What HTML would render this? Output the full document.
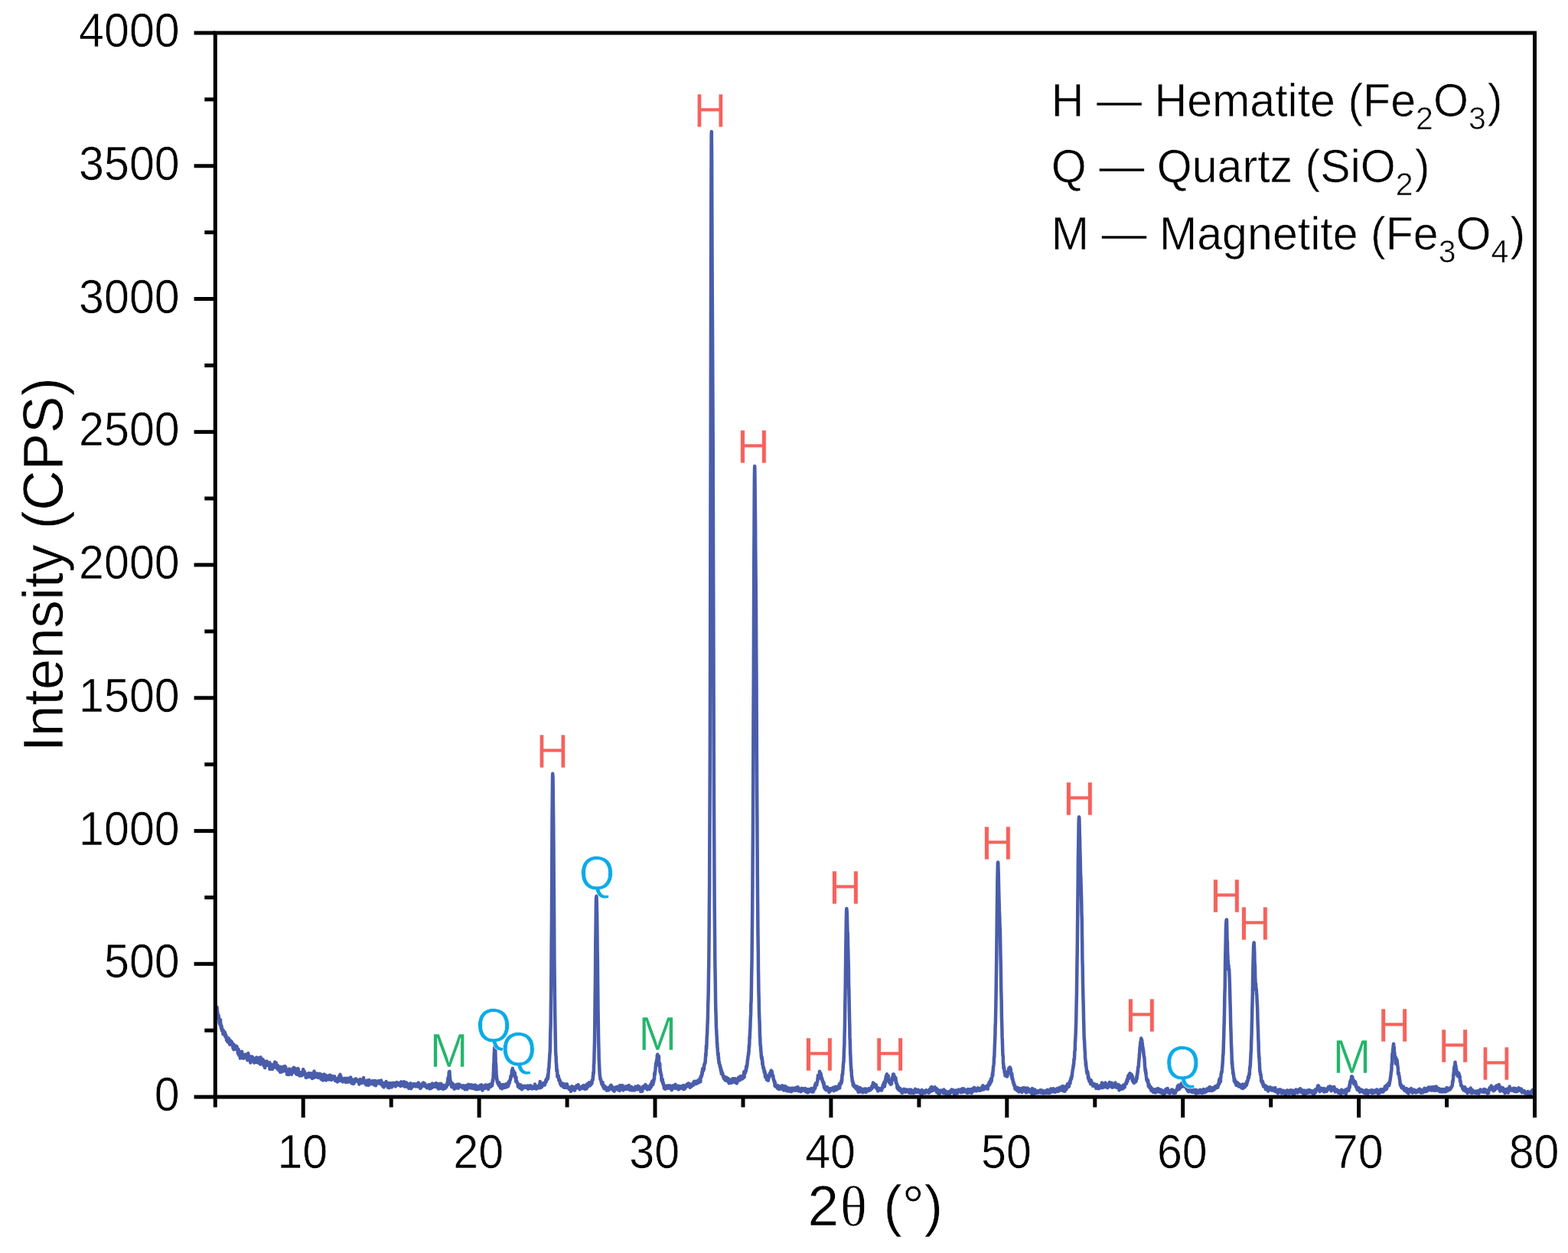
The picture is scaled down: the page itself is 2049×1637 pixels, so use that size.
<!DOCTYPE html>
<html lang="en"><head><meta charset="utf-8"><title>XRD pattern</title>
<style>html,body{margin:0;padding:0;background:#fff}body{width:2049px;height:1637px;overflow:hidden}svg{display:block}text{font-family:"Liberation Sans",sans-serif}</style>
</head><body>
<svg width="2049" height="1637" viewBox="0 0 2049 1637">
<rect x="0" y="0" width="2049" height="1637" fill="#fff"/>
<defs><clipPath id="cp"><rect x="281.3" y="43.0" width="1724.2" height="1390.1"/></clipPath></defs>
<path clip-path="url(#cp)" d="M281.3,1313.5 L281.5,1309.1 L281.8,1314.6 L282.0,1314.3 L282.2,1314.9 L282.4,1317.3 L282.7,1319.5 L282.9,1316.4 L283.1,1318.0 L283.4,1323.8 L283.6,1315.9 L283.8,1319.8 L284.1,1324.5 L284.3,1322.1 L284.5,1325.9 L284.7,1326.1 L285.0,1325.3 L285.2,1330.5 L285.4,1327.6 L285.7,1326.8 L285.9,1327.9 L286.1,1332.1 L286.4,1330.6 L286.6,1336.7 L286.8,1334.5 L287.0,1334.1 L287.3,1338.5 L287.5,1336.5 L287.7,1333.4 L288.0,1332.1 L288.2,1336.5 L288.4,1336.9 L288.7,1341.3 L288.9,1342.5 L289.1,1343.6 L289.3,1340.4 L289.6,1340.7 L289.8,1344.5 L290.0,1346.6 L290.3,1344.4 L290.5,1345.2 L290.7,1347.0 L291.0,1344.9 L291.2,1348.4 L291.4,1348.8 L291.6,1351.3 L291.9,1348.9 L292.1,1346.4 L292.3,1349.1 L292.6,1349.1 L292.8,1348.3 L293.0,1348.7 L293.3,1348.3 L293.5,1348.5 L293.7,1348.5 L293.9,1351.8 L294.2,1349.9 L294.4,1354.3 L294.6,1350.9 L294.9,1354.7 L295.1,1352.9 L295.3,1352.5 L295.6,1355.0 L295.8,1354.7 L296.0,1358.9 L296.2,1357.9 L296.5,1355.2 L296.7,1359.5 L296.9,1356.3 L297.2,1360.9 L297.4,1360.2 L297.6,1360.9 L297.9,1358.9 L298.1,1358.1 L298.3,1361.7 L298.5,1360.1 L298.8,1356.6 L299.0,1360.8 L299.2,1362.1 L299.5,1359.7 L299.7,1361.2 L299.9,1362.3 L300.2,1364.7 L300.4,1359.5 L300.6,1362.5 L300.8,1361.6 L301.1,1364.0 L301.3,1359.4 L301.5,1360.8 L301.8,1360.5 L302.0,1362.9 L302.2,1361.9 L302.5,1361.2 L302.7,1361.1 L302.9,1362.7 L303.1,1363.7 L303.4,1364.6 L303.6,1365.7 L303.8,1366.5 L304.1,1364.0 L304.3,1365.6 L304.5,1369.5 L304.7,1366.1 L305.0,1364.1 L305.2,1367.4 L305.4,1371.2 L305.7,1368.1 L305.9,1366.7 L306.1,1368.4 L306.4,1370.1 L306.6,1365.7 L306.8,1365.8 L307.0,1370.0 L307.3,1368.2 L307.5,1369.1 L307.7,1368.3 L308.0,1366.8 L308.2,1368.0 L308.4,1369.4 L308.7,1370.8 L308.9,1371.0 L309.1,1369.3 L309.3,1366.9 L309.6,1368.9 L309.8,1369.7 L310.0,1369.6 L310.3,1370.5 L310.5,1370.0 L310.7,1374.1 L311.0,1376.4 L311.2,1373.9 L311.4,1376.0 L311.6,1370.8 L311.9,1375.0 L312.1,1375.7 L312.3,1378.8 L312.6,1375.4 L312.8,1377.6 L313.0,1374.3 L313.3,1375.0 L313.5,1378.5 L313.7,1376.1 L313.9,1382.6 L314.2,1378.4 L314.4,1374.4 L314.6,1375.3 L314.9,1376.5 L315.1,1376.9 L315.3,1379.8 L315.6,1379.8 L315.8,1376.7 L316.0,1373.7 L316.2,1382.1 L316.5,1376.6 L316.7,1377.0 L316.9,1376.6 L317.2,1380.7 L317.4,1380.4 L317.6,1379.5 L317.9,1382.0 L318.1,1382.7 L318.3,1382.2 L318.5,1380.7 L318.8,1380.0 L319.0,1380.9 L319.2,1380.7 L319.5,1382.3 L319.7,1382.3 L319.9,1378.4 L320.2,1380.7 L320.4,1380.6 L320.6,1378.4 L320.8,1377.7 L321.1,1377.6 L321.3,1379.5 L321.5,1380.5 L321.8,1379.9 L322.0,1380.3 L322.2,1377.9 L322.5,1380.3 L322.7,1379.7 L322.9,1381.1 L323.1,1378.2 L323.4,1385.2 L323.6,1380.1 L323.8,1379.2 L324.1,1383.0 L324.3,1376.1 L324.5,1380.7 L324.7,1380.7 L325.0,1382.7 L325.2,1378.9 L325.4,1380.6 L325.7,1382.6 L325.9,1381.4 L326.1,1380.9 L326.4,1380.3 L326.6,1382.7 L326.8,1385.3 L327.0,1384.7 L327.3,1388.4 L327.5,1385.3 L327.7,1382.4 L328.0,1382.9 L328.2,1384.0 L328.4,1384.4 L328.7,1380.6 L328.9,1383.2 L329.1,1381.9 L329.3,1383.0 L329.6,1385.1 L329.8,1380.7 L330.0,1386.4 L330.3,1386.4 L330.5,1385.0 L330.7,1385.7 L331.0,1385.6 L331.2,1385.8 L331.4,1382.8 L331.6,1384.9 L331.9,1384.5 L332.1,1388.5 L332.3,1387.2 L332.6,1383.6 L332.8,1388.3 L333.0,1383.6 L333.3,1388.1 L333.5,1385.5 L333.7,1387.7 L333.9,1385.5 L334.2,1387.5 L334.4,1386.1 L334.6,1382.2 L334.9,1386.2 L335.1,1381.4 L335.3,1386.3 L335.6,1387.9 L335.8,1385.5 L336.0,1386.7 L336.2,1382.6 L336.5,1384.6 L336.7,1384.1 L336.9,1385.4 L337.2,1382.0 L337.4,1385.4 L337.6,1386.0 L337.9,1388.7 L338.1,1388.8 L338.3,1386.6 L338.5,1384.9 L338.8,1384.5 L339.0,1388.4 L339.2,1385.5 L339.5,1386.1 L339.7,1388.5 L339.9,1385.3 L340.2,1390.6 L340.4,1385.6 L340.6,1381.3 L340.8,1388.0 L341.1,1385.9 L341.3,1389.5 L341.5,1387.2 L341.8,1384.2 L342.0,1387.6 L342.2,1385.6 L342.5,1386.3 L342.7,1386.4 L342.9,1385.4 L343.1,1385.1 L343.4,1384.0 L343.6,1385.2 L343.8,1388.4 L344.1,1385.1 L344.3,1386.0 L344.5,1392.0 L344.8,1388.2 L345.0,1388.4 L345.2,1388.5 L345.4,1389.7 L345.7,1393.4 L345.9,1391.6 L346.1,1395.0 L346.4,1391.2 L346.6,1386.9 L346.8,1389.2 L347.0,1388.7 L347.3,1391.0 L347.5,1391.6 L347.7,1391.4 L348.0,1388.9 L348.2,1390.5 L348.4,1390.0 L348.7,1386.5 L348.9,1391.8 L349.1,1391.1 L349.3,1389.7 L349.6,1389.0 L349.8,1389.1 L350.0,1391.6 L350.3,1388.7 L350.5,1389.4 L350.7,1388.6 L351.0,1391.5 L351.2,1389.2 L351.4,1389.5 L351.6,1391.3 L351.9,1390.7 L352.1,1391.6 L352.3,1388.2 L352.6,1396.8 L352.8,1393.9 L353.0,1394.5 L353.3,1392.1 L353.5,1392.8 L353.7,1392.4 L353.9,1390.4 L354.2,1394.9 L354.4,1393.6 L354.6,1392.6 L354.9,1394.7 L355.1,1392.0 L355.3,1392.3 L355.6,1394.6 L355.8,1396.9 L356.0,1390.9 L356.2,1393.2 L356.5,1393.5 L356.7,1394.2 L356.9,1394.4 L357.2,1392.7 L357.4,1394.1 L357.6,1394.9 L357.9,1391.9 L358.1,1392.7 L358.3,1393.8 L358.5,1393.6 L358.8,1389.5 L359.0,1390.2 L359.2,1387.5 L359.5,1392.0 L359.7,1392.4 L359.9,1390.4 L360.2,1388.7 L360.4,1390.3 L360.6,1390.9 L360.8,1388.6 L361.1,1393.8 L361.3,1395.2 L361.5,1394.7 L361.8,1394.3 L362.0,1393.4 L362.2,1392.5 L362.5,1394.0 L362.7,1392.2 L362.9,1396.8 L363.1,1392.1 L363.4,1397.2 L363.6,1393.8 L363.8,1397.8 L364.1,1395.6 L364.3,1396.3 L364.5,1395.7 L364.8,1395.4 L365.0,1397.4 L365.2,1397.3 L365.4,1396.9 L365.7,1399.9 L365.9,1399.0 L366.1,1400.8 L366.4,1397.9 L366.6,1393.8 L366.8,1396.5 L367.1,1399.4 L367.3,1399.0 L367.5,1395.9 L367.7,1398.5 L368.0,1400.4 L368.2,1399.2 L368.4,1399.1 L368.7,1399.0 L368.9,1395.8 L369.1,1396.8 L369.3,1399.6 L369.6,1397.8 L369.8,1398.9 L370.0,1399.0 L370.3,1399.5 L370.5,1393.6 L370.7,1397.3 L371.0,1395.7 L371.2,1395.1 L371.4,1397.4 L371.6,1395.8 L371.9,1395.9 L372.1,1396.5 L372.3,1393.1 L372.6,1396.6 L372.8,1397.6 L373.0,1396.1 L373.3,1394.2 L373.5,1395.8 L373.7,1398.6 L373.9,1399.5 L374.2,1400.0 L374.4,1399.8 L374.6,1398.3 L374.9,1397.8 L375.1,1403.7 L375.3,1400.0 L375.6,1402.3 L375.8,1399.4 L376.0,1399.2 L376.2,1402.3 L376.5,1401.9 L376.7,1402.8 L376.9,1400.5 L377.2,1404.0 L377.4,1403.1 L377.6,1402.2 L377.9,1398.7 L378.1,1396.4 L378.3,1400.5 L378.5,1402.6 L378.8,1400.2 L379.0,1401.7 L379.2,1399.4 L379.5,1402.1 L379.7,1400.8 L379.9,1400.3 L380.2,1399.5 L380.4,1400.6 L380.6,1398.3 L380.8,1400.3 L381.1,1403.7 L381.3,1398.8 L381.5,1400.7 L381.8,1401.1 L382.0,1397.0 L382.2,1401.0 L382.5,1398.8 L382.7,1399.7 L382.9,1395.7 L383.1,1398.4 L383.4,1397.1 L383.6,1399.8 L383.8,1394.8 L384.1,1399.2 L384.3,1395.9 L384.5,1395.8 L384.8,1395.9 L385.0,1395.3 L385.2,1400.9 L385.4,1398.7 L385.7,1399.6 L385.9,1399.6 L386.1,1398.8 L386.4,1400.8 L386.6,1402.6 L386.8,1401.5 L387.1,1398.8 L387.3,1403.5 L387.5,1401.3 L387.7,1403.0 L388.0,1399.2 L388.2,1403.7 L388.4,1401.2 L388.7,1400.6 L388.9,1400.0 L389.1,1396.0 L389.3,1397.3 L389.6,1401.8 L389.8,1396.4 L390.0,1402.4 L390.3,1403.8 L390.5,1403.4 L390.7,1400.8 L391.0,1400.5 L391.2,1405.5 L391.4,1401.3 L391.6,1402.8 L391.9,1401.4 L392.1,1403.5 L392.3,1401.5 L392.6,1402.2 L392.8,1405.3 L393.0,1400.9 L393.3,1403.0 L393.5,1402.2 L393.7,1401.4 L393.9,1405.2 L394.2,1403.7 L394.4,1405.0 L394.6,1405.1 L394.9,1403.0 L395.1,1402.7 L395.3,1400.9 L395.6,1400.6 L395.8,1402.8 L396.0,1404.0 L396.2,1396.9 L396.5,1398.5 L396.7,1402.2 L396.9,1403.4 L397.2,1402.4 L397.4,1401.2 L397.6,1399.7 L397.9,1400.0 L398.1,1401.1 L398.3,1402.4 L398.5,1402.0 L398.8,1403.2 L399.0,1403.0 L399.2,1403.8 L399.5,1403.2 L399.7,1407.8 L399.9,1405.6 L400.2,1405.9 L400.4,1407.6 L400.6,1406.2 L400.8,1407.7 L401.1,1407.0 L401.3,1406.2 L401.5,1405.9 L401.8,1406.1 L402.0,1402.9 L402.2,1404.1 L402.5,1403.5 L402.7,1403.4 L402.9,1404.7 L403.1,1404.9 L403.4,1401.9 L403.6,1403.8 L403.8,1406.1 L404.1,1406.8 L404.3,1402.8 L404.5,1404.4 L404.8,1403.3 L405.0,1404.1 L405.2,1403.9 L405.4,1403.6 L405.7,1405.5 L405.9,1403.7 L406.1,1402.2 L406.4,1403.0 L406.6,1407.3 L406.8,1407.0 L407.1,1407.3 L407.3,1405.8 L407.5,1404.3 L407.7,1405.4 L408.0,1409.1 L408.2,1406.2 L408.4,1405.1 L408.7,1407.1 L408.9,1403.1 L409.1,1407.1 L409.4,1403.9 L409.6,1401.7 L409.8,1407.4 L410.0,1405.7 L410.3,1404.0 L410.5,1399.6 L410.7,1407.8 L411.0,1403.9 L411.2,1404.4 L411.4,1405.6 L411.6,1406.3 L411.9,1405.8 L412.1,1405.5 L412.3,1407.1 L412.6,1402.5 L412.8,1407.0 L413.0,1405.8 L413.3,1406.2 L413.5,1405.8 L413.7,1405.0 L413.9,1406.4 L414.2,1405.6 L414.4,1402.5 L414.6,1403.8 L414.9,1406.1 L415.1,1404.2 L415.3,1407.0 L415.6,1405.4 L415.8,1408.1 L416.0,1407.5 L416.2,1406.9 L416.5,1403.2 L416.7,1404.6 L416.9,1403.8 L417.2,1404.2 L417.4,1403.7 L417.6,1403.5 L417.9,1402.9 L418.1,1403.9 L418.3,1405.9 L418.5,1406.1 L418.8,1403.3 L419.0,1403.6 L419.2,1405.6 L419.5,1409.9 L419.7,1405.3 L419.9,1407.9 L420.2,1409.0 L420.4,1409.1 L420.6,1409.9 L420.8,1406.5 L421.1,1406.6 L421.3,1410.9 L421.5,1409.2 L421.8,1408.0 L422.0,1406.0 L422.2,1411.4 L422.5,1405.5 L422.7,1403.9 L422.9,1406.6 L423.1,1405.8 L423.4,1403.5 L423.6,1404.8 L423.8,1407.5 L424.1,1407.3 L424.3,1407.1 L424.5,1408.0 L424.8,1405.9 L425.0,1407.1 L425.2,1406.5 L425.4,1405.9 L425.7,1404.6 L425.9,1407.6 L426.1,1411.4 L426.4,1406.5 L426.6,1409.2 L426.8,1407.2 L427.1,1409.8 L427.3,1408.5 L427.5,1409.0 L427.7,1408.5 L428.0,1406.1 L428.2,1408.8 L428.4,1407.2 L428.7,1406.7 L428.9,1407.3 L429.1,1410.0 L429.4,1405.7 L429.6,1410.6 L429.8,1408.4 L430.0,1406.7 L430.3,1405.3 L430.5,1404.7 L430.7,1404.9 L431.0,1405.4 L431.2,1407.0 L431.4,1404.7 L431.7,1407.1 L431.9,1405.0 L432.1,1410.4 L432.3,1408.4 L432.6,1407.9 L432.8,1407.2 L433.0,1411.1 L433.3,1406.2 L433.5,1406.2 L433.7,1406.7 L433.9,1409.0 L434.2,1406.0 L434.4,1409.4 L434.6,1407.3 L434.9,1409.0 L435.1,1409.1 L435.3,1409.4 L435.6,1409.3 L435.8,1407.5 L436.0,1407.0 L436.2,1406.9 L436.5,1407.7 L436.7,1408.0 L436.9,1408.3 L437.2,1406.3 L437.4,1409.8 L437.6,1410.2 L437.9,1409.3 L438.1,1412.1 L438.3,1410.0 L438.5,1409.9 L438.8,1411.6 L439.0,1411.1 L439.2,1409.4 L439.5,1411.1 L439.7,1410.8 L439.9,1409.4 L440.2,1412.1 L440.4,1412.9 L440.6,1411.0 L440.8,1410.2 L441.1,1413.5 L441.3,1409.4 L441.5,1410.7 L441.8,1410.5 L442.0,1411.0 L442.2,1409.6 L442.5,1407.5 L442.7,1408.0 L442.9,1407.3 L443.1,1409.0 L443.4,1405.8 L443.6,1406.2 L443.8,1408.1 L444.1,1412.1 L444.3,1407.9 L444.5,1403.8 L444.8,1408.2 L445.0,1409.8 L445.2,1405.7 L445.4,1409.5 L445.7,1408.0 L445.9,1407.9 L446.1,1411.7 L446.4,1409.7 L446.6,1408.4 L446.8,1411.2 L447.1,1410.1 L447.3,1411.4 L447.5,1410.0 L447.7,1408.9 L448.0,1413.5 L448.2,1412.2 L448.4,1411.1 L448.7,1412.5 L448.9,1412.6 L449.1,1411.6 L449.4,1411.3 L449.6,1411.8 L449.8,1410.2 L450.0,1409.3 L450.3,1409.4 L450.5,1409.5 L450.7,1408.8 L451.0,1412.8 L451.2,1411.1 L451.4,1410.8 L451.7,1410.5 L451.9,1413.9 L452.1,1408.7 L452.3,1413.0 L452.6,1411.3 L452.8,1410.6 L453.0,1410.2 L453.3,1412.9 L453.5,1412.6 L453.7,1411.2 L453.9,1410.8 L454.2,1410.2 L454.4,1411.7 L454.6,1412.6 L454.9,1413.6 L455.1,1408.8 L455.3,1413.5 L455.6,1410.3 L455.8,1410.8 L456.0,1410.0 L456.2,1409.6 L456.5,1408.8 L456.7,1410.7 L456.9,1409.7 L457.2,1413.0 L457.4,1409.7 L457.6,1411.0 L457.9,1409.7 L458.1,1407.6 L458.3,1409.4 L458.5,1408.1 L458.8,1410.4 L459.0,1409.9 L459.2,1411.6 L459.5,1415.3 L459.7,1413.0 L459.9,1412.8 L460.2,1412.5 L460.4,1413.0 L460.6,1413.3 L460.8,1411.8 L461.1,1412.4 L461.3,1413.9 L461.5,1411.9 L461.8,1416.0 L462.0,1413.3 L462.2,1413.0 L462.5,1410.7 L462.7,1413.4 L462.9,1414.8 L463.1,1412.3 L463.4,1410.1 L463.6,1413.0 L463.8,1412.8 L464.1,1413.0 L464.3,1412.6 L464.5,1410.6 L464.8,1409.5 L465.0,1411.7 L465.2,1412.5 L465.4,1409.4 L465.7,1412.0 L465.9,1411.9 L466.1,1412.5 L466.4,1412.4 L466.6,1411.5 L466.8,1412.2 L467.1,1411.2 L467.3,1411.7 L467.5,1411.2 L467.7,1412.8 L468.0,1412.8 L468.2,1412.4 L468.4,1412.9 L468.7,1413.1 L468.9,1411.8 L469.1,1415.3 L469.4,1416.6 L469.6,1412.7 L469.8,1414.1 L470.0,1411.6 L470.3,1413.6 L470.5,1415.1 L470.7,1409.9 L471.0,1412.5 L471.2,1413.6 L471.4,1414.0 L471.7,1412.1 L471.9,1413.9 L472.1,1412.4 L472.3,1411.3 L472.6,1415.1 L472.8,1413.7 L473.0,1412.5 L473.3,1410.7 L473.5,1411.8 L473.7,1413.8 L474.0,1410.8 L474.2,1413.4 L474.4,1413.0 L474.6,1412.1 L474.9,1414.3 L475.1,1408.1 L475.3,1410.8 L475.6,1412.3 L475.8,1413.5 L476.0,1414.5 L476.2,1412.4 L476.5,1412.0 L476.7,1413.8 L476.9,1413.6 L477.2,1412.7 L477.4,1413.7 L477.6,1416.5 L477.9,1412.9 L478.1,1413.6 L478.3,1413.0 L478.5,1415.3 L478.8,1417.5 L479.0,1416.4 L479.2,1414.3 L479.5,1411.8 L479.7,1411.6 L479.9,1414.7 L480.2,1417.4 L480.4,1415.8 L480.6,1414.6 L480.8,1414.5 L481.1,1414.9 L481.3,1412.9 L481.5,1416.0 L481.8,1417.8 L482.0,1415.8 L482.2,1416.1 L482.5,1411.1 L482.7,1414.7 L482.9,1416.6 L483.1,1413.7 L483.4,1413.3 L483.6,1414.9 L483.8,1414.8 L484.1,1413.6 L484.3,1414.4 L484.5,1416.1 L484.8,1414.1 L485.0,1413.4 L485.2,1414.0 L485.4,1413.0 L485.7,1413.2 L485.9,1414.3 L486.1,1414.1 L486.4,1412.9 L486.6,1414.6 L486.8,1412.1 L487.1,1412.0 L487.3,1416.6 L487.5,1413.7 L487.7,1414.7 L488.0,1414.4 L488.2,1413.3 L488.4,1413.7 L488.7,1412.6 L488.9,1413.0 L489.1,1413.1 L489.4,1414.9 L489.6,1414.4 L489.8,1412.0 L490.0,1417.9 L490.3,1411.9 L490.5,1415.3 L490.7,1412.9 L491.0,1418.3 L491.2,1415.1 L491.4,1413.1 L491.7,1413.9 L491.9,1412.5 L492.1,1415.1 L492.3,1414.5 L492.6,1414.5 L492.8,1412.8 L493.0,1412.9 L493.3,1413.8 L493.5,1414.1 L493.7,1414.2 L494.0,1413.8 L494.2,1415.3 L494.4,1414.1 L494.6,1414.3 L494.9,1414.9 L495.1,1415.0 L495.3,1412.1 L495.6,1415.1 L495.8,1413.6 L496.0,1412.2 L496.3,1413.1 L496.5,1414.2 L496.7,1412.7 L496.9,1416.2 L497.2,1415.9 L497.4,1414.7 L497.6,1414.5 L497.9,1414.3 L498.1,1411.6 L498.3,1412.0 L498.5,1414.7 L498.8,1414.5 L499.0,1416.5 L499.2,1415.2 L499.5,1418.0 L499.7,1414.4 L499.9,1417.6 L500.2,1416.4 L500.4,1419.4 L500.6,1415.8 L500.8,1417.1 L501.1,1415.3 L501.3,1418.0 L501.5,1420.4 L501.8,1419.1 L502.0,1419.6 L502.2,1415.3 L502.5,1418.1 L502.7,1417.9 L502.9,1415.5 L503.1,1415.6 L503.4,1415.0 L503.6,1416.1 L503.8,1418.0 L504.1,1416.9 L504.3,1418.0 L504.5,1413.0 L504.8,1413.5 L505.0,1415.4 L505.2,1414.2 L505.4,1414.3 L505.7,1414.6 L505.9,1415.0 L506.1,1414.7 L506.4,1416.1 L506.6,1419.5 L506.8,1420.5 L507.1,1414.9 L507.3,1416.0 L507.5,1420.5 L507.7,1416.9 L508.0,1418.5 L508.2,1418.2 L508.4,1421.3 L508.7,1416.6 L508.9,1417.8 L509.1,1416.5 L509.4,1416.1 L509.6,1415.7 L509.8,1415.1 L510.0,1417.0 L510.3,1417.0 L510.5,1418.1 L510.7,1416.3 L511.0,1417.3 L511.2,1418.6 L511.4,1415.2 L511.7,1415.8 L511.9,1420.6 L512.1,1419.4 L512.3,1417.1 L512.6,1418.7 L512.8,1415.0 L513.0,1416.5 L513.3,1415.9 L513.5,1415.4 L513.7,1414.8 L514.0,1417.1 L514.2,1415.9 L514.4,1416.5 L514.6,1415.8 L514.9,1416.2 L515.1,1415.0 L515.3,1416.3 L515.6,1417.8 L515.8,1416.9 L516.0,1418.7 L516.3,1416.7 L516.5,1415.0 L516.7,1418.0 L516.9,1419.4 L517.2,1417.2 L517.4,1417.7 L517.6,1416.8 L517.9,1417.5 L518.1,1416.4 L518.3,1417.8 L518.5,1414.1 L518.8,1416.5 L519.0,1415.3 L519.2,1414.8 L519.5,1416.0 L519.7,1415.1 L519.9,1416.0 L520.2,1416.3 L520.4,1416.0 L520.6,1415.1 L520.8,1417.7 L521.1,1417.4 L521.3,1417.4 L521.5,1417.2 L521.8,1414.9 L522.0,1416.6 L522.2,1417.0 L522.5,1416.3 L522.7,1414.9 L522.9,1417.3 L523.1,1414.6 L523.4,1419.1 L523.6,1417.0 L523.8,1413.5 L524.1,1413.3 L524.3,1415.2 L524.5,1416.1 L524.8,1414.4 L525.0,1416.3 L525.2,1413.7 L525.4,1414.5 L525.7,1415.3 L525.9,1417.9 L526.1,1415.6 L526.4,1417.6 L526.6,1417.8 L526.8,1418.3 L527.1,1418.0 L527.3,1417.2 L527.5,1416.8 L527.7,1416.9 L528.0,1413.3 L528.2,1418.6 L528.4,1416.4 L528.7,1419.0 L528.9,1418.3 L529.1,1419.7 L529.4,1416.3 L529.6,1417.6 L529.8,1417.7 L530.0,1418.0 L530.3,1416.5 L530.5,1418.4 L530.7,1417.2 L531.0,1414.2 L531.2,1418.0 L531.4,1418.7 L531.7,1419.4 L531.9,1417.0 L532.1,1418.2 L532.3,1419.5 L532.6,1419.8 L532.8,1418.8 L533.0,1420.4 L533.3,1416.2 L533.5,1419.5 L533.7,1419.6 L534.0,1419.5 L534.2,1421.9 L534.4,1421.4 L534.6,1419.8 L534.9,1419.2 L535.1,1420.8 L535.3,1416.6 L535.6,1418.2 L535.8,1416.9 L536.0,1417.1 L536.3,1419.0 L536.5,1415.3 L536.7,1418.6 L536.9,1421.4 L537.2,1422.1 L537.4,1418.9 L537.6,1417.7 L537.9,1418.8 L538.1,1416.5 L538.3,1419.3 L538.6,1418.1 L538.8,1417.8 L539.0,1420.1 L539.2,1418.1 L539.5,1417.8 L539.7,1416.6 L539.9,1416.3 L540.2,1416.5 L540.4,1418.9 L540.6,1416.8 L540.8,1416.3 L541.1,1417.8 L541.3,1416.8 L541.5,1416.9 L541.8,1416.3 L542.0,1417.9 L542.2,1417.3 L542.5,1417.7 L542.7,1417.9 L542.9,1418.8 L543.1,1418.3 L543.4,1419.4 L543.6,1418.1 L543.8,1416.8 L544.1,1416.9 L544.3,1416.8 L544.5,1418.0 L544.8,1416.0 L545.0,1418.7 L545.2,1417.1 L545.4,1417.7 L545.7,1419.4 L545.9,1419.5 L546.1,1417.6 L546.4,1418.6 L546.6,1418.4 L546.8,1414.6 L547.1,1418.1 L547.3,1418.8 L547.5,1418.0 L547.7,1419.9 L548.0,1419.4 L548.2,1418.7 L548.4,1420.6 L548.7,1419.6 L548.9,1419.9 L549.1,1419.5 L549.4,1422.0 L549.6,1417.1 L549.8,1419.5 L550.0,1418.5 L550.3,1420.4 L550.5,1420.6 L550.7,1418.5 L551.0,1418.8 L551.2,1417.2 L551.4,1419.0 L551.7,1418.8 L551.9,1416.7 L552.1,1415.9 L552.3,1415.4 L552.6,1416.6 L552.8,1416.1 L553.0,1417.5 L553.3,1414.6 L553.5,1414.9 L553.7,1415.0 L554.0,1418.7 L554.2,1415.4 L554.4,1417.7 L554.6,1416.2 L554.9,1416.4 L555.1,1415.6 L555.3,1417.7 L555.6,1418.1 L555.8,1419.2 L556.0,1419.7 L556.3,1417.6 L556.5,1419.8 L556.7,1417.9 L556.9,1419.6 L557.2,1420.1 L557.4,1418.3 L557.6,1418.6 L557.9,1421.3 L558.1,1420.3 L558.3,1420.1 L558.6,1419.2 L558.8,1421.1 L559.0,1420.6 L559.2,1420.1 L559.5,1418.9 L559.7,1418.6 L559.9,1420.4 L560.2,1417.2 L560.4,1418.9 L560.6,1420.4 L560.9,1421.4 L561.1,1419.9 L561.3,1422.4 L561.5,1418.9 L561.8,1418.3 L562.0,1417.4 L562.2,1418.4 L562.5,1421.4 L562.7,1419.5 L562.9,1418.2 L563.1,1422.0 L563.4,1420.0 L563.6,1418.0 L563.8,1418.7 L564.1,1421.3 L564.3,1419.2 L564.5,1418.3 L564.8,1415.4 L565.0,1418.7 L565.2,1419.3 L565.4,1417.7 L565.7,1417.5 L565.9,1417.2 L566.1,1416.0 L566.4,1418.1 L566.6,1419.9 L566.8,1418.1 L567.1,1418.3 L567.3,1417.2 L567.5,1417.5 L567.7,1419.8 L568.0,1417.9 L568.2,1417.6 L568.4,1419.3 L568.7,1417.8 L568.9,1418.8 L569.1,1418.8 L569.4,1419.1 L569.6,1417.8 L569.8,1414.9 L570.0,1418.4 L570.3,1420.2 L570.5,1419.0 L570.7,1419.6 L571.0,1418.5 L571.2,1419.3 L571.4,1415.9 L571.7,1418.5 L571.9,1417.3 L572.1,1421.0 L572.3,1420.5 L572.6,1417.6 L572.8,1422.6 L573.0,1420.2 L573.3,1422.4 L573.5,1418.1 L573.7,1421.9 L574.0,1420.3 L574.2,1419.9 L574.4,1421.8 L574.6,1416.1 L574.9,1419.6 L575.1,1417.1 L575.3,1420.2 L575.6,1421.3 L575.8,1419.1 L576.0,1419.3 L576.3,1415.7 L576.5,1421.2 L576.7,1421.9 L576.9,1420.7 L577.2,1419.3 L577.4,1418.9 L577.6,1420.5 L577.9,1419.9 L578.1,1418.6 L578.3,1417.8 L578.6,1420.0 L578.8,1419.0 L579.0,1423.0 L579.2,1420.7 L579.5,1418.9 L579.7,1419.7 L579.9,1420.1 L580.2,1417.9 L580.4,1420.6 L580.6,1421.9 L580.9,1420.2 L581.1,1420.3 L581.3,1422.1 L581.5,1419.1 L581.8,1418.1 L582.0,1421.0 L582.2,1421.3 L582.5,1420.1 L582.7,1418.2 L582.9,1420.4 L583.1,1420.4 L583.4,1420.0 L583.6,1418.6 L583.8,1418.3 L584.1,1418.5 L584.3,1416.2 L584.5,1414.2 L584.8,1417.5 L585.0,1414.3 L585.2,1414.2 L585.4,1408.7 L585.7,1412.8 L585.9,1410.0 L586.1,1407.0 L586.4,1407.3 L586.6,1403.4 L586.8,1400.5 L587.1,1404.0 L587.3,1401.7 L587.5,1399.8 L587.7,1405.3 L588.0,1407.6 L588.2,1412.3 L588.4,1410.4 L588.7,1414.8 L588.9,1413.2 L589.1,1413.0 L589.4,1415.8 L589.6,1418.5 L589.8,1417.0 L590.0,1419.0 L590.3,1420.1 L590.5,1419.3 L590.7,1418.3 L591.0,1419.0 L591.2,1417.7 L591.4,1415.5 L591.7,1417.6 L591.9,1417.4 L592.1,1419.3 L592.3,1416.7 L592.6,1418.2 L592.8,1417.5 L593.0,1420.1 L593.3,1419.0 L593.5,1422.7 L593.7,1420.2 L594.0,1421.0 L594.2,1421.2 L594.4,1417.6 L594.6,1421.9 L594.9,1420.0 L595.1,1419.9 L595.3,1418.8 L595.6,1418.1 L595.8,1421.4 L596.0,1419.8 L596.3,1419.9 L596.5,1417.9 L596.7,1417.5 L596.9,1419.2 L597.2,1419.4 L597.4,1420.0 L597.6,1418.2 L597.9,1416.6 L598.1,1418.5 L598.3,1420.1 L598.6,1420.4 L598.8,1420.3 L599.0,1421.7 L599.2,1417.2 L599.5,1419.4 L599.7,1420.0 L599.9,1416.5 L600.2,1419.2 L600.4,1417.4 L600.6,1419.0 L600.9,1417.8 L601.1,1419.1 L601.3,1419.7 L601.5,1418.7 L601.8,1418.3 L602.0,1417.8 L602.2,1419.1 L602.5,1419.7 L602.7,1420.0 L602.9,1419.1 L603.2,1420.2 L603.4,1420.0 L603.6,1418.9 L603.8,1418.8 L604.1,1418.9 L604.3,1420.5 L604.5,1421.4 L604.8,1419.1 L605.0,1419.3 L605.2,1419.9 L605.4,1419.1 L605.7,1418.2 L605.9,1419.6 L606.1,1418.8 L606.4,1420.6 L606.6,1419.6 L606.8,1420.4 L607.1,1421.3 L607.3,1418.9 L607.5,1423.3 L607.7,1419.8 L608.0,1418.8 L608.2,1419.4 L608.4,1422.1 L608.7,1419.8 L608.9,1422.5 L609.1,1421.3 L609.4,1418.3 L609.6,1420.1 L609.8,1418.8 L610.0,1421.9 L610.3,1423.3 L610.5,1421.6 L610.7,1419.0 L611.0,1419.5 L611.2,1419.4 L611.4,1420.9 L611.7,1420.8 L611.9,1420.9 L612.1,1416.7 L612.3,1420.3 L612.6,1417.9 L612.8,1420.3 L613.0,1418.0 L613.3,1421.1 L613.5,1420.2 L613.7,1419.0 L614.0,1420.2 L614.2,1420.0 L614.4,1419.7 L614.6,1420.3 L614.9,1417.6 L615.1,1418.2 L615.3,1421.5 L615.6,1417.3 L615.8,1419.6 L616.0,1419.6 L616.3,1419.8 L616.5,1418.5 L616.7,1418.8 L616.9,1420.5 L617.2,1419.8 L617.4,1421.8 L617.6,1417.8 L617.9,1421.5 L618.1,1421.7 L618.3,1421.6 L618.6,1420.6 L618.8,1419.9 L619.0,1421.3 L619.2,1420.8 L619.5,1421.2 L619.7,1418.9 L619.9,1420.2 L620.2,1422.6 L620.4,1418.3 L620.6,1419.6 L620.9,1417.5 L621.1,1420.8 L621.3,1420.6 L621.5,1420.1 L621.8,1421.8 L622.0,1420.5 L622.2,1418.4 L622.5,1419.2 L622.7,1423.4 L622.9,1418.7 L623.2,1420.0 L623.4,1419.5 L623.6,1420.7 L623.8,1420.6 L624.1,1420.9 L624.3,1421.1 L624.5,1422.7 L624.8,1420.1 L625.0,1421.2 L625.2,1421.0 L625.5,1421.1 L625.7,1421.8 L625.9,1421.3 L626.1,1422.8 L626.4,1420.5 L626.6,1420.2 L626.8,1420.6 L627.1,1422.3 L627.3,1418.1 L627.5,1419.9 L627.7,1419.6 L628.0,1419.9 L628.2,1420.3 L628.4,1420.1 L628.7,1421.1 L628.9,1420.5 L629.1,1417.3 L629.4,1418.7 L629.6,1417.8 L629.8,1421.5 L630.0,1423.3 L630.3,1422.8 L630.5,1424.6 L630.7,1419.8 L631.0,1419.6 L631.2,1421.1 L631.4,1420.7 L631.7,1420.6 L631.9,1421.0 L632.1,1419.7 L632.3,1421.7 L632.6,1420.7 L632.8,1420.0 L633.0,1421.7 L633.3,1420.5 L633.5,1418.4 L633.7,1418.4 L634.0,1422.0 L634.2,1417.5 L634.4,1418.2 L634.6,1417.7 L634.9,1418.9 L635.1,1418.1 L635.3,1420.8 L635.6,1419.6 L635.8,1420.9 L636.0,1420.4 L636.3,1418.3 L636.5,1417.9 L636.7,1420.1 L636.9,1420.7 L637.2,1419.2 L637.4,1419.6 L637.6,1417.7 L637.9,1419.3 L638.1,1423.1 L638.3,1419.8 L638.6,1420.2 L638.8,1420.7 L639.0,1419.3 L639.2,1419.3 L639.5,1419.7 L639.7,1417.1 L639.9,1418.6 L640.2,1418.4 L640.4,1418.7 L640.6,1417.1 L640.9,1420.1 L641.1,1416.8 L641.3,1418.6 L641.5,1416.1 L641.8,1416.0 L642.0,1417.0 L642.2,1418.1 L642.5,1416.9 L642.7,1416.5 L642.9,1418.6 L643.2,1416.5 L643.4,1416.4 L643.6,1412.5 L643.8,1410.7 L644.1,1412.6 L644.3,1410.1 L644.5,1408.5 L644.8,1402.3 L645.0,1396.9 L645.2,1389.8 L645.5,1389.7 L645.7,1379.2 L645.9,1375.5 L646.1,1371.8 L646.4,1368.0 L646.6,1368.0 L646.8,1366.6 L647.1,1370.1 L647.3,1371.2 L647.5,1379.2 L647.7,1386.9 L648.0,1390.3 L648.2,1392.9 L648.4,1400.8 L648.7,1403.6 L648.9,1404.8 L649.1,1410.5 L649.4,1409.1 L649.6,1411.4 L649.8,1413.8 L650.0,1413.8 L650.3,1414.9 L650.5,1415.2 L650.7,1415.5 L651.0,1415.3 L651.2,1415.8 L651.4,1417.0 L651.7,1417.7 L651.9,1413.9 L652.1,1418.5 L652.3,1417.5 L652.6,1416.0 L652.8,1416.6 L653.0,1419.3 L653.3,1416.0 L653.5,1416.6 L653.7,1419.7 L654.0,1421.2 L654.2,1418.9 L654.4,1420.1 L654.6,1420.4 L654.9,1421.1 L655.1,1420.7 L655.3,1419.6 L655.6,1418.5 L655.8,1422.2 L656.0,1422.4 L656.3,1417.7 L656.5,1419.9 L656.7,1417.8 L656.9,1418.5 L657.2,1417.0 L657.4,1417.5 L657.6,1419.2 L657.9,1419.1 L658.1,1418.6 L658.3,1418.1 L658.6,1419.9 L658.8,1421.1 L659.0,1418.9 L659.2,1419.0 L659.5,1419.0 L659.7,1420.0 L659.9,1417.8 L660.2,1420.8 L660.4,1419.0 L660.6,1416.5 L660.9,1419.6 L661.1,1417.5 L661.3,1417.5 L661.5,1417.5 L661.8,1420.3 L662.0,1416.7 L662.2,1417.8 L662.5,1417.3 L662.7,1417.4 L662.9,1417.6 L663.2,1415.8 L663.4,1415.2 L663.6,1419.4 L663.8,1417.6 L664.1,1416.4 L664.3,1418.8 L664.5,1413.4 L664.8,1416.2 L665.0,1414.0 L665.2,1414.1 L665.5,1414.3 L665.7,1415.0 L665.9,1413.6 L666.1,1412.4 L666.4,1410.7 L666.6,1411.4 L666.8,1410.9 L667.1,1409.7 L667.3,1406.3 L667.5,1406.8 L667.8,1407.3 L668.0,1407.2 L668.2,1404.7 L668.4,1404.5 L668.7,1402.7 L668.9,1398.7 L669.1,1399.1 L669.4,1399.3 L669.6,1398.5 L669.8,1395.8 L670.0,1400.7 L670.3,1397.8 L670.5,1399.1 L670.7,1398.7 L671.0,1399.2 L671.2,1400.3 L671.4,1399.4 L671.7,1404.8 L671.9,1401.3 L672.1,1401.4 L672.3,1404.9 L672.6,1405.7 L672.8,1401.8 L673.0,1407.1 L673.3,1407.0 L673.5,1408.4 L673.7,1409.0 L674.0,1409.9 L674.2,1413.0 L674.4,1407.2 L674.6,1412.7 L674.9,1412.0 L675.1,1413.6 L675.3,1412.4 L675.6,1414.0 L675.8,1414.1 L676.0,1414.6 L676.3,1415.5 L676.5,1416.9 L676.7,1416.0 L676.9,1419.6 L677.2,1416.4 L677.4,1416.8 L677.6,1417.5 L677.9,1419.8 L678.1,1416.4 L678.3,1419.3 L678.6,1417.8 L678.8,1421.3 L679.0,1419.4 L679.2,1420.2 L679.5,1420.6 L679.7,1420.7 L679.9,1417.6 L680.2,1420.1 L680.4,1419.7 L680.6,1417.4 L680.9,1422.1 L681.1,1418.3 L681.3,1420.9 L681.5,1421.4 L681.8,1421.3 L682.0,1423.2 L682.2,1423.0 L682.5,1422.6 L682.7,1421.9 L682.9,1420.2 L683.2,1419.6 L683.4,1421.4 L683.6,1420.2 L683.8,1419.9 L684.1,1420.5 L684.3,1419.7 L684.5,1420.5 L684.8,1418.8 L685.0,1419.6 L685.2,1419.1 L685.5,1418.8 L685.7,1418.9 L685.9,1420.0 L686.1,1420.9 L686.4,1419.3 L686.6,1420.1 L686.8,1420.1 L687.1,1419.6 L687.3,1420.4 L687.5,1418.9 L687.8,1419.0 L688.0,1420.7 L688.2,1419.1 L688.4,1420.9 L688.7,1418.7 L688.9,1418.9 L689.1,1419.9 L689.4,1418.8 L689.6,1418.7 L689.8,1419.6 L690.1,1422.7 L690.3,1420.2 L690.5,1420.2 L690.7,1419.4 L691.0,1421.7 L691.2,1419.5 L691.4,1419.8 L691.7,1419.6 L691.9,1421.7 L692.1,1421.1 L692.3,1418.4 L692.6,1418.8 L692.8,1419.9 L693.0,1418.4 L693.3,1419.4 L693.5,1420.3 L693.7,1421.8 L694.0,1418.4 L694.2,1420.0 L694.4,1419.6 L694.6,1422.4 L694.9,1420.9 L695.1,1420.0 L695.3,1420.9 L695.6,1421.7 L695.8,1422.3 L696.0,1420.7 L696.3,1421.5 L696.5,1421.5 L696.7,1421.4 L696.9,1421.7 L697.2,1421.2 L697.4,1421.5 L697.6,1420.4 L697.9,1422.1 L698.1,1421.5 L698.3,1419.8 L698.6,1419.8 L698.8,1419.2 L699.0,1416.6 L699.2,1418.1 L699.5,1417.5 L699.7,1418.4 L699.9,1419.2 L700.2,1420.1 L700.4,1421.6 L700.6,1421.2 L700.9,1422.6 L701.1,1421.2 L701.3,1421.9 L701.5,1421.3 L701.8,1420.2 L702.0,1420.9 L702.2,1419.4 L702.5,1419.4 L702.7,1419.3 L702.9,1419.5 L703.2,1420.2 L703.4,1421.2 L703.6,1419.7 L703.8,1420.4 L704.1,1420.2 L704.3,1419.1 L704.5,1420.8 L704.8,1421.3 L705.0,1418.4 L705.2,1416.2 L705.5,1416.8 L705.7,1413.1 L705.9,1419.8 L706.1,1418.7 L706.4,1420.9 L706.6,1419.0 L706.8,1415.4 L707.1,1415.9 L707.3,1419.6 L707.5,1418.7 L707.8,1419.4 L708.0,1420.1 L708.2,1418.6 L708.4,1418.5 L708.7,1417.8 L708.9,1417.3 L709.1,1416.4 L709.4,1415.2 L709.6,1416.9 L709.8,1416.9 L710.1,1416.4 L710.3,1415.7 L710.5,1416.4 L710.7,1417.6 L711.0,1416.8 L711.2,1415.0 L711.4,1417.4 L711.7,1414.6 L711.9,1417.6 L712.1,1414.4 L712.3,1414.1 L712.6,1414.9 L712.8,1414.2 L713.0,1414.1 L713.3,1410.9 L713.5,1413.6 L713.7,1413.5 L714.0,1411.4 L714.2,1409.8 L714.4,1410.4 L714.6,1410.6 L714.9,1408.2 L715.1,1410.3 L715.3,1409.6 L715.6,1409.4 L715.8,1404.5 L716.0,1408.9 L716.3,1406.1 L716.5,1402.1 L716.7,1400.2 L716.9,1396.0 L717.2,1396.1 L717.4,1395.3 L717.6,1389.1 L717.9,1386.5 L718.1,1382.7 L718.3,1378.7 L718.6,1374.9 L718.8,1373.2 L719.0,1365.4 L719.2,1350.6 L719.5,1343.7 L719.7,1333.8 L719.9,1312.9 L720.2,1289.7 L720.4,1264.9 L720.6,1234.5 L720.9,1203.0 L721.1,1157.7 L721.3,1115.5 L721.5,1070.8 L721.8,1040.1 L722.0,1018.0 L722.2,1010.8 L722.5,1014.7 L722.7,1027.2 L722.9,1047.4 L723.2,1070.8 L723.4,1098.3 L723.6,1126.6 L723.8,1161.8 L724.1,1196.6 L724.3,1232.4 L724.5,1261.0 L724.8,1289.4 L725.0,1305.7 L725.2,1323.6 L725.5,1340.1 L725.7,1353.3 L725.9,1361.8 L726.1,1373.6 L726.4,1379.6 L726.6,1379.6 L726.8,1388.1 L727.1,1389.6 L727.3,1393.6 L727.5,1399.3 L727.8,1398.3 L728.0,1397.7 L728.2,1398.7 L728.4,1406.7 L728.7,1406.5 L728.9,1406.1 L729.1,1404.6 L729.4,1405.2 L729.6,1405.5 L729.8,1406.1 L730.1,1410.0 L730.3,1411.4 L730.5,1409.0 L730.7,1411.3 L731.0,1411.3 L731.2,1412.4 L731.4,1412.8 L731.7,1411.3 L731.9,1414.5 L732.1,1416.0 L732.4,1414.9 L732.6,1414.2 L732.8,1415.2 L733.0,1415.4 L733.3,1418.4 L733.5,1417.2 L733.7,1414.8 L734.0,1416.9 L734.2,1418.0 L734.4,1415.8 L734.6,1418.4 L734.9,1416.9 L735.1,1417.9 L735.3,1417.8 L735.6,1417.2 L735.8,1415.7 L736.0,1417.1 L736.3,1420.1 L736.5,1420.4 L736.7,1419.2 L736.9,1418.9 L737.2,1417.7 L737.4,1418.5 L737.6,1418.3 L737.9,1420.9 L738.1,1418.7 L738.3,1418.1 L738.6,1416.6 L738.8,1418.0 L739.0,1419.0 L739.2,1420.7 L739.5,1419.2 L739.7,1419.2 L739.9,1419.4 L740.2,1419.0 L740.4,1418.5 L740.6,1418.6 L740.9,1416.2 L741.1,1420.5 L741.3,1421.3 L741.5,1418.8 L741.8,1421.1 L742.0,1420.0 L742.2,1420.2 L742.5,1421.5 L742.7,1419.9 L742.9,1420.5 L743.2,1421.5 L743.4,1421.3 L743.6,1421.2 L743.8,1423.0 L744.1,1422.0 L744.3,1422.7 L744.5,1423.0 L744.8,1423.7 L745.0,1420.8 L745.2,1422.6 L745.5,1424.8 L745.7,1422.2 L745.9,1426.0 L746.1,1422.2 L746.4,1421.4 L746.6,1420.4 L746.8,1421.8 L747.1,1422.8 L747.3,1419.2 L747.5,1420.2 L747.8,1419.7 L748.0,1421.5 L748.2,1420.2 L748.4,1423.3 L748.7,1420.4 L748.9,1423.9 L749.1,1422.6 L749.4,1423.3 L749.6,1420.1 L749.8,1420.6 L750.1,1422.7 L750.3,1420.5 L750.5,1422.0 L750.7,1424.7 L751.0,1422.7 L751.2,1424.3 L751.4,1421.8 L751.7,1421.3 L751.9,1422.5 L752.1,1420.3 L752.4,1419.8 L752.6,1422.1 L752.8,1420.0 L753.0,1420.8 L753.3,1420.9 L753.5,1418.2 L753.7,1421.2 L754.0,1420.7 L754.2,1420.2 L754.4,1419.3 L754.7,1419.0 L754.9,1421.1 L755.1,1418.1 L755.3,1417.5 L755.6,1417.2 L755.8,1419.6 L756.0,1420.6 L756.3,1421.3 L756.5,1419.6 L756.7,1420.2 L756.9,1420.3 L757.2,1421.1 L757.4,1423.3 L757.6,1420.9 L757.9,1420.8 L758.1,1421.1 L758.3,1422.6 L758.6,1421.1 L758.8,1421.0 L759.0,1422.3 L759.2,1420.0 L759.5,1420.8 L759.7,1420.6 L759.9,1420.2 L760.2,1420.9 L760.4,1420.6 L760.6,1419.7 L760.9,1419.3 L761.1,1419.0 L761.3,1420.4 L761.5,1419.1 L761.8,1418.6 L762.0,1422.0 L762.2,1420.7 L762.5,1420.3 L762.7,1420.4 L762.9,1418.1 L763.2,1419.0 L763.4,1420.8 L763.6,1420.9 L763.8,1422.6 L764.1,1422.1 L764.3,1419.0 L764.5,1423.0 L764.8,1419.9 L765.0,1421.6 L765.2,1421.1 L765.5,1420.8 L765.7,1418.1 L765.9,1419.9 L766.1,1419.4 L766.4,1418.4 L766.6,1422.3 L766.8,1416.6 L767.1,1420.9 L767.3,1419.3 L767.5,1417.2 L767.8,1419.5 L768.0,1419.9 L768.2,1415.9 L768.4,1417.7 L768.7,1415.9 L768.9,1416.4 L769.1,1417.3 L769.4,1414.7 L769.6,1417.4 L769.8,1414.3 L770.1,1418.3 L770.3,1418.4 L770.5,1417.9 L770.7,1416.6 L771.0,1418.3 L771.2,1417.6 L771.4,1414.5 L771.7,1416.1 L771.9,1414.6 L772.1,1415.5 L772.4,1416.7 L772.6,1416.7 L772.8,1415.1 L773.0,1414.8 L773.3,1415.3 L773.5,1414.8 L773.7,1411.2 L774.0,1411.1 L774.2,1411.3 L774.4,1411.3 L774.7,1410.3 L774.9,1405.1 L775.1,1407.6 L775.3,1400.8 L775.6,1403.1 L775.8,1401.3 L776.0,1390.8 L776.3,1389.2 L776.5,1378.6 L776.7,1371.4 L777.0,1361.0 L777.2,1343.9 L777.4,1328.6 L777.6,1306.2 L777.9,1283.8 L778.1,1261.6 L778.3,1231.1 L778.6,1208.7 L778.8,1188.0 L779.0,1173.8 L779.2,1172.6 L779.5,1170.8 L779.7,1178.4 L779.9,1186.6 L780.2,1202.3 L780.4,1218.8 L780.6,1238.6 L780.9,1257.0 L781.1,1280.7 L781.3,1297.5 L781.5,1318.1 L781.8,1335.8 L782.0,1350.1 L782.2,1361.9 L782.5,1372.8 L782.7,1384.3 L782.9,1386.3 L783.2,1394.2 L783.4,1397.9 L783.6,1401.7 L783.8,1405.7 L784.1,1405.8 L784.3,1408.4 L784.5,1410.3 L784.8,1409.9 L785.0,1409.8 L785.2,1410.8 L785.5,1412.1 L785.7,1413.9 L785.9,1413.9 L786.1,1414.1 L786.4,1416.4 L786.6,1413.7 L786.8,1415.1 L787.1,1417.5 L787.3,1414.2 L787.5,1414.1 L787.8,1419.0 L788.0,1417.9 L788.2,1419.3 L788.4,1417.5 L788.7,1420.8 L788.9,1418.6 L789.1,1419.0 L789.4,1418.3 L789.6,1422.5 L789.8,1421.1 L790.1,1420.5 L790.3,1419.1 L790.5,1420.4 L790.7,1419.7 L791.0,1420.2 L791.2,1422.2 L791.4,1421.4 L791.7,1422.0 L791.9,1422.1 L792.1,1423.0 L792.4,1421.0 L792.6,1421.8 L792.8,1424.7 L793.0,1421.4 L793.3,1423.1 L793.5,1424.4 L793.7,1420.9 L794.0,1422.5 L794.2,1422.0 L794.4,1422.6 L794.7,1422.4 L794.9,1424.6 L795.1,1421.3 L795.3,1423.1 L795.6,1422.1 L795.8,1422.1 L796.0,1423.1 L796.3,1423.4 L796.5,1421.8 L796.7,1419.9 L797.0,1422.2 L797.2,1422.0 L797.4,1421.0 L797.6,1421.7 L797.9,1419.3 L798.1,1420.3 L798.3,1417.7 L798.6,1420.6 L798.8,1418.1 L799.0,1421.7 L799.2,1420.8 L799.5,1422.5 L799.7,1421.8 L799.9,1421.9 L800.2,1420.9 L800.4,1420.2 L800.6,1422.4 L800.9,1424.1 L801.1,1422.4 L801.3,1422.7 L801.5,1423.2 L801.8,1421.6 L802.0,1421.2 L802.2,1423.5 L802.5,1423.4 L802.7,1425.7 L802.9,1423.1 L803.2,1421.1 L803.4,1423.2 L803.6,1420.7 L803.8,1420.9 L804.1,1420.9 L804.3,1420.8 L804.5,1421.7 L804.8,1420.4 L805.0,1420.4 L805.2,1421.4 L805.5,1422.1 L805.7,1420.5 L805.9,1420.4 L806.1,1423.2 L806.4,1421.4 L806.6,1422.5 L806.8,1419.7 L807.1,1423.1 L807.3,1423.4 L807.5,1423.8 L807.8,1421.5 L808.0,1423.9 L808.2,1421.7 L808.4,1423.1 L808.7,1420.6 L808.9,1420.2 L809.1,1420.6 L809.4,1424.4 L809.6,1423.6 L809.8,1425.0 L810.1,1418.1 L810.3,1421.9 L810.5,1421.6 L810.7,1420.8 L811.0,1420.0 L811.2,1421.2 L811.4,1420.6 L811.7,1420.7 L811.9,1422.4 L812.1,1418.5 L812.4,1418.6 L812.6,1420.9 L812.8,1421.2 L813.0,1418.8 L813.3,1418.1 L813.5,1421.2 L813.7,1420.5 L814.0,1421.8 L814.2,1420.9 L814.4,1424.5 L814.7,1424.0 L814.9,1420.6 L815.1,1421.3 L815.3,1420.5 L815.6,1420.9 L815.8,1420.3 L816.0,1420.7 L816.3,1421.3 L816.5,1420.6 L816.7,1422.1 L817.0,1419.6 L817.2,1422.8 L817.4,1422.3 L817.6,1420.8 L817.9,1422.5 L818.1,1421.0 L818.3,1420.4 L818.6,1421.2 L818.8,1422.7 L819.0,1419.6 L819.3,1421.3 L819.5,1423.0 L819.7,1419.0 L819.9,1421.1 L820.2,1420.4 L820.4,1419.9 L820.6,1421.5 L820.9,1419.6 L821.1,1422.3 L821.3,1422.0 L821.5,1421.3 L821.8,1418.1 L822.0,1420.2 L822.2,1419.6 L822.5,1421.7 L822.7,1420.6 L822.9,1424.0 L823.2,1421.8 L823.4,1421.0 L823.6,1422.3 L823.8,1424.1 L824.1,1423.7 L824.3,1420.9 L824.5,1420.0 L824.8,1422.2 L825.0,1419.8 L825.2,1423.5 L825.5,1421.2 L825.7,1421.8 L825.9,1421.0 L826.1,1424.5 L826.4,1421.5 L826.6,1422.7 L826.8,1424.1 L827.1,1423.6 L827.3,1423.3 L827.5,1422.7 L827.8,1424.0 L828.0,1423.9 L828.2,1422.6 L828.4,1422.6 L828.7,1421.8 L828.9,1421.1 L829.1,1424.5 L829.4,1422.1 L829.6,1421.5 L829.8,1421.6 L830.1,1423.0 L830.3,1420.7 L830.5,1419.4 L830.7,1421.8 L831.0,1422.5 L831.2,1420.5 L831.4,1421.4 L831.7,1421.3 L831.9,1421.1 L832.1,1421.8 L832.4,1421.2 L832.6,1422.0 L832.8,1423.4 L833.0,1419.5 L833.3,1420.4 L833.5,1420.7 L833.7,1418.8 L834.0,1420.6 L834.2,1418.9 L834.4,1419.3 L834.7,1420.8 L834.9,1422.1 L835.1,1420.1 L835.3,1420.7 L835.6,1419.9 L835.8,1423.5 L836.0,1422.0 L836.3,1421.8 L836.5,1422.0 L836.7,1422.5 L837.0,1422.5 L837.2,1426.0 L837.4,1423.5 L837.6,1424.0 L837.9,1425.1 L838.1,1422.9 L838.3,1423.5 L838.6,1424.3 L838.8,1424.5 L839.0,1422.2 L839.3,1425.7 L839.5,1422.5 L839.7,1423.7 L839.9,1421.9 L840.2,1419.5 L840.4,1420.5 L840.6,1421.8 L840.9,1419.6 L841.1,1419.0 L841.3,1420.0 L841.6,1418.8 L841.8,1420.8 L842.0,1420.0 L842.2,1420.7 L842.5,1420.9 L842.7,1420.2 L842.9,1421.1 L843.2,1420.1 L843.4,1417.1 L843.6,1419.0 L843.8,1420.3 L844.1,1418.0 L844.3,1418.6 L844.5,1422.2 L844.8,1422.0 L845.0,1419.1 L845.2,1421.5 L845.5,1421.6 L845.7,1422.6 L845.9,1423.5 L846.1,1420.5 L846.4,1423.1 L846.6,1421.2 L846.8,1419.4 L847.1,1421.0 L847.3,1421.8 L847.5,1420.4 L847.8,1420.3 L848.0,1421.5 L848.2,1420.4 L848.4,1422.2 L848.7,1422.9 L848.9,1421.2 L849.1,1422.7 L849.4,1421.1 L849.6,1420.3 L849.8,1419.7 L850.1,1417.1 L850.3,1420.7 L850.5,1419.7 L850.7,1419.4 L851.0,1419.9 L851.2,1415.3 L851.4,1418.8 L851.7,1417.7 L851.9,1417.1 L852.1,1412.9 L852.4,1416.3 L852.6,1416.5 L852.8,1413.0 L853.0,1415.3 L853.3,1416.9 L853.5,1411.5 L853.7,1411.1 L854.0,1414.0 L854.2,1412.9 L854.4,1410.0 L854.7,1410.5 L854.9,1410.3 L855.1,1408.5 L855.3,1402.2 L855.6,1401.8 L855.8,1403.9 L856.0,1400.6 L856.3,1398.4 L856.5,1397.3 L856.7,1394.8 L857.0,1389.5 L857.2,1392.1 L857.4,1390.6 L857.6,1387.5 L857.9,1387.1 L858.1,1385.3 L858.3,1384.0 L858.6,1384.1 L858.8,1378.7 L859.0,1382.1 L859.3,1377.6 L859.5,1382.0 L859.7,1382.3 L859.9,1380.3 L860.2,1382.0 L860.4,1380.5 L860.6,1381.9 L860.9,1379.8 L861.1,1392.0 L861.3,1389.6 L861.6,1389.3 L861.8,1391.4 L862.0,1392.9 L862.2,1389.6 L862.5,1400.5 L862.7,1396.7 L862.9,1400.0 L863.2,1401.0 L863.4,1400.5 L863.6,1403.8 L863.8,1403.6 L864.1,1404.0 L864.3,1405.3 L864.5,1411.4 L864.8,1410.5 L865.0,1412.5 L865.2,1412.6 L865.5,1412.5 L865.7,1409.9 L865.9,1414.9 L866.1,1415.1 L866.4,1415.6 L866.6,1413.8 L866.8,1417.5 L867.1,1416.6 L867.3,1416.7 L867.5,1417.5 L867.8,1421.7 L868.0,1421.1 L868.2,1418.7 L868.4,1422.4 L868.7,1420.5 L868.9,1422.4 L869.1,1419.9 L869.4,1420.6 L869.6,1422.7 L869.8,1420.9 L870.1,1422.0 L870.3,1421.3 L870.5,1418.9 L870.7,1420.2 L871.0,1420.2 L871.2,1418.5 L871.4,1420.5 L871.7,1418.8 L871.9,1420.0 L872.1,1420.1 L872.4,1420.9 L872.6,1421.4 L872.8,1421.6 L873.0,1421.3 L873.3,1419.3 L873.5,1419.3 L873.7,1421.0 L874.0,1418.2 L874.2,1420.6 L874.4,1420.3 L874.7,1421.6 L874.9,1420.9 L875.1,1418.7 L875.3,1419.3 L875.6,1420.8 L875.8,1418.4 L876.0,1420.3 L876.3,1420.2 L876.5,1419.0 L876.7,1419.9 L877.0,1421.1 L877.2,1422.2 L877.4,1419.3 L877.6,1424.2 L877.9,1422.0 L878.1,1423.6 L878.3,1422.1 L878.6,1420.2 L878.8,1421.7 L879.0,1421.7 L879.3,1421.1 L879.5,1418.2 L879.7,1418.8 L879.9,1420.1 L880.2,1421.1 L880.4,1420.6 L880.6,1419.5 L880.9,1420.2 L881.1,1419.9 L881.3,1421.1 L881.6,1421.5 L881.8,1421.2 L882.0,1419.6 L882.2,1421.2 L882.5,1416.8 L882.7,1419.5 L882.9,1419.4 L883.2,1419.0 L883.4,1421.8 L883.6,1422.0 L883.9,1420.8 L884.1,1419.8 L884.3,1419.8 L884.5,1418.4 L884.8,1418.8 L885.0,1419.4 L885.2,1419.3 L885.5,1420.6 L885.7,1419.9 L885.9,1421.4 L886.1,1421.7 L886.4,1419.9 L886.6,1423.4 L886.8,1419.4 L887.1,1418.9 L887.3,1422.0 L887.5,1420.3 L887.8,1421.1 L888.0,1422.5 L888.2,1420.7 L888.4,1420.4 L888.7,1419.6 L888.9,1421.3 L889.1,1420.6 L889.4,1421.5 L889.6,1419.3 L889.8,1420.7 L890.1,1419.4 L890.3,1421.4 L890.5,1420.4 L890.7,1421.7 L891.0,1421.6 L891.2,1419.2 L891.4,1421.0 L891.7,1420.9 L891.9,1419.9 L892.1,1422.0 L892.4,1418.4 L892.6,1422.0 L892.8,1421.5 L893.0,1418.1 L893.3,1423.2 L893.5,1418.6 L893.7,1420.4 L894.0,1420.3 L894.2,1422.4 L894.4,1420.7 L894.7,1422.6 L894.9,1419.5 L895.1,1421.0 L895.3,1421.4 L895.6,1421.0 L895.8,1420.3 L896.0,1418.5 L896.3,1418.9 L896.5,1420.1 L896.7,1419.9 L897.0,1419.7 L897.2,1416.9 L897.4,1417.1 L897.6,1418.9 L897.9,1419.4 L898.1,1417.1 L898.3,1417.6 L898.6,1416.1 L898.8,1416.9 L899.0,1416.2 L899.3,1415.7 L899.5,1415.5 L899.7,1417.3 L899.9,1416.2 L900.2,1418.1 L900.4,1419.2 L900.6,1417.5 L900.9,1416.3 L901.1,1416.2 L901.3,1418.4 L901.6,1420.8 L901.8,1418.1 L902.0,1418.8 L902.2,1417.7 L902.5,1417.1 L902.7,1419.1 L902.9,1419.4 L903.2,1418.9 L903.4,1419.1 L903.6,1419.4 L903.9,1417.5 L904.1,1418.7 L904.3,1417.8 L904.5,1417.7 L904.8,1417.9 L905.0,1416.0 L905.2,1417.3 L905.5,1416.6 L905.7,1415.1 L905.9,1416.2 L906.2,1417.8 L906.4,1416.2 L906.6,1416.1 L906.8,1414.4 L907.1,1412.8 L907.3,1414.8 L907.5,1415.2 L907.8,1412.9 L908.0,1415.9 L908.2,1414.5 L908.4,1414.2 L908.7,1414.9 L908.9,1415.1 L909.1,1414.7 L909.4,1412.8 L909.6,1414.2 L909.8,1415.9 L910.1,1414.7 L910.3,1413.7 L910.5,1412.4 L910.7,1413.7 L911.0,1414.5 L911.2,1412.6 L911.4,1413.1 L911.7,1413.9 L911.9,1414.8 L912.1,1413.3 L912.4,1411.7 L912.6,1414.2 L912.8,1414.6 L913.0,1410.9 L913.3,1413.6 L913.5,1412.8 L913.7,1410.9 L914.0,1410.7 L914.2,1410.1 L914.4,1409.7 L914.7,1409.0 L914.9,1409.7 L915.1,1410.5 L915.3,1413.3 L915.6,1406.5 L915.8,1406.7 L916.0,1406.3 L916.3,1406.6 L916.5,1407.1 L916.7,1404.1 L917.0,1404.0 L917.2,1405.2 L917.4,1400.3 L917.6,1403.4 L917.9,1400.9 L918.1,1396.3 L918.3,1399.9 L918.6,1397.6 L918.8,1395.5 L919.0,1396.7 L919.3,1398.6 L919.5,1396.4 L919.7,1395.0 L919.9,1396.9 L920.2,1390.8 L920.4,1391.9 L920.6,1390.2 L920.9,1389.9 L921.1,1388.4 L921.3,1388.3 L921.6,1388.8 L921.8,1382.7 L922.0,1381.9 L922.2,1376.3 L922.5,1379.3 L922.7,1373.6 L922.9,1366.3 L923.2,1370.2 L923.4,1366.1 L923.6,1359.1 L923.9,1351.6 L924.1,1352.5 L924.3,1344.4 L924.5,1338.8 L924.8,1332.7 L925.0,1324.3 L925.2,1312.4 L925.5,1304.5 L925.7,1295.6 L925.9,1280.3 L926.2,1262.4 L926.4,1245.8 L926.6,1220.4 L926.8,1190.7 L927.1,1158.3 L927.3,1106.0 L927.5,1058.9 L927.8,989.1 L928.0,909.4 L928.2,814.9 L928.4,700.5 L928.7,579.2 L928.9,451.4 L929.1,324.7 L929.4,228.4 L929.6,176.7 L929.8,171.9 L930.1,202.1 L930.3,261.8 L930.5,326.3 L930.7,376.9 L931.0,426.6 L931.2,467.0 L931.4,515.1 L931.7,579.1 L931.9,650.5 L932.1,731.3 L932.4,825.5 L932.6,909.3 L932.8,985.0 L933.0,1048.8 L933.3,1102.3 L933.5,1146.8 L933.7,1186.6 L934.0,1216.4 L934.2,1242.5 L934.4,1261.9 L934.7,1278.6 L934.9,1293.0 L935.1,1308.5 L935.3,1319.2 L935.6,1325.9 L935.8,1335.7 L936.0,1342.4 L936.3,1346.9 L936.5,1352.1 L936.7,1354.5 L937.0,1363.5 L937.2,1362.1 L937.4,1368.4 L937.6,1368.8 L937.9,1375.4 L938.1,1375.4 L938.3,1378.7 L938.6,1375.9 L938.8,1383.4 L939.0,1381.1 L939.3,1386.6 L939.5,1388.8 L939.7,1387.5 L939.9,1387.5 L940.2,1390.9 L940.4,1390.8 L940.6,1392.6 L940.9,1394.0 L941.1,1392.1 L941.3,1395.3 L941.6,1394.4 L941.8,1398.6 L942.0,1397.5 L942.2,1396.2 L942.5,1399.4 L942.7,1403.0 L942.9,1398.8 L943.2,1399.8 L943.4,1401.9 L943.6,1401.9 L943.9,1403.3 L944.1,1402.8 L944.3,1402.2 L944.5,1404.2 L944.8,1405.5 L945.0,1406.8 L945.2,1406.8 L945.5,1407.8 L945.7,1405.7 L945.9,1409.2 L946.2,1408.7 L946.4,1407.3 L946.6,1407.5 L946.8,1407.8 L947.1,1409.1 L947.3,1408.3 L947.5,1411.1 L947.8,1411.4 L948.0,1411.3 L948.2,1408.9 L948.5,1407.6 L948.7,1410.6 L948.9,1411.0 L949.1,1410.8 L949.4,1407.8 L949.6,1410.4 L949.8,1410.8 L950.1,1411.9 L950.3,1410.3 L950.5,1409.0 L950.7,1410.8 L951.0,1412.4 L951.2,1409.3 L951.4,1411.5 L951.7,1409.0 L951.9,1413.6 L952.1,1412.5 L952.4,1412.1 L952.6,1415.3 L952.8,1412.6 L953.0,1412.0 L953.3,1413.1 L953.5,1412.3 L953.7,1412.7 L954.0,1414.2 L954.2,1411.8 L954.4,1413.9 L954.7,1413.2 L954.9,1413.7 L955.1,1411.4 L955.3,1412.8 L955.6,1412.6 L955.8,1414.8 L956.0,1411.8 L956.3,1409.7 L956.5,1414.2 L956.7,1410.4 L957.0,1410.8 L957.2,1413.3 L957.4,1411.2 L957.6,1409.2 L957.9,1410.7 L958.1,1410.3 L958.3,1409.3 L958.6,1411.7 L958.8,1410.1 L959.0,1413.4 L959.3,1413.0 L959.5,1409.6 L959.7,1409.8 L959.9,1410.5 L960.2,1414.2 L960.4,1412.3 L960.6,1413.4 L960.9,1409.2 L961.1,1414.2 L961.3,1414.2 L961.6,1413.3 L961.8,1411.9 L962.0,1413.4 L962.2,1413.0 L962.5,1412.1 L962.7,1412.6 L962.9,1415.4 L963.2,1414.5 L963.4,1410.0 L963.6,1412.3 L963.9,1409.5 L964.1,1409.8 L964.3,1410.2 L964.5,1411.5 L964.8,1409.1 L965.0,1411.9 L965.2,1407.6 L965.5,1409.9 L965.7,1409.6 L965.9,1410.9 L966.2,1410.9 L966.4,1410.3 L966.6,1410.5 L966.8,1410.9 L967.1,1411.1 L967.3,1409.0 L967.5,1407.4 L967.8,1406.1 L968.0,1407.9 L968.2,1409.2 L968.5,1408.1 L968.7,1406.4 L968.9,1408.9 L969.1,1407.4 L969.4,1408.4 L969.6,1408.6 L969.8,1409.5 L970.1,1407.2 L970.3,1409.3 L970.5,1409.2 L970.8,1406.6 L971.0,1405.2 L971.2,1404.8 L971.4,1404.4 L971.7,1405.7 L971.9,1404.8 L972.1,1402.1 L972.4,1400.0 L972.6,1407.4 L972.8,1400.3 L973.0,1401.4 L973.3,1401.3 L973.5,1402.0 L973.7,1401.2 L974.0,1401.6 L974.2,1398.3 L974.4,1399.7 L974.7,1397.6 L974.9,1399.1 L975.1,1393.4 L975.3,1393.5 L975.6,1395.9 L975.8,1392.0 L976.0,1392.6 L976.3,1392.4 L976.5,1389.4 L976.7,1386.6 L977.0,1383.9 L977.2,1384.7 L977.4,1381.2 L977.6,1380.2 L977.9,1378.1 L978.1,1375.1 L978.3,1377.4 L978.6,1372.7 L978.8,1365.8 L979.0,1368.5 L979.3,1364.1 L979.5,1354.8 L979.7,1356.9 L979.9,1350.4 L980.2,1345.6 L980.4,1341.8 L980.6,1333.9 L980.9,1328.0 L981.1,1324.4 L981.3,1311.6 L981.6,1308.1 L981.8,1297.1 L982.0,1284.8 L982.2,1270.4 L982.5,1257.1 L982.7,1235.6 L982.9,1218.8 L983.2,1189.7 L983.4,1160.8 L983.6,1125.8 L983.9,1084.7 L984.1,1038.5 L984.3,989.2 L984.5,930.9 L984.8,873.0 L985.0,807.7 L985.2,743.8 L985.5,692.4 L985.7,648.6 L985.9,620.7 L986.2,609.0 L986.4,615.6 L986.6,634.0 L986.8,659.8 L987.1,684.1 L987.3,718.2 L987.5,739.9 L987.8,772.8 L988.0,804.3 L988.2,844.9 L988.5,885.7 L988.7,936.2 L988.9,986.0 L989.1,1027.5 L989.4,1071.3 L989.6,1109.3 L989.8,1141.5 L990.1,1176.4 L990.3,1200.1 L990.5,1223.2 L990.8,1243.4 L991.0,1267.6 L991.2,1278.9 L991.4,1294.3 L991.7,1305.5 L991.9,1317.4 L992.1,1325.7 L992.4,1331.4 L992.6,1337.2 L992.8,1345.6 L993.0,1355.2 L993.3,1355.1 L993.5,1364.5 L993.7,1366.5 L994.0,1366.7 L994.2,1373.1 L994.4,1373.0 L994.7,1377.3 L994.9,1381.2 L995.1,1380.4 L995.3,1383.6 L995.6,1380.8 L995.8,1382.2 L996.0,1384.3 L996.3,1390.6 L996.5,1386.5 L996.7,1390.7 L997.0,1391.5 L997.2,1393.3 L997.4,1395.7 L997.6,1395.6 L997.9,1395.3 L998.1,1395.1 L998.3,1397.7 L998.6,1399.6 L998.8,1401.2 L999.0,1401.7 L999.3,1399.2 L999.5,1401.4 L999.7,1402.8 L999.9,1406.5 L1000.2,1407.3 L1000.4,1403.8 L1000.6,1404.4 L1000.9,1404.0 L1001.1,1405.9 L1001.3,1407.5 L1001.6,1409.4 L1001.8,1408.3 L1002.0,1410.7 L1002.2,1406.8 L1002.5,1406.8 L1002.7,1405.7 L1002.9,1410.9 L1003.2,1410.5 L1003.4,1407.5 L1003.6,1408.1 L1003.9,1411.7 L1004.1,1409.6 L1004.3,1408.2 L1004.5,1408.6 L1004.8,1407.0 L1005.0,1407.0 L1005.2,1407.3 L1005.5,1405.1 L1005.7,1405.1 L1005.9,1402.2 L1006.2,1405.7 L1006.4,1403.0 L1006.6,1403.1 L1006.8,1401.8 L1007.1,1400.3 L1007.3,1399.6 L1007.5,1404.3 L1007.8,1398.6 L1008.0,1399.8 L1008.2,1400.0 L1008.5,1401.0 L1008.7,1399.8 L1008.9,1401.1 L1009.1,1405.2 L1009.4,1404.0 L1009.6,1404.0 L1009.8,1405.1 L1010.1,1406.1 L1010.3,1405.5 L1010.5,1409.2 L1010.8,1409.7 L1011.0,1411.1 L1011.2,1410.6 L1011.4,1410.9 L1011.7,1413.7 L1011.9,1412.7 L1012.1,1414.9 L1012.4,1412.8 L1012.6,1418.7 L1012.8,1416.2 L1013.1,1415.2 L1013.3,1417.9 L1013.5,1419.4 L1013.7,1419.5 L1014.0,1417.9 L1014.2,1419.7 L1014.4,1417.9 L1014.7,1419.5 L1014.9,1420.5 L1015.1,1420.5 L1015.3,1419.4 L1015.6,1418.7 L1015.8,1421.2 L1016.0,1421.8 L1016.3,1421.9 L1016.5,1419.9 L1016.7,1418.2 L1017.0,1421.4 L1017.2,1420.0 L1017.4,1421.5 L1017.6,1419.9 L1017.9,1423.0 L1018.1,1420.4 L1018.3,1422.9 L1018.6,1422.3 L1018.8,1420.8 L1019.0,1421.6 L1019.3,1421.4 L1019.5,1420.7 L1019.7,1421.1 L1019.9,1419.4 L1020.2,1420.4 L1020.4,1422.4 L1020.6,1421.5 L1020.9,1422.1 L1021.1,1422.0 L1021.3,1419.3 L1021.6,1422.6 L1021.8,1420.1 L1022.0,1419.9 L1022.2,1418.3 L1022.5,1421.8 L1022.7,1421.4 L1022.9,1421.4 L1023.2,1422.2 L1023.4,1419.5 L1023.6,1419.2 L1023.9,1424.4 L1024.1,1421.8 L1024.3,1419.8 L1024.5,1422.5 L1024.8,1422.0 L1025.0,1421.0 L1025.2,1421.0 L1025.5,1421.3 L1025.7,1421.4 L1025.9,1419.1 L1026.2,1424.4 L1026.4,1422.4 L1026.6,1423.4 L1026.8,1422.0 L1027.1,1423.1 L1027.3,1422.2 L1027.5,1423.0 L1027.8,1420.3 L1028.0,1424.9 L1028.2,1424.0 L1028.5,1422.4 L1028.7,1424.0 L1028.9,1423.3 L1029.1,1425.4 L1029.4,1422.7 L1029.6,1423.7 L1029.8,1422.8 L1030.1,1424.6 L1030.3,1424.2 L1030.5,1424.5 L1030.8,1421.4 L1031.0,1425.6 L1031.2,1422.9 L1031.4,1423.0 L1031.7,1421.8 L1031.9,1423.0 L1032.1,1424.6 L1032.4,1422.7 L1032.6,1425.5 L1032.8,1422.3 L1033.1,1423.8 L1033.3,1424.8 L1033.5,1424.6 L1033.7,1423.4 L1034.0,1426.3 L1034.2,1422.2 L1034.4,1425.1 L1034.7,1422.3 L1034.9,1423.9 L1035.1,1421.6 L1035.4,1425.3 L1035.6,1422.6 L1035.8,1423.6 L1036.0,1424.1 L1036.3,1422.1 L1036.5,1423.3 L1036.7,1423.8 L1037.0,1423.1 L1037.2,1423.8 L1037.4,1423.2 L1037.6,1423.0 L1037.9,1421.8 L1038.1,1423.3 L1038.3,1424.3 L1038.6,1422.5 L1038.8,1423.9 L1039.0,1424.6 L1039.3,1424.8 L1039.5,1421.2 L1039.7,1423.4 L1039.9,1421.2 L1040.2,1424.2 L1040.4,1424.2 L1040.6,1420.7 L1040.9,1423.0 L1041.1,1422.9 L1041.3,1422.9 L1041.6,1423.9 L1041.8,1421.5 L1042.0,1424.3 L1042.2,1422.1 L1042.5,1424.5 L1042.7,1420.2 L1042.9,1422.6 L1043.2,1422.2 L1043.4,1425.6 L1043.6,1423.2 L1043.9,1424.3 L1044.1,1424.6 L1044.3,1424.5 L1044.5,1422.5 L1044.8,1423.5 L1045.0,1424.2 L1045.2,1424.3 L1045.5,1424.4 L1045.7,1424.2 L1045.9,1423.9 L1046.2,1424.9 L1046.4,1424.6 L1046.6,1426.2 L1046.8,1423.6 L1047.1,1422.8 L1047.3,1424.1 L1047.5,1421.8 L1047.8,1424.4 L1048.0,1423.5 L1048.2,1422.2 L1048.5,1423.3 L1048.7,1424.7 L1048.9,1423.5 L1049.1,1424.5 L1049.4,1422.9 L1049.6,1423.4 L1049.8,1424.6 L1050.1,1423.8 L1050.3,1422.3 L1050.5,1422.9 L1050.8,1423.2 L1051.0,1424.3 L1051.2,1424.7 L1051.4,1424.8 L1051.7,1422.6 L1051.9,1425.1 L1052.1,1423.4 L1052.4,1422.0 L1052.6,1425.9 L1052.8,1423.7 L1053.1,1425.5 L1053.3,1424.7 L1053.5,1424.1 L1053.7,1426.1 L1054.0,1426.7 L1054.2,1425.7 L1054.4,1425.2 L1054.7,1426.0 L1054.9,1426.7 L1055.1,1424.8 L1055.4,1426.9 L1055.6,1427.3 L1055.8,1425.5 L1056.0,1423.0 L1056.3,1426.1 L1056.5,1425.6 L1056.7,1426.6 L1057.0,1426.0 L1057.2,1426.5 L1057.4,1424.7 L1057.6,1425.7 L1057.9,1425.7 L1058.1,1423.4 L1058.3,1426.1 L1058.6,1423.1 L1058.8,1424.3 L1059.0,1425.1 L1059.3,1424.0 L1059.5,1424.3 L1059.7,1423.7 L1059.9,1424.5 L1060.2,1422.1 L1060.4,1423.3 L1060.6,1423.4 L1060.9,1426.4 L1061.1,1425.4 L1061.3,1423.6 L1061.6,1424.2 L1061.8,1424.8 L1062.0,1424.8 L1062.2,1423.2 L1062.5,1426.6 L1062.7,1425.1 L1062.9,1425.5 L1063.2,1422.0 L1063.4,1424.9 L1063.6,1423.2 L1063.9,1420.8 L1064.1,1422.5 L1064.3,1421.4 L1064.5,1421.4 L1064.8,1420.2 L1065.0,1417.7 L1065.2,1421.8 L1065.5,1419.8 L1065.7,1417.0 L1065.9,1415.4 L1066.2,1418.4 L1066.4,1415.6 L1066.6,1416.0 L1066.8,1415.4 L1067.1,1417.8 L1067.3,1417.4 L1067.5,1414.1 L1067.8,1413.7 L1068.0,1412.8 L1068.2,1413.6 L1068.5,1408.7 L1068.7,1410.3 L1068.9,1404.9 L1069.1,1408.7 L1069.4,1406.9 L1069.6,1405.5 L1069.8,1406.6 L1070.1,1407.0 L1070.3,1405.6 L1070.5,1404.0 L1070.8,1404.4 L1071.0,1399.7 L1071.2,1403.8 L1071.4,1401.4 L1071.7,1401.3 L1071.9,1402.5 L1072.1,1405.0 L1072.4,1402.7 L1072.6,1402.5 L1072.8,1404.5 L1073.1,1405.5 L1073.3,1410.0 L1073.5,1409.0 L1073.7,1408.3 L1074.0,1408.5 L1074.2,1408.5 L1074.4,1411.0 L1074.7,1411.0 L1074.9,1413.7 L1075.1,1411.8 L1075.4,1412.5 L1075.6,1414.5 L1075.8,1413.7 L1076.0,1416.3 L1076.3,1417.3 L1076.5,1417.7 L1076.7,1415.0 L1077.0,1420.8 L1077.2,1418.8 L1077.4,1420.1 L1077.7,1419.9 L1077.9,1422.5 L1078.1,1419.8 L1078.3,1420.3 L1078.6,1421.9 L1078.8,1422.3 L1079.0,1421.9 L1079.3,1420.9 L1079.5,1424.3 L1079.7,1420.5 L1079.9,1422.8 L1080.2,1421.4 L1080.4,1423.6 L1080.6,1420.1 L1080.9,1422.3 L1081.1,1420.5 L1081.3,1423.6 L1081.6,1423.7 L1081.8,1421.6 L1082.0,1422.3 L1082.2,1422.9 L1082.5,1422.0 L1082.7,1423.2 L1082.9,1424.3 L1083.2,1426.3 L1083.4,1426.8 L1083.6,1423.2 L1083.9,1423.3 L1084.1,1425.0 L1084.3,1423.1 L1084.5,1423.9 L1084.8,1423.5 L1085.0,1422.2 L1085.2,1425.2 L1085.5,1422.7 L1085.7,1422.3 L1085.9,1423.1 L1086.2,1422.6 L1086.4,1424.1 L1086.6,1422.5 L1086.8,1422.0 L1087.1,1421.9 L1087.3,1423.8 L1087.5,1422.1 L1087.8,1422.9 L1088.0,1422.5 L1088.2,1423.5 L1088.5,1422.8 L1088.7,1423.4 L1088.9,1420.8 L1089.1,1424.2 L1089.4,1422.4 L1089.6,1423.7 L1089.8,1425.3 L1090.1,1422.7 L1090.3,1421.5 L1090.5,1421.9 L1090.8,1421.6 L1091.0,1423.4 L1091.2,1421.8 L1091.4,1423.8 L1091.7,1419.8 L1091.9,1420.1 L1092.1,1423.3 L1092.4,1422.5 L1092.6,1423.7 L1092.8,1423.1 L1093.1,1422.7 L1093.3,1423.6 L1093.5,1422.6 L1093.7,1421.1 L1094.0,1422.2 L1094.2,1420.7 L1094.4,1421.6 L1094.7,1421.0 L1094.9,1422.6 L1095.1,1419.4 L1095.4,1421.9 L1095.6,1420.6 L1095.8,1421.6 L1096.0,1419.0 L1096.3,1420.9 L1096.5,1418.5 L1096.7,1416.4 L1097.0,1418.3 L1097.2,1421.6 L1097.4,1416.8 L1097.7,1417.5 L1097.9,1416.5 L1098.1,1416.3 L1098.3,1414.7 L1098.6,1414.3 L1098.8,1415.1 L1099.0,1416.1 L1099.3,1413.6 L1099.5,1411.4 L1099.7,1414.4 L1100.0,1410.2 L1100.2,1412.2 L1100.4,1406.2 L1100.6,1403.6 L1100.9,1403.6 L1101.1,1404.0 L1101.3,1400.0 L1101.6,1396.7 L1101.8,1393.5 L1102.0,1390.9 L1102.2,1387.9 L1102.5,1387.8 L1102.7,1381.2 L1102.9,1374.2 L1103.2,1368.3 L1103.4,1364.5 L1103.6,1351.4 L1103.9,1341.6 L1104.1,1327.2 L1104.3,1312.7 L1104.5,1300.7 L1104.8,1282.0 L1105.0,1261.8 L1105.2,1245.6 L1105.5,1225.5 L1105.7,1211.3 L1105.9,1198.7 L1106.2,1187.6 L1106.4,1187.1 L1106.6,1189.9 L1106.8,1190.9 L1107.1,1202.2 L1107.3,1209.7 L1107.5,1217.8 L1107.8,1219.2 L1108.0,1231.7 L1108.2,1239.0 L1108.5,1250.3 L1108.7,1257.8 L1108.9,1268.6 L1109.1,1286.0 L1109.4,1295.8 L1109.6,1306.3 L1109.8,1318.4 L1110.1,1333.2 L1110.3,1339.4 L1110.5,1354.9 L1110.8,1359.6 L1111.0,1367.9 L1111.2,1377.6 L1111.4,1378.8 L1111.7,1388.2 L1111.9,1391.2 L1112.1,1393.9 L1112.4,1399.2 L1112.6,1397.9 L1112.8,1403.4 L1113.1,1407.1 L1113.3,1406.8 L1113.5,1409.2 L1113.7,1412.6 L1114.0,1413.2 L1114.2,1412.2 L1114.4,1413.4 L1114.7,1417.9 L1114.9,1414.8 L1115.1,1415.4 L1115.4,1415.6 L1115.6,1418.4 L1115.8,1419.2 L1116.0,1418.5 L1116.3,1419.5 L1116.5,1419.2 L1116.7,1419.9 L1117.0,1419.8 L1117.2,1420.3 L1117.4,1419.9 L1117.7,1420.0 L1117.9,1420.9 L1118.1,1421.5 L1118.3,1418.9 L1118.6,1420.0 L1118.8,1420.8 L1119.0,1422.8 L1119.3,1421.0 L1119.5,1422.2 L1119.7,1421.4 L1120.0,1422.1 L1120.2,1419.4 L1120.4,1422.8 L1120.6,1424.3 L1120.9,1421.9 L1121.1,1421.9 L1121.3,1421.8 L1121.6,1426.8 L1121.8,1424.8 L1122.0,1424.6 L1122.2,1425.5 L1122.5,1423.2 L1122.7,1422.4 L1122.9,1421.8 L1123.2,1421.9 L1123.4,1422.9 L1123.6,1421.0 L1123.9,1422.6 L1124.1,1426.4 L1124.3,1423.4 L1124.5,1424.0 L1124.8,1422.8 L1125.0,1423.9 L1125.2,1423.9 L1125.5,1422.1 L1125.7,1424.9 L1125.9,1425.8 L1126.2,1424.1 L1126.4,1423.9 L1126.6,1425.1 L1126.8,1425.1 L1127.1,1426.0 L1127.3,1427.1 L1127.5,1426.5 L1127.8,1426.9 L1128.0,1424.1 L1128.2,1425.7 L1128.5,1423.6 L1128.7,1425.2 L1128.9,1425.9 L1129.1,1424.3 L1129.4,1424.0 L1129.6,1422.4 L1129.8,1426.3 L1130.1,1424.2 L1130.3,1423.2 L1130.5,1424.6 L1130.8,1423.7 L1131.0,1424.4 L1131.2,1422.5 L1131.4,1422.9 L1131.7,1427.0 L1131.9,1426.5 L1132.1,1425.7 L1132.4,1424.9 L1132.6,1425.0 L1132.8,1425.3 L1133.1,1423.9 L1133.3,1423.5 L1133.5,1424.4 L1133.7,1424.8 L1134.0,1424.3 L1134.2,1425.3 L1134.4,1423.3 L1134.7,1423.1 L1134.9,1425.1 L1135.1,1422.2 L1135.4,1423.9 L1135.6,1422.7 L1135.8,1423.6 L1136.0,1423.7 L1136.3,1422.5 L1136.5,1424.4 L1136.7,1423.4 L1137.0,1424.4 L1137.2,1422.3 L1137.4,1423.1 L1137.7,1423.1 L1137.9,1423.3 L1138.1,1421.7 L1138.3,1422.0 L1138.6,1422.4 L1138.8,1422.5 L1139.0,1419.3 L1139.3,1419.2 L1139.5,1422.2 L1139.7,1418.6 L1140.0,1419.0 L1140.2,1418.8 L1140.4,1418.2 L1140.6,1420.2 L1140.9,1414.5 L1141.1,1414.7 L1141.3,1417.1 L1141.6,1416.9 L1141.8,1416.6 L1142.0,1417.6 L1142.3,1415.9 L1142.5,1416.7 L1142.7,1418.2 L1142.9,1417.4 L1143.2,1417.8 L1143.4,1418.0 L1143.6,1417.9 L1143.9,1416.9 L1144.1,1418.7 L1144.3,1420.8 L1144.5,1417.0 L1144.8,1420.3 L1145.0,1418.0 L1145.2,1420.1 L1145.5,1420.2 L1145.7,1422.5 L1145.9,1421.7 L1146.2,1422.8 L1146.4,1422.8 L1146.6,1422.5 L1146.8,1423.9 L1147.1,1422.6 L1147.3,1425.5 L1147.5,1425.2 L1147.8,1423.3 L1148.0,1423.2 L1148.2,1422.4 L1148.5,1421.7 L1148.7,1423.0 L1148.9,1422.5 L1149.1,1423.0 L1149.4,1423.0 L1149.6,1423.2 L1149.8,1422.9 L1150.1,1423.7 L1150.3,1423.3 L1150.5,1422.3 L1150.8,1422.8 L1151.0,1422.2 L1151.2,1424.3 L1151.4,1424.2 L1151.7,1423.1 L1151.9,1424.6 L1152.1,1424.3 L1152.4,1422.1 L1152.6,1422.8 L1152.8,1420.8 L1153.1,1421.2 L1153.3,1421.2 L1153.5,1421.2 L1153.7,1417.6 L1154.0,1418.5 L1154.2,1419.0 L1154.4,1419.2 L1154.7,1418.4 L1154.9,1416.9 L1155.1,1414.2 L1155.4,1416.9 L1155.6,1414.9 L1155.8,1414.7 L1156.0,1419.4 L1156.3,1415.9 L1156.5,1412.2 L1156.7,1415.9 L1157.0,1410.3 L1157.2,1411.2 L1157.4,1413.0 L1157.7,1406.6 L1157.9,1408.8 L1158.1,1405.3 L1158.3,1406.8 L1158.6,1407.8 L1158.8,1404.4 L1159.0,1403.2 L1159.3,1404.0 L1159.5,1408.2 L1159.7,1405.6 L1160.0,1408.9 L1160.2,1408.5 L1160.4,1406.1 L1160.6,1411.2 L1160.9,1405.7 L1161.1,1412.8 L1161.3,1413.1 L1161.6,1410.5 L1161.8,1412.5 L1162.0,1412.9 L1162.3,1414.5 L1162.5,1412.2 L1162.7,1413.2 L1162.9,1413.8 L1163.2,1414.9 L1163.4,1415.9 L1163.6,1413.6 L1163.9,1416.7 L1164.1,1414.3 L1164.3,1412.2 L1164.6,1411.8 L1164.8,1413.2 L1165.0,1416.1 L1165.2,1411.0 L1165.5,1409.9 L1165.7,1410.6 L1165.9,1407.9 L1166.2,1407.5 L1166.4,1410.9 L1166.6,1407.8 L1166.8,1407.4 L1167.1,1403.4 L1167.3,1403.7 L1167.5,1404.9 L1167.8,1404.0 L1168.0,1403.5 L1168.2,1406.2 L1168.5,1405.7 L1168.7,1406.0 L1168.9,1407.1 L1169.1,1407.5 L1169.4,1407.3 L1169.6,1410.4 L1169.8,1410.8 L1170.1,1408.5 L1170.3,1408.1 L1170.5,1408.4 L1170.8,1414.7 L1171.0,1412.4 L1171.2,1415.0 L1171.4,1415.4 L1171.7,1415.8 L1171.9,1415.8 L1172.1,1416.4 L1172.4,1421.3 L1172.6,1419.6 L1172.8,1418.0 L1173.1,1420.0 L1173.3,1422.8 L1173.5,1422.5 L1173.7,1422.7 L1174.0,1420.8 L1174.2,1420.2 L1174.4,1424.0 L1174.7,1422.2 L1174.9,1423.4 L1175.1,1422.4 L1175.4,1423.5 L1175.6,1424.7 L1175.8,1424.2 L1176.0,1424.4 L1176.3,1422.0 L1176.5,1424.8 L1176.7,1423.5 L1177.0,1425.4 L1177.2,1425.5 L1177.4,1424.7 L1177.7,1426.0 L1177.9,1423.4 L1178.1,1424.4 L1178.3,1427.5 L1178.6,1425.7 L1178.8,1424.6 L1179.0,1427.8 L1179.3,1426.7 L1179.5,1424.4 L1179.7,1426.9 L1180.0,1425.0 L1180.2,1425.6 L1180.4,1425.1 L1180.6,1426.3 L1180.9,1425.0 L1181.1,1425.3 L1181.3,1422.7 L1181.6,1423.9 L1181.8,1424.4 L1182.0,1424.6 L1182.3,1423.8 L1182.5,1426.5 L1182.7,1425.8 L1182.9,1425.8 L1183.2,1425.7 L1183.4,1426.7 L1183.6,1424.3 L1183.9,1425.4 L1184.1,1423.5 L1184.3,1425.1 L1184.6,1425.4 L1184.8,1424.5 L1185.0,1424.5 L1185.2,1425.4 L1185.5,1424.5 L1185.7,1423.8 L1185.9,1425.8 L1186.2,1423.9 L1186.4,1425.6 L1186.6,1424.5 L1186.8,1425.5 L1187.1,1426.0 L1187.3,1425.2 L1187.5,1426.9 L1187.8,1427.5 L1188.0,1425.8 L1188.2,1426.1 L1188.5,1427.1 L1188.7,1423.5 L1188.9,1425.5 L1189.1,1426.8 L1189.4,1425.4 L1189.6,1425.4 L1189.8,1426.4 L1190.1,1426.1 L1190.3,1427.9 L1190.5,1425.6 L1190.8,1423.7 L1191.0,1424.6 L1191.2,1424.7 L1191.4,1426.5 L1191.7,1427.1 L1191.9,1424.9 L1192.1,1425.7 L1192.4,1426.3 L1192.6,1426.6 L1192.8,1425.3 L1193.1,1425.7 L1193.3,1427.0 L1193.5,1426.6 L1193.7,1428.3 L1194.0,1427.7 L1194.2,1425.6 L1194.4,1426.7 L1194.7,1427.0 L1194.9,1425.6 L1195.1,1424.4 L1195.4,1426.7 L1195.6,1426.0 L1195.8,1425.9 L1196.0,1422.8 L1196.3,1424.3 L1196.5,1425.1 L1196.7,1426.9 L1197.0,1424.3 L1197.2,1424.5 L1197.4,1425.3 L1197.7,1425.8 L1197.9,1425.4 L1198.1,1426.7 L1198.3,1425.3 L1198.6,1425.3 L1198.8,1425.9 L1199.0,1425.3 L1199.3,1426.7 L1199.5,1423.8 L1199.7,1425.3 L1200.0,1426.5 L1200.2,1424.4 L1200.4,1424.7 L1200.6,1425.9 L1200.9,1426.9 L1201.1,1425.6 L1201.3,1425.1 L1201.6,1425.0 L1201.8,1424.8 L1202.0,1425.1 L1202.3,1427.8 L1202.5,1426.1 L1202.7,1428.4 L1202.9,1425.3 L1203.2,1426.0 L1203.4,1425.5 L1203.6,1426.5 L1203.9,1426.7 L1204.1,1427.3 L1204.3,1429.9 L1204.6,1427.1 L1204.8,1424.0 L1205.0,1425.5 L1205.2,1427.3 L1205.5,1426.7 L1205.7,1426.7 L1205.9,1427.9 L1206.2,1427.3 L1206.4,1427.0 L1206.6,1427.9 L1206.9,1426.8 L1207.1,1425.8 L1207.3,1426.2 L1207.5,1426.6 L1207.8,1427.0 L1208.0,1425.9 L1208.2,1427.3 L1208.5,1427.3 L1208.7,1425.1 L1208.9,1426.8 L1209.1,1427.8 L1209.4,1425.2 L1209.6,1425.2 L1209.8,1424.5 L1210.1,1425.8 L1210.3,1424.3 L1210.5,1425.6 L1210.8,1426.6 L1211.0,1425.6 L1211.2,1425.1 L1211.4,1426.6 L1211.7,1425.6 L1211.9,1425.2 L1212.1,1426.0 L1212.4,1425.5 L1212.6,1425.6 L1212.8,1426.5 L1213.1,1425.3 L1213.3,1425.0 L1213.5,1427.8 L1213.7,1426.2 L1214.0,1424.4 L1214.2,1424.6 L1214.4,1427.2 L1214.7,1424.5 L1214.9,1423.0 L1215.1,1423.4 L1215.4,1423.3 L1215.6,1424.1 L1215.8,1423.7 L1216.0,1425.0 L1216.3,1423.5 L1216.5,1420.6 L1216.7,1423.3 L1217.0,1424.3 L1217.2,1422.4 L1217.4,1425.5 L1217.7,1420.1 L1217.9,1422.1 L1218.1,1423.2 L1218.3,1423.3 L1218.6,1423.9 L1218.8,1422.6 L1219.0,1422.7 L1219.3,1424.7 L1219.5,1421.4 L1219.7,1423.1 L1220.0,1424.0 L1220.2,1421.3 L1220.4,1421.5 L1220.6,1423.0 L1220.9,1423.0 L1221.1,1420.7 L1221.3,1422.5 L1221.6,1421.7 L1221.8,1420.3 L1222.0,1423.6 L1222.3,1424.1 L1222.5,1423.6 L1222.7,1423.5 L1222.9,1423.1 L1223.2,1422.2 L1223.4,1424.2 L1223.6,1422.0 L1223.9,1424.1 L1224.1,1427.0 L1224.3,1424.9 L1224.6,1424.3 L1224.8,1424.1 L1225.0,1426.5 L1225.2,1426.0 L1225.5,1423.5 L1225.7,1426.2 L1225.9,1427.6 L1226.2,1428.5 L1226.4,1427.4 L1226.6,1426.6 L1226.9,1428.4 L1227.1,1425.7 L1227.3,1428.0 L1227.5,1429.3 L1227.8,1426.3 L1228.0,1426.9 L1228.2,1427.1 L1228.5,1425.3 L1228.7,1427.3 L1228.9,1425.8 L1229.2,1427.1 L1229.4,1424.5 L1229.6,1426.3 L1229.8,1426.1 L1230.1,1425.4 L1230.3,1426.0 L1230.5,1425.3 L1230.8,1425.9 L1231.0,1424.9 L1231.2,1425.5 L1231.4,1426.1 L1231.7,1424.9 L1231.9,1425.0 L1232.1,1426.8 L1232.4,1426.1 L1232.6,1427.7 L1232.8,1425.8 L1233.1,1425.1 L1233.3,1423.4 L1233.5,1425.8 L1233.7,1425.0 L1234.0,1424.5 L1234.2,1425.4 L1234.4,1428.3 L1234.7,1426.7 L1234.9,1425.9 L1235.1,1426.0 L1235.4,1426.3 L1235.6,1427.5 L1235.8,1428.7 L1236.0,1426.4 L1236.3,1425.7 L1236.5,1427.6 L1236.7,1426.6 L1237.0,1428.0 L1237.2,1427.7 L1237.4,1428.3 L1237.7,1426.8 L1237.9,1428.8 L1238.1,1427.6 L1238.3,1426.8 L1238.6,1427.7 L1238.8,1428.9 L1239.0,1427.0 L1239.3,1427.5 L1239.5,1428.6 L1239.7,1427.2 L1240.0,1427.3 L1240.2,1426.2 L1240.4,1427.3 L1240.6,1426.7 L1240.9,1426.1 L1241.1,1428.8 L1241.3,1425.6 L1241.6,1426.7 L1241.8,1427.8 L1242.0,1426.5 L1242.3,1425.4 L1242.5,1427.2 L1242.7,1426.9 L1242.9,1424.6 L1243.2,1424.2 L1243.4,1423.5 L1243.6,1425.5 L1243.9,1426.5 L1244.1,1426.4 L1244.3,1425.7 L1244.6,1426.4 L1244.8,1424.9 L1245.0,1424.0 L1245.2,1426.7 L1245.5,1424.1 L1245.7,1426.8 L1245.9,1426.8 L1246.2,1427.6 L1246.4,1425.4 L1246.6,1426.4 L1246.9,1426.4 L1247.1,1429.8 L1247.3,1427.3 L1247.5,1426.4 L1247.8,1429.9 L1248.0,1424.8 L1248.2,1426.7 L1248.5,1426.0 L1248.7,1427.6 L1248.9,1426.3 L1249.2,1426.0 L1249.4,1424.6 L1249.6,1428.6 L1249.8,1425.1 L1250.1,1428.5 L1250.3,1426.9 L1250.5,1427.3 L1250.8,1426.8 L1251.0,1428.4 L1251.2,1426.2 L1251.4,1426.9 L1251.7,1425.5 L1251.9,1424.8 L1252.1,1425.0 L1252.4,1425.1 L1252.6,1423.5 L1252.8,1424.7 L1253.1,1424.5 L1253.3,1423.9 L1253.5,1425.6 L1253.7,1425.6 L1254.0,1425.0 L1254.2,1426.1 L1254.4,1424.4 L1254.7,1426.4 L1254.9,1425.9 L1255.1,1425.6 L1255.4,1425.6 L1255.6,1425.1 L1255.8,1425.4 L1256.0,1427.3 L1256.3,1423.1 L1256.5,1424.7 L1256.7,1423.3 L1257.0,1425.2 L1257.2,1423.3 L1257.4,1425.3 L1257.7,1422.2 L1257.9,1423.9 L1258.1,1424.2 L1258.3,1426.8 L1258.6,1426.1 L1258.8,1424.0 L1259.0,1424.2 L1259.3,1424.2 L1259.5,1424.1 L1259.7,1422.6 L1260.0,1424.4 L1260.2,1424.7 L1260.4,1425.3 L1260.6,1426.0 L1260.9,1424.7 L1261.1,1425.8 L1261.3,1426.0 L1261.6,1425.4 L1261.8,1425.7 L1262.0,1424.9 L1262.3,1424.9 L1262.5,1427.0 L1262.7,1426.3 L1262.9,1424.2 L1263.2,1425.6 L1263.4,1424.4 L1263.6,1426.1 L1263.9,1427.9 L1264.1,1427.8 L1264.3,1426.2 L1264.6,1426.1 L1264.8,1423.1 L1265.0,1425.0 L1265.2,1425.1 L1265.5,1424.8 L1265.7,1427.6 L1265.9,1425.7 L1266.2,1425.7 L1266.4,1423.2 L1266.6,1426.1 L1266.9,1426.8 L1267.1,1424.9 L1267.3,1425.2 L1267.5,1424.8 L1267.8,1424.7 L1268.0,1424.9 L1268.2,1426.0 L1268.5,1425.9 L1268.7,1423.0 L1268.9,1426.5 L1269.2,1425.4 L1269.4,1427.1 L1269.6,1428.0 L1269.8,1425.0 L1270.1,1425.7 L1270.3,1424.3 L1270.5,1424.4 L1270.8,1425.1 L1271.0,1426.0 L1271.2,1422.7 L1271.5,1424.6 L1271.7,1421.9 L1271.9,1423.3 L1272.1,1422.8 L1272.4,1423.0 L1272.6,1423.0 L1272.8,1423.7 L1273.1,1420.7 L1273.3,1424.4 L1273.5,1425.1 L1273.7,1423.0 L1274.0,1424.1 L1274.2,1422.3 L1274.4,1423.7 L1274.7,1422.2 L1274.9,1423.5 L1275.1,1424.7 L1275.4,1424.3 L1275.6,1423.3 L1275.8,1424.9 L1276.0,1425.3 L1276.3,1424.6 L1276.5,1424.0 L1276.7,1422.9 L1277.0,1423.8 L1277.2,1423.2 L1277.4,1424.3 L1277.7,1421.9 L1277.9,1421.3 L1278.1,1424.5 L1278.3,1423.3 L1278.6,1423.7 L1278.8,1423.1 L1279.0,1423.8 L1279.3,1424.2 L1279.5,1424.8 L1279.7,1423.9 L1280.0,1423.2 L1280.2,1422.0 L1280.4,1422.5 L1280.6,1423.6 L1280.9,1423.8 L1281.1,1424.7 L1281.3,1422.0 L1281.6,1422.6 L1281.8,1421.9 L1282.0,1421.7 L1282.3,1421.9 L1282.5,1422.7 L1282.7,1422.9 L1282.9,1423.8 L1283.2,1423.3 L1283.4,1422.0 L1283.6,1419.8 L1283.9,1422.9 L1284.1,1422.1 L1284.3,1418.3 L1284.6,1421.9 L1284.8,1422.2 L1285.0,1421.6 L1285.2,1421.7 L1285.5,1423.5 L1285.7,1419.9 L1285.9,1422.9 L1286.2,1421.3 L1286.4,1421.0 L1286.6,1419.8 L1286.9,1420.5 L1287.1,1420.7 L1287.3,1421.2 L1287.5,1419.7 L1287.8,1420.4 L1288.0,1420.9 L1288.2,1421.8 L1288.5,1421.2 L1288.7,1420.0 L1288.9,1422.3 L1289.2,1420.1 L1289.4,1420.1 L1289.6,1418.7 L1289.8,1421.0 L1290.1,1421.3 L1290.3,1419.9 L1290.5,1420.1 L1290.8,1422.8 L1291.0,1417.4 L1291.2,1418.3 L1291.5,1418.0 L1291.7,1418.9 L1291.9,1416.9 L1292.1,1417.4 L1292.4,1414.4 L1292.6,1415.3 L1292.8,1414.0 L1293.1,1417.4 L1293.3,1416.7 L1293.5,1415.7 L1293.8,1415.7 L1294.0,1412.1 L1294.2,1413.4 L1294.4,1415.0 L1294.7,1413.2 L1294.9,1409.4 L1295.1,1411.9 L1295.4,1409.7 L1295.6,1412.5 L1295.8,1409.9 L1296.0,1408.3 L1296.3,1407.6 L1296.5,1406.2 L1296.7,1404.5 L1297.0,1401.9 L1297.2,1405.5 L1297.4,1400.9 L1297.7,1398.0 L1297.9,1396.9 L1298.1,1393.0 L1298.3,1392.8 L1298.6,1390.5 L1298.8,1388.0 L1299.0,1380.9 L1299.3,1381.4 L1299.5,1375.2 L1299.7,1369.4 L1300.0,1362.5 L1300.2,1358.2 L1300.4,1352.5 L1300.6,1341.4 L1300.9,1335.8 L1301.1,1324.6 L1301.3,1315.4 L1301.6,1297.5 L1301.8,1282.4 L1302.0,1269.3 L1302.3,1247.6 L1302.5,1225.9 L1302.7,1207.5 L1302.9,1188.7 L1303.2,1165.9 L1303.4,1147.6 L1303.6,1139.9 L1303.9,1126.7 L1304.1,1126.6 L1304.3,1127.6 L1304.6,1138.6 L1304.8,1143.9 L1305.0,1155.5 L1305.2,1164.6 L1305.5,1175.1 L1305.7,1181.0 L1305.9,1189.9 L1306.2,1196.2 L1306.4,1203.1 L1306.6,1210.6 L1306.9,1215.1 L1307.1,1225.5 L1307.3,1236.4 L1307.5,1249.6 L1307.8,1262.0 L1308.0,1276.6 L1308.2,1291.5 L1308.5,1301.7 L1308.7,1311.0 L1308.9,1328.2 L1309.2,1337.2 L1309.4,1344.2 L1309.6,1354.9 L1309.8,1358.5 L1310.1,1368.3 L1310.3,1375.0 L1310.5,1379.5 L1310.8,1379.7 L1311.0,1389.7 L1311.2,1388.7 L1311.5,1395.9 L1311.7,1392.9 L1311.9,1395.7 L1312.1,1397.0 L1312.4,1396.0 L1312.6,1401.2 L1312.8,1400.1 L1313.1,1402.0 L1313.3,1401.9 L1313.5,1405.4 L1313.8,1402.7 L1314.0,1405.3 L1314.2,1402.6 L1314.4,1403.5 L1314.7,1405.0 L1314.9,1404.1 L1315.1,1404.2 L1315.4,1404.6 L1315.6,1400.5 L1315.8,1405.9 L1316.0,1406.5 L1316.3,1406.2 L1316.5,1404.1 L1316.7,1403.3 L1317.0,1401.5 L1317.2,1400.2 L1317.4,1400.7 L1317.7,1400.0 L1317.9,1401.0 L1318.1,1397.0 L1318.3,1395.6 L1318.6,1397.5 L1318.8,1395.5 L1319.0,1397.4 L1319.3,1396.0 L1319.5,1395.6 L1319.7,1394.3 L1320.0,1398.6 L1320.2,1396.3 L1320.4,1395.4 L1320.6,1397.0 L1320.9,1397.3 L1321.1,1403.5 L1321.3,1401.6 L1321.6,1401.8 L1321.8,1403.4 L1322.0,1407.2 L1322.3,1402.7 L1322.5,1405.3 L1322.7,1410.1 L1322.9,1409.0 L1323.2,1409.4 L1323.4,1409.2 L1323.6,1410.7 L1323.9,1414.2 L1324.1,1414.6 L1324.3,1414.2 L1324.6,1413.9 L1324.8,1416.8 L1325.0,1417.8 L1325.2,1416.8 L1325.5,1418.0 L1325.7,1416.9 L1325.9,1418.6 L1326.2,1418.4 L1326.4,1422.7 L1326.6,1422.2 L1326.9,1422.8 L1327.1,1421.9 L1327.3,1420.8 L1327.5,1421.8 L1327.8,1421.0 L1328.0,1422.8 L1328.2,1420.7 L1328.5,1421.1 L1328.7,1424.5 L1328.9,1423.8 L1329.2,1423.4 L1329.4,1421.8 L1329.6,1422.0 L1329.8,1420.9 L1330.1,1425.1 L1330.3,1423.2 L1330.5,1423.6 L1330.8,1424.1 L1331.0,1424.0 L1331.2,1426.4 L1331.5,1423.6 L1331.7,1424.4 L1331.9,1425.4 L1332.1,1422.1 L1332.4,1424.6 L1332.6,1423.4 L1332.8,1424.5 L1333.1,1425.5 L1333.3,1424.3 L1333.5,1423.4 L1333.8,1425.1 L1334.0,1423.4 L1334.2,1422.1 L1334.4,1423.0 L1334.7,1425.0 L1334.9,1425.8 L1335.1,1424.0 L1335.4,1426.9 L1335.6,1426.6 L1335.8,1423.3 L1336.1,1424.9 L1336.3,1424.8 L1336.5,1425.6 L1336.7,1421.7 L1337.0,1421.2 L1337.2,1424.9 L1337.4,1423.6 L1337.7,1424.8 L1337.9,1423.8 L1338.1,1422.8 L1338.3,1422.8 L1338.6,1424.7 L1338.8,1424.0 L1339.0,1421.2 L1339.3,1423.5 L1339.5,1423.1 L1339.7,1424.3 L1340.0,1425.2 L1340.2,1426.4 L1340.4,1426.4 L1340.6,1427.2 L1340.9,1426.5 L1341.1,1426.2 L1341.3,1424.3 L1341.6,1427.0 L1341.8,1424.4 L1342.0,1427.1 L1342.3,1421.6 L1342.5,1425.3 L1342.7,1424.3 L1342.9,1422.3 L1343.2,1424.6 L1343.4,1424.2 L1343.6,1424.1 L1343.9,1423.7 L1344.1,1425.0 L1344.3,1422.5 L1344.6,1423.3 L1344.8,1424.6 L1345.0,1423.5 L1345.2,1425.1 L1345.5,1425.7 L1345.7,1425.3 L1345.9,1424.6 L1346.2,1426.9 L1346.4,1425.5 L1346.6,1424.6 L1346.9,1426.4 L1347.1,1424.8 L1347.3,1426.5 L1347.5,1425.1 L1347.8,1425.5 L1348.0,1425.2 L1348.2,1426.6 L1348.5,1428.3 L1348.7,1429.2 L1348.9,1421.9 L1349.2,1428.1 L1349.4,1427.4 L1349.6,1428.3 L1349.8,1424.6 L1350.1,1425.3 L1350.3,1425.0 L1350.5,1427.2 L1350.8,1424.6 L1351.0,1426.6 L1351.2,1424.3 L1351.5,1425.9 L1351.7,1428.7 L1351.9,1426.2 L1352.1,1427.2 L1352.4,1423.5 L1352.6,1428.0 L1352.8,1426.9 L1353.1,1426.9 L1353.3,1427.6 L1353.5,1427.5 L1353.8,1426.7 L1354.0,1426.2 L1354.2,1427.1 L1354.4,1427.0 L1354.7,1426.7 L1354.9,1427.8 L1355.1,1427.0 L1355.4,1426.8 L1355.6,1425.6 L1355.8,1426.1 L1356.1,1426.3 L1356.3,1425.7 L1356.5,1427.6 L1356.7,1425.3 L1357.0,1426.9 L1357.2,1426.5 L1357.4,1426.6 L1357.7,1425.3 L1357.9,1426.7 L1358.1,1425.2 L1358.4,1426.2 L1358.6,1426.4 L1358.8,1425.3 L1359.0,1426.7 L1359.3,1424.3 L1359.5,1426.5 L1359.7,1426.2 L1360.0,1424.3 L1360.2,1427.6 L1360.4,1424.9 L1360.6,1426.0 L1360.9,1426.1 L1361.1,1426.1 L1361.3,1427.5 L1361.6,1424.6 L1361.8,1425.9 L1362.0,1425.9 L1362.3,1425.8 L1362.5,1425.6 L1362.7,1426.4 L1362.9,1427.8 L1363.2,1428.2 L1363.4,1428.2 L1363.6,1427.1 L1363.9,1425.4 L1364.1,1428.0 L1364.3,1426.9 L1364.6,1425.8 L1364.8,1426.9 L1365.0,1426.8 L1365.2,1427.8 L1365.5,1426.3 L1365.7,1427.2 L1365.9,1427.2 L1366.2,1426.8 L1366.4,1425.8 L1366.6,1425.0 L1366.9,1427.4 L1367.1,1425.3 L1367.3,1427.0 L1367.5,1427.8 L1367.8,1426.2 L1368.0,1425.3 L1368.2,1425.4 L1368.5,1424.8 L1368.7,1427.6 L1368.9,1423.7 L1369.2,1424.4 L1369.4,1424.7 L1369.6,1427.5 L1369.8,1425.3 L1370.1,1426.5 L1370.3,1426.6 L1370.5,1426.0 L1370.8,1427.9 L1371.0,1424.8 L1371.2,1424.8 L1371.5,1425.0 L1371.7,1424.2 L1371.9,1427.8 L1372.1,1426.1 L1372.4,1426.1 L1372.6,1427.1 L1372.8,1424.6 L1373.1,1422.5 L1373.3,1426.7 L1373.5,1424.7 L1373.8,1425.1 L1374.0,1424.9 L1374.2,1424.9 L1374.4,1424.0 L1374.7,1425.4 L1374.9,1425.0 L1375.1,1422.5 L1375.4,1424.3 L1375.6,1424.3 L1375.8,1426.3 L1376.1,1423.6 L1376.3,1423.5 L1376.5,1423.9 L1376.7,1422.3 L1377.0,1426.6 L1377.2,1423.2 L1377.4,1426.1 L1377.7,1425.4 L1377.9,1426.5 L1378.1,1423.2 L1378.4,1424.3 L1378.6,1424.7 L1378.8,1424.1 L1379.0,1426.7 L1379.3,1424.9 L1379.5,1423.9 L1379.7,1424.9 L1380.0,1424.3 L1380.2,1426.1 L1380.4,1424.0 L1380.6,1424.5 L1380.9,1423.9 L1381.1,1422.3 L1381.3,1424.1 L1381.6,1424.9 L1381.8,1423.8 L1382.0,1425.7 L1382.3,1422.4 L1382.5,1424.4 L1382.7,1424.3 L1382.9,1423.7 L1383.2,1425.8 L1383.4,1424.1 L1383.6,1424.2 L1383.9,1421.2 L1384.1,1421.9 L1384.3,1421.2 L1384.6,1423.2 L1384.8,1422.9 L1385.0,1421.7 L1385.2,1423.6 L1385.5,1423.8 L1385.7,1420.6 L1385.9,1421.8 L1386.2,1421.7 L1386.4,1424.4 L1386.6,1422.8 L1386.9,1422.8 L1387.1,1423.1 L1387.3,1421.8 L1387.5,1423.3 L1387.8,1423.5 L1388.0,1419.5 L1388.2,1421.3 L1388.5,1423.1 L1388.7,1419.1 L1388.9,1421.1 L1389.2,1421.4 L1389.4,1425.3 L1389.6,1420.0 L1389.8,1421.8 L1390.1,1420.5 L1390.3,1420.0 L1390.5,1424.0 L1390.8,1420.1 L1391.0,1421.5 L1391.2,1422.6 L1391.5,1425.7 L1391.7,1420.1 L1391.9,1422.1 L1392.1,1421.6 L1392.4,1423.7 L1392.6,1421.0 L1392.8,1420.7 L1393.1,1419.1 L1393.3,1422.0 L1393.5,1423.3 L1393.8,1420.8 L1394.0,1420.9 L1394.2,1418.9 L1394.4,1419.2 L1394.7,1418.4 L1394.9,1416.8 L1395.1,1416.0 L1395.4,1418.1 L1395.6,1420.2 L1395.8,1417.8 L1396.1,1417.9 L1396.3,1417.4 L1396.5,1417.3 L1396.7,1416.8 L1397.0,1419.5 L1397.2,1415.1 L1397.4,1414.7 L1397.7,1414.4 L1397.9,1414.5 L1398.1,1412.4 L1398.4,1415.6 L1398.6,1412.6 L1398.8,1410.9 L1399.0,1411.9 L1399.3,1410.7 L1399.5,1408.3 L1399.7,1409.4 L1400.0,1409.7 L1400.2,1408.2 L1400.4,1405.7 L1400.7,1406.9 L1400.9,1403.9 L1401.1,1403.4 L1401.3,1401.3 L1401.6,1398.7 L1401.8,1397.3 L1402.0,1397.0 L1402.3,1395.1 L1402.5,1392.4 L1402.7,1393.5 L1402.9,1389.9 L1403.2,1390.4 L1403.4,1383.7 L1403.6,1383.7 L1403.9,1384.1 L1404.1,1379.9 L1404.3,1374.5 L1404.6,1372.2 L1404.8,1372.5 L1405.0,1361.3 L1405.2,1359.6 L1405.5,1353.8 L1405.7,1348.8 L1405.9,1342.6 L1406.2,1335.6 L1406.4,1322.7 L1406.6,1312.3 L1406.9,1300.5 L1407.1,1284.7 L1407.3,1270.2 L1407.5,1256.1 L1407.8,1236.3 L1408.0,1213.1 L1408.2,1196.9 L1408.5,1167.4 L1408.7,1150.4 L1408.9,1122.1 L1409.2,1106.3 L1409.4,1093.4 L1409.6,1076.2 L1409.8,1069.0 L1410.1,1067.4 L1410.3,1068.7 L1410.5,1075.1 L1410.8,1091.1 L1411.0,1093.6 L1411.2,1106.8 L1411.5,1116.8 L1411.7,1124.9 L1411.9,1134.7 L1412.1,1144.4 L1412.4,1146.8 L1412.6,1155.5 L1412.8,1161.4 L1413.1,1171.7 L1413.3,1180.4 L1413.5,1193.8 L1413.8,1201.8 L1414.0,1221.6 L1414.2,1232.4 L1414.4,1253.3 L1414.7,1263.5 L1414.9,1278.6 L1415.1,1289.0 L1415.4,1302.5 L1415.6,1309.2 L1415.8,1317.6 L1416.1,1333.6 L1416.3,1338.9 L1416.5,1349.2 L1416.7,1355.5 L1417.0,1359.2 L1417.2,1362.3 L1417.4,1367.3 L1417.7,1373.1 L1417.9,1374.1 L1418.1,1382.2 L1418.4,1384.7 L1418.6,1385.9 L1418.8,1391.7 L1419.0,1388.0 L1419.3,1392.8 L1419.5,1394.9 L1419.7,1395.1 L1420.0,1399.6 L1420.2,1398.6 L1420.4,1402.4 L1420.7,1400.7 L1420.9,1401.2 L1421.1,1399.7 L1421.3,1403.3 L1421.6,1402.1 L1421.8,1405.3 L1422.0,1408.8 L1422.3,1406.0 L1422.5,1408.0 L1422.7,1409.9 L1423.0,1408.3 L1423.2,1412.1 L1423.4,1411.7 L1423.6,1410.6 L1423.9,1410.9 L1424.1,1413.5 L1424.3,1412.3 L1424.6,1412.8 L1424.8,1412.1 L1425.0,1413.4 L1425.2,1416.3 L1425.5,1413.8 L1425.7,1411.2 L1425.9,1414.7 L1426.2,1414.0 L1426.4,1412.7 L1426.6,1414.5 L1426.9,1416.0 L1427.1,1414.8 L1427.3,1415.3 L1427.5,1416.6 L1427.8,1416.0 L1428.0,1418.1 L1428.2,1418.7 L1428.5,1418.4 L1428.7,1417.4 L1428.9,1417.3 L1429.2,1418.4 L1429.4,1416.2 L1429.6,1417.0 L1429.8,1417.9 L1430.1,1416.6 L1430.3,1416.2 L1430.5,1417.4 L1430.8,1419.3 L1431.0,1417.6 L1431.2,1417.2 L1431.5,1418.4 L1431.7,1419.3 L1431.9,1418.9 L1432.1,1418.9 L1432.4,1422.0 L1432.6,1417.4 L1432.8,1419.6 L1433.1,1417.0 L1433.3,1419.6 L1433.5,1420.8 L1433.8,1418.5 L1434.0,1419.5 L1434.2,1418.5 L1434.4,1420.3 L1434.7,1420.5 L1434.9,1420.9 L1435.1,1421.1 L1435.4,1419.8 L1435.6,1422.3 L1435.8,1420.4 L1436.1,1419.3 L1436.3,1422.1 L1436.5,1421.1 L1436.7,1421.7 L1437.0,1421.0 L1437.2,1420.1 L1437.4,1419.0 L1437.7,1418.4 L1437.9,1420.2 L1438.1,1418.0 L1438.4,1419.4 L1438.6,1419.8 L1438.8,1419.4 L1439.0,1420.5 L1439.3,1417.7 L1439.5,1420.3 L1439.7,1417.6 L1440.0,1414.4 L1440.2,1419.5 L1440.4,1421.3 L1440.7,1418.2 L1440.9,1420.4 L1441.1,1419.2 L1441.3,1419.3 L1441.6,1419.1 L1441.8,1416.3 L1442.0,1419.0 L1442.3,1419.0 L1442.5,1419.4 L1442.7,1420.1 L1443.0,1419.8 L1443.2,1420.2 L1443.4,1417.3 L1443.6,1418.4 L1443.9,1417.1 L1444.1,1417.4 L1444.3,1414.6 L1444.6,1417.8 L1444.8,1416.9 L1445.0,1418.7 L1445.2,1416.3 L1445.5,1418.4 L1445.7,1418.3 L1445.9,1420.4 L1446.2,1418.0 L1446.4,1416.6 L1446.6,1417.2 L1446.9,1420.6 L1447.1,1417.9 L1447.3,1420.0 L1447.5,1421.1 L1447.8,1420.3 L1448.0,1416.5 L1448.2,1418.3 L1448.5,1419.1 L1448.7,1416.5 L1448.9,1416.2 L1449.2,1416.7 L1449.4,1415.3 L1449.6,1416.2 L1449.8,1413.9 L1450.1,1414.4 L1450.3,1415.6 L1450.5,1415.1 L1450.8,1414.5 L1451.0,1416.1 L1451.2,1415.5 L1451.5,1416.7 L1451.7,1417.3 L1451.9,1419.8 L1452.1,1419.2 L1452.4,1419.2 L1452.6,1418.1 L1452.8,1414.8 L1453.1,1419.9 L1453.3,1419.4 L1453.5,1420.7 L1453.8,1419.5 L1454.0,1419.2 L1454.2,1417.9 L1454.4,1420.6 L1454.7,1417.9 L1454.9,1418.1 L1455.1,1418.7 L1455.4,1419.8 L1455.6,1419.4 L1455.8,1418.2 L1456.1,1417.0 L1456.3,1418.0 L1456.5,1418.9 L1456.7,1417.6 L1457.0,1419.5 L1457.2,1417.2 L1457.4,1414.5 L1457.7,1419.5 L1457.9,1417.5 L1458.1,1420.4 L1458.4,1419.1 L1458.6,1418.6 L1458.8,1417.8 L1459.0,1419.4 L1459.3,1417.6 L1459.5,1421.1 L1459.7,1419.7 L1460.0,1419.4 L1460.2,1419.3 L1460.4,1419.6 L1460.7,1417.0 L1460.9,1420.0 L1461.1,1418.2 L1461.3,1419.0 L1461.6,1416.9 L1461.8,1420.1 L1462.0,1418.9 L1462.3,1419.2 L1462.5,1424.4 L1462.7,1419.8 L1463.0,1419.1 L1463.2,1418.5 L1463.4,1422.1 L1463.6,1421.0 L1463.9,1419.2 L1464.1,1422.4 L1464.3,1422.0 L1464.6,1420.2 L1464.8,1420.2 L1465.0,1419.4 L1465.3,1419.7 L1465.5,1421.0 L1465.7,1422.7 L1465.9,1422.2 L1466.2,1421.4 L1466.4,1420.8 L1466.6,1421.2 L1466.9,1420.1 L1467.1,1422.0 L1467.3,1421.5 L1467.5,1422.4 L1467.8,1417.8 L1468.0,1420.4 L1468.2,1418.6 L1468.5,1417.9 L1468.7,1418.7 L1468.9,1419.1 L1469.2,1419.3 L1469.4,1418.7 L1469.6,1420.5 L1469.8,1418.7 L1470.1,1416.6 L1470.3,1417.0 L1470.5,1416.0 L1470.8,1415.7 L1471.0,1415.4 L1471.2,1415.9 L1471.5,1415.3 L1471.7,1413.6 L1471.9,1415.0 L1472.1,1415.8 L1472.4,1411.9 L1472.6,1412.4 L1472.8,1410.1 L1473.1,1412.1 L1473.3,1413.0 L1473.5,1410.0 L1473.8,1410.1 L1474.0,1410.1 L1474.2,1405.6 L1474.4,1407.1 L1474.7,1408.9 L1474.9,1409.1 L1475.1,1406.2 L1475.4,1404.7 L1475.6,1404.8 L1475.8,1403.1 L1476.1,1404.2 L1476.3,1403.8 L1476.5,1407.7 L1476.7,1402.3 L1477.0,1405.3 L1477.2,1403.0 L1477.4,1407.2 L1477.7,1406.3 L1477.9,1403.2 L1478.1,1407.5 L1478.4,1405.5 L1478.6,1406.9 L1478.8,1404.0 L1479.0,1406.7 L1479.3,1405.9 L1479.5,1408.6 L1479.7,1411.8 L1480.0,1406.5 L1480.2,1411.1 L1480.4,1410.5 L1480.7,1411.0 L1480.9,1413.7 L1481.1,1410.3 L1481.3,1412.1 L1481.6,1414.2 L1481.8,1413.8 L1482.0,1414.9 L1482.3,1412.6 L1482.5,1411.7 L1482.7,1412.9 L1483.0,1411.5 L1483.2,1412.1 L1483.4,1410.9 L1483.6,1411.7 L1483.9,1411.9 L1484.1,1412.8 L1484.3,1413.1 L1484.6,1412.3 L1484.8,1409.8 L1485.0,1410.5 L1485.3,1406.6 L1485.5,1406.7 L1485.7,1409.2 L1485.9,1404.9 L1486.2,1402.2 L1486.4,1403.8 L1486.6,1398.8 L1486.9,1400.4 L1487.1,1394.3 L1487.3,1394.1 L1487.6,1393.4 L1487.8,1393.9 L1488.0,1388.6 L1488.2,1387.5 L1488.5,1382.7 L1488.7,1382.6 L1488.9,1377.1 L1489.2,1376.3 L1489.4,1371.4 L1489.6,1368.4 L1489.8,1367.4 L1490.1,1364.6 L1490.3,1361.6 L1490.5,1364.3 L1490.8,1359.9 L1491.0,1359.8 L1491.2,1356.5 L1491.5,1360.1 L1491.7,1357.9 L1491.9,1364.0 L1492.1,1358.6 L1492.4,1361.3 L1492.6,1362.5 L1492.8,1362.6 L1493.1,1368.5 L1493.3,1367.8 L1493.5,1368.7 L1493.8,1371.2 L1494.0,1373.4 L1494.2,1372.3 L1494.4,1376.3 L1494.7,1379.1 L1494.9,1380.8 L1495.1,1380.4 L1495.4,1381.6 L1495.6,1385.4 L1495.8,1388.8 L1496.1,1394.5 L1496.3,1395.0 L1496.5,1397.7 L1496.7,1399.5 L1497.0,1397.5 L1497.2,1402.4 L1497.4,1400.6 L1497.7,1404.4 L1497.9,1406.3 L1498.1,1407.8 L1498.4,1411.1 L1498.6,1410.6 L1498.8,1409.7 L1499.0,1410.9 L1499.3,1412.5 L1499.5,1412.4 L1499.7,1413.8 L1500.0,1414.0 L1500.2,1411.6 L1500.4,1415.4 L1500.7,1418.4 L1500.9,1419.4 L1501.1,1417.9 L1501.3,1417.1 L1501.6,1416.6 L1501.8,1418.5 L1502.0,1418.8 L1502.3,1418.7 L1502.5,1421.3 L1502.7,1420.5 L1503.0,1420.3 L1503.2,1421.6 L1503.4,1422.3 L1503.6,1420.7 L1503.9,1420.1 L1504.1,1421.6 L1504.3,1424.8 L1504.6,1423.0 L1504.8,1422.8 L1505.0,1422.0 L1505.3,1423.4 L1505.5,1423.7 L1505.7,1422.4 L1505.9,1422.5 L1506.2,1424.4 L1506.4,1426.2 L1506.6,1426.7 L1506.9,1424.6 L1507.1,1426.5 L1507.3,1425.6 L1507.6,1425.8 L1507.8,1425.4 L1508.0,1425.2 L1508.2,1426.8 L1508.5,1426.3 L1508.7,1425.3 L1508.9,1425.5 L1509.2,1427.1 L1509.4,1423.2 L1509.6,1427.1 L1509.8,1424.1 L1510.1,1427.2 L1510.3,1424.0 L1510.5,1427.2 L1510.8,1424.0 L1511.0,1424.7 L1511.2,1423.9 L1511.5,1425.5 L1511.7,1424.1 L1511.9,1423.9 L1512.1,1423.9 L1512.4,1424.6 L1512.6,1422.3 L1512.8,1426.0 L1513.1,1425.6 L1513.3,1425.5 L1513.5,1422.2 L1513.8,1424.9 L1514.0,1424.8 L1514.2,1424.9 L1514.4,1424.6 L1514.7,1424.7 L1514.9,1425.2 L1515.1,1426.6 L1515.4,1424.5 L1515.6,1425.2 L1515.8,1423.6 L1516.1,1424.9 L1516.3,1425.5 L1516.5,1427.2 L1516.7,1425.4 L1517.0,1424.9 L1517.2,1423.7 L1517.4,1425.2 L1517.7,1424.8 L1517.9,1425.2 L1518.1,1424.1 L1518.4,1424.9 L1518.6,1426.3 L1518.8,1428.3 L1519.0,1425.0 L1519.3,1427.0 L1519.5,1428.2 L1519.7,1429.1 L1520.0,1429.6 L1520.2,1427.3 L1520.4,1427.8 L1520.7,1427.1 L1520.9,1426.0 L1521.1,1427.9 L1521.3,1426.6 L1521.6,1427.3 L1521.8,1427.4 L1522.0,1428.7 L1522.3,1426.8 L1522.5,1424.5 L1522.7,1426.2 L1523.0,1425.1 L1523.2,1425.2 L1523.4,1423.0 L1523.6,1423.6 L1523.9,1426.0 L1524.1,1425.7 L1524.3,1423.8 L1524.6,1424.8 L1524.8,1425.0 L1525.0,1423.8 L1525.3,1424.6 L1525.5,1425.2 L1525.7,1422.0 L1525.9,1425.1 L1526.2,1427.3 L1526.4,1425.5 L1526.6,1425.8 L1526.9,1424.3 L1527.1,1426.0 L1527.3,1427.2 L1527.6,1426.1 L1527.8,1427.9 L1528.0,1426.8 L1528.2,1425.8 L1528.5,1427.1 L1528.7,1428.3 L1528.9,1427.0 L1529.2,1426.6 L1529.4,1424.9 L1529.6,1425.9 L1529.9,1425.4 L1530.1,1426.3 L1530.3,1425.1 L1530.5,1425.9 L1530.8,1424.5 L1531.0,1424.9 L1531.2,1423.5 L1531.5,1424.6 L1531.7,1425.8 L1531.9,1426.5 L1532.1,1425.4 L1532.4,1424.8 L1532.6,1423.9 L1532.8,1426.5 L1533.1,1427.4 L1533.3,1428.1 L1533.5,1427.2 L1533.8,1426.3 L1534.0,1426.5 L1534.2,1426.5 L1534.4,1426.2 L1534.7,1425.7 L1534.9,1428.0 L1535.1,1425.9 L1535.4,1426.2 L1535.6,1426.1 L1535.8,1426.3 L1536.1,1427.9 L1536.3,1424.9 L1536.5,1425.8 L1536.7,1425.1 L1537.0,1424.3 L1537.2,1424.3 L1537.4,1423.6 L1537.7,1423.2 L1537.9,1424.6 L1538.1,1424.5 L1538.4,1421.6 L1538.6,1423.2 L1538.8,1419.1 L1539.0,1422.9 L1539.3,1420.9 L1539.5,1420.9 L1539.7,1420.3 L1540.0,1421.6 L1540.2,1419.9 L1540.4,1417.6 L1540.7,1420.9 L1540.9,1423.1 L1541.1,1419.3 L1541.3,1419.7 L1541.6,1419.4 L1541.8,1421.4 L1542.0,1419.8 L1542.3,1419.1 L1542.5,1420.9 L1542.7,1420.0 L1543.0,1419.1 L1543.2,1418.5 L1543.4,1419.5 L1543.6,1418.5 L1543.9,1415.7 L1544.1,1415.3 L1544.3,1419.4 L1544.6,1414.7 L1544.8,1418.3 L1545.0,1416.3 L1545.3,1419.6 L1545.5,1418.3 L1545.7,1419.1 L1545.9,1417.3 L1546.2,1418.3 L1546.4,1418.1 L1546.6,1418.3 L1546.9,1418.5 L1547.1,1417.5 L1547.3,1418.5 L1547.6,1418.7 L1547.8,1419.3 L1548.0,1419.6 L1548.2,1419.0 L1548.5,1417.7 L1548.7,1416.8 L1548.9,1418.4 L1549.2,1415.7 L1549.4,1416.8 L1549.6,1418.7 L1549.9,1418.5 L1550.1,1419.4 L1550.3,1422.1 L1550.5,1419.1 L1550.8,1420.4 L1551.0,1423.3 L1551.2,1420.5 L1551.5,1422.8 L1551.7,1422.8 L1551.9,1425.0 L1552.2,1423.3 L1552.4,1423.0 L1552.6,1424.2 L1552.8,1423.9 L1553.1,1426.3 L1553.3,1423.3 L1553.5,1424.0 L1553.8,1423.8 L1554.0,1422.8 L1554.2,1422.2 L1554.4,1423.4 L1554.7,1422.2 L1554.9,1421.0 L1555.1,1424.5 L1555.4,1423.2 L1555.6,1425.4 L1555.8,1423.3 L1556.1,1422.3 L1556.3,1424.3 L1556.5,1425.7 L1556.7,1425.2 L1557.0,1424.3 L1557.2,1426.7 L1557.4,1426.7 L1557.7,1424.6 L1557.9,1426.7 L1558.1,1425.0 L1558.4,1426.3 L1558.6,1426.9 L1558.8,1424.1 L1559.0,1423.7 L1559.3,1426.0 L1559.5,1422.5 L1559.7,1425.1 L1560.0,1424.8 L1560.2,1425.4 L1560.4,1427.0 L1560.7,1424.8 L1560.9,1426.0 L1561.1,1425.8 L1561.3,1426.5 L1561.6,1427.3 L1561.8,1424.3 L1562.0,1426.5 L1562.3,1427.3 L1562.5,1426.3 L1562.7,1428.5 L1563.0,1426.6 L1563.2,1423.9 L1563.4,1427.7 L1563.6,1426.3 L1563.9,1428.2 L1564.1,1426.7 L1564.3,1425.4 L1564.6,1427.7 L1564.8,1427.5 L1565.0,1425.0 L1565.3,1425.9 L1565.5,1425.4 L1565.7,1425.4 L1565.9,1427.4 L1566.2,1427.7 L1566.4,1427.7 L1566.6,1424.8 L1566.9,1426.8 L1567.1,1427.1 L1567.3,1425.6 L1567.6,1425.1 L1567.8,1424.7 L1568.0,1427.2 L1568.2,1423.8 L1568.5,1426.6 L1568.7,1425.6 L1568.9,1426.1 L1569.2,1427.4 L1569.4,1426.0 L1569.6,1426.3 L1569.9,1425.4 L1570.1,1424.6 L1570.3,1424.3 L1570.5,1425.6 L1570.8,1425.8 L1571.0,1426.9 L1571.2,1428.0 L1571.5,1425.6 L1571.7,1426.7 L1571.9,1426.2 L1572.2,1426.4 L1572.4,1425.3 L1572.6,1426.3 L1572.8,1423.1 L1573.1,1424.9 L1573.3,1426.5 L1573.5,1425.5 L1573.8,1424.2 L1574.0,1427.2 L1574.2,1425.5 L1574.4,1426.3 L1574.7,1425.5 L1574.9,1426.0 L1575.1,1425.0 L1575.4,1424.5 L1575.6,1424.2 L1575.8,1426.5 L1576.1,1423.8 L1576.3,1424.5 L1576.5,1425.2 L1576.7,1424.5 L1577.0,1422.5 L1577.2,1424.6 L1577.4,1425.5 L1577.7,1423.5 L1577.9,1424.6 L1578.1,1423.4 L1578.4,1423.8 L1578.6,1422.3 L1578.8,1424.5 L1579.0,1424.1 L1579.3,1422.2 L1579.5,1421.4 L1579.7,1423.1 L1580.0,1421.7 L1580.2,1422.5 L1580.4,1422.9 L1580.7,1424.8 L1580.9,1420.1 L1581.1,1421.0 L1581.3,1425.1 L1581.6,1421.2 L1581.8,1422.7 L1582.0,1423.1 L1582.3,1422.5 L1582.5,1420.9 L1582.7,1421.9 L1583.0,1422.2 L1583.2,1422.2 L1583.4,1422.6 L1583.6,1421.6 L1583.9,1425.0 L1584.1,1424.2 L1584.3,1422.8 L1584.6,1424.0 L1584.8,1422.3 L1585.0,1422.9 L1585.3,1421.7 L1585.5,1422.3 L1585.7,1421.1 L1585.9,1421.7 L1586.2,1420.7 L1586.4,1422.0 L1586.6,1423.7 L1586.9,1421.4 L1587.1,1421.3 L1587.3,1422.0 L1587.6,1420.1 L1587.8,1420.7 L1588.0,1419.3 L1588.2,1421.7 L1588.5,1421.7 L1588.7,1420.4 L1588.9,1418.9 L1589.2,1421.6 L1589.4,1419.9 L1589.6,1420.3 L1589.9,1420.5 L1590.1,1418.6 L1590.3,1418.5 L1590.5,1418.4 L1590.8,1420.0 L1591.0,1418.8 L1591.2,1420.8 L1591.5,1417.3 L1591.7,1419.4 L1591.9,1417.6 L1592.2,1415.5 L1592.4,1416.6 L1592.6,1415.6 L1592.8,1416.3 L1593.1,1411.1 L1593.3,1416.2 L1593.5,1414.8 L1593.8,1413.6 L1594.0,1408.9 L1594.2,1413.1 L1594.5,1411.5 L1594.7,1409.5 L1594.9,1413.3 L1595.1,1407.5 L1595.4,1407.1 L1595.6,1403.9 L1595.8,1402.4 L1596.1,1402.6 L1596.3,1399.9 L1596.5,1401.2 L1596.7,1400.3 L1597.0,1396.7 L1597.2,1393.8 L1597.4,1392.3 L1597.7,1388.2 L1597.9,1384.6 L1598.1,1378.7 L1598.4,1378.3 L1598.6,1374.0 L1598.8,1366.3 L1599.0,1360.2 L1599.3,1352.0 L1599.5,1341.2 L1599.7,1337.0 L1600.0,1323.3 L1600.2,1310.6 L1600.4,1298.5 L1600.7,1291.3 L1600.9,1275.3 L1601.1,1258.1 L1601.3,1247.1 L1601.6,1233.2 L1601.8,1222.6 L1602.0,1210.1 L1602.3,1205.5 L1602.5,1202.9 L1602.7,1201.6 L1603.0,1201.6 L1603.2,1208.8 L1603.4,1219.8 L1603.6,1228.5 L1603.9,1230.6 L1604.1,1243.1 L1604.3,1246.0 L1604.6,1253.4 L1604.8,1255.9 L1605.0,1261.2 L1605.3,1267.0 L1605.5,1260.9 L1605.7,1265.5 L1605.9,1267.7 L1606.2,1266.7 L1606.4,1272.3 L1606.6,1276.5 L1606.9,1285.8 L1607.1,1292.9 L1607.3,1300.8 L1607.6,1312.2 L1607.8,1318.5 L1608.0,1328.5 L1608.2,1339.0 L1608.5,1347.6 L1608.7,1352.7 L1608.9,1362.1 L1609.2,1367.4 L1609.4,1373.3 L1609.6,1379.4 L1609.9,1389.9 L1610.1,1386.4 L1610.3,1388.9 L1610.5,1394.6 L1610.8,1397.2 L1611.0,1396.7 L1611.2,1402.5 L1611.5,1400.2 L1611.7,1403.1 L1611.9,1403.2 L1612.2,1407.0 L1612.4,1407.9 L1612.6,1408.6 L1612.8,1412.4 L1613.1,1412.1 L1613.3,1409.7 L1613.5,1413.1 L1613.8,1414.1 L1614.0,1412.7 L1614.2,1411.6 L1614.5,1414.2 L1614.7,1414.9 L1614.9,1414.9 L1615.1,1414.6 L1615.4,1417.8 L1615.6,1415.3 L1615.8,1415.5 L1616.1,1414.8 L1616.3,1415.0 L1616.5,1415.8 L1616.8,1414.1 L1617.0,1417.0 L1617.2,1417.3 L1617.4,1415.0 L1617.7,1417.2 L1617.9,1418.3 L1618.1,1418.3 L1618.4,1417.7 L1618.6,1419.6 L1618.8,1416.5 L1619.0,1417.5 L1619.3,1416.2 L1619.5,1419.3 L1619.7,1418.5 L1620.0,1418.9 L1620.2,1417.4 L1620.4,1417.6 L1620.7,1417.2 L1620.9,1417.4 L1621.1,1419.8 L1621.3,1418.2 L1621.6,1418.5 L1621.8,1418.8 L1622.0,1418.2 L1622.3,1421.4 L1622.5,1419.8 L1622.7,1419.3 L1623.0,1420.0 L1623.2,1420.4 L1623.4,1417.7 L1623.6,1417.7 L1623.9,1416.6 L1624.1,1420.1 L1624.3,1421.9 L1624.6,1417.9 L1624.8,1419.2 L1625.0,1420.1 L1625.3,1417.9 L1625.5,1418.7 L1625.7,1420.8 L1625.9,1418.3 L1626.2,1420.5 L1626.4,1417.4 L1626.6,1419.7 L1626.9,1419.9 L1627.1,1416.6 L1627.3,1416.1 L1627.6,1417.5 L1627.8,1418.6 L1628.0,1415.9 L1628.2,1416.4 L1628.5,1416.0 L1628.7,1416.6 L1628.9,1417.9 L1629.2,1416.0 L1629.4,1412.8 L1629.6,1415.4 L1629.9,1414.0 L1630.1,1413.2 L1630.3,1411.0 L1630.5,1411.2 L1630.8,1411.4 L1631.0,1407.0 L1631.2,1408.7 L1631.5,1407.5 L1631.7,1408.1 L1631.9,1408.4 L1632.2,1404.0 L1632.4,1404.1 L1632.6,1401.5 L1632.8,1404.2 L1633.1,1395.6 L1633.3,1396.4 L1633.5,1392.6 L1633.8,1393.3 L1634.0,1387.9 L1634.2,1384.2 L1634.5,1378.0 L1634.7,1373.8 L1634.9,1374.0 L1635.1,1363.1 L1635.4,1356.2 L1635.6,1349.3 L1635.8,1339.6 L1636.1,1329.4 L1636.3,1318.3 L1636.5,1311.6 L1636.8,1299.4 L1637.0,1285.5 L1637.2,1272.2 L1637.4,1264.0 L1637.7,1251.5 L1637.9,1245.5 L1638.1,1236.5 L1638.4,1233.5 L1638.6,1231.6 L1638.8,1232.0 L1639.1,1240.9 L1639.3,1244.5 L1639.5,1255.6 L1639.7,1259.0 L1640.0,1263.0 L1640.2,1276.2 L1640.4,1279.6 L1640.7,1289.7 L1640.9,1285.9 L1641.1,1285.1 L1641.3,1293.6 L1641.6,1292.7 L1641.8,1292.3 L1642.0,1298.7 L1642.3,1299.5 L1642.5,1305.2 L1642.7,1309.4 L1643.0,1314.2 L1643.2,1319.1 L1643.4,1327.7 L1643.6,1335.7 L1643.9,1343.4 L1644.1,1348.1 L1644.3,1356.2 L1644.6,1362.9 L1644.8,1373.5 L1645.0,1375.6 L1645.3,1382.3 L1645.5,1380.9 L1645.7,1386.9 L1645.9,1388.8 L1646.2,1396.1 L1646.4,1399.9 L1646.6,1400.9 L1646.9,1400.3 L1647.1,1404.3 L1647.3,1403.4 L1647.6,1403.7 L1647.8,1407.6 L1648.0,1406.6 L1648.2,1412.5 L1648.5,1411.9 L1648.7,1411.7 L1648.9,1412.1 L1649.2,1414.4 L1649.4,1413.6 L1649.6,1412.2 L1649.9,1413.2 L1650.1,1414.5 L1650.3,1417.1 L1650.5,1414.5 L1650.8,1416.3 L1651.0,1419.3 L1651.2,1417.1 L1651.5,1419.5 L1651.7,1418.8 L1651.9,1419.5 L1652.2,1419.6 L1652.4,1418.7 L1652.6,1417.6 L1652.8,1420.5 L1653.1,1421.0 L1653.3,1421.3 L1653.5,1420.8 L1653.8,1420.7 L1654.0,1423.3 L1654.2,1421.6 L1654.5,1419.0 L1654.7,1421.2 L1654.9,1420.9 L1655.1,1422.5 L1655.4,1419.8 L1655.6,1421.9 L1655.8,1423.1 L1656.1,1423.7 L1656.3,1422.2 L1656.5,1420.6 L1656.8,1423.6 L1657.0,1423.9 L1657.2,1425.5 L1657.4,1421.7 L1657.7,1423.7 L1657.9,1423.1 L1658.1,1423.4 L1658.4,1423.0 L1658.6,1420.8 L1658.8,1422.5 L1659.1,1421.2 L1659.3,1422.1 L1659.5,1421.6 L1659.7,1420.4 L1660.0,1420.5 L1660.2,1422.8 L1660.4,1421.6 L1660.7,1423.1 L1660.9,1421.5 L1661.1,1423.4 L1661.3,1424.1 L1661.6,1422.3 L1661.8,1424.2 L1662.0,1423.6 L1662.3,1423.0 L1662.5,1424.6 L1662.7,1424.4 L1663.0,1423.3 L1663.2,1421.4 L1663.4,1423.3 L1663.6,1423.2 L1663.9,1424.0 L1664.1,1424.1 L1664.3,1422.4 L1664.6,1425.0 L1664.8,1425.0 L1665.0,1422.4 L1665.3,1425.0 L1665.5,1425.5 L1665.7,1423.3 L1665.9,1422.6 L1666.2,1421.7 L1666.4,1421.1 L1666.6,1426.2 L1666.9,1423.8 L1667.1,1424.0 L1667.3,1423.3 L1667.6,1424.9 L1667.8,1424.1 L1668.0,1424.1 L1668.2,1424.5 L1668.5,1425.9 L1668.7,1425.0 L1668.9,1426.5 L1669.2,1426.7 L1669.4,1426.1 L1669.6,1425.0 L1669.9,1428.3 L1670.1,1426.1 L1670.3,1424.3 L1670.5,1425.6 L1670.8,1426.3 L1671.0,1425.2 L1671.2,1423.5 L1671.5,1425.4 L1671.7,1425.9 L1671.9,1424.1 L1672.2,1425.3 L1672.4,1425.7 L1672.6,1424.0 L1672.8,1425.9 L1673.1,1425.4 L1673.3,1423.6 L1673.5,1425.0 L1673.8,1423.9 L1674.0,1427.5 L1674.2,1427.3 L1674.5,1426.6 L1674.7,1426.0 L1674.9,1428.2 L1675.1,1425.9 L1675.4,1426.8 L1675.6,1426.9 L1675.8,1426.3 L1676.1,1426.7 L1676.3,1427.8 L1676.5,1426.7 L1676.8,1427.8 L1677.0,1424.8 L1677.2,1426.8 L1677.4,1426.5 L1677.7,1426.9 L1677.9,1426.1 L1678.1,1425.9 L1678.4,1426.4 L1678.6,1427.6 L1678.8,1425.4 L1679.1,1426.9 L1679.3,1429.2 L1679.5,1429.7 L1679.7,1428.6 L1680.0,1428.8 L1680.2,1429.4 L1680.4,1428.6 L1680.7,1427.1 L1680.9,1426.0 L1681.1,1427.1 L1681.4,1426.8 L1681.6,1425.7 L1681.8,1424.4 L1682.0,1425.4 L1682.3,1425.8 L1682.5,1426.5 L1682.7,1427.4 L1683.0,1425.8 L1683.2,1424.9 L1683.4,1425.9 L1683.6,1426.8 L1683.9,1425.6 L1684.1,1426.3 L1684.3,1426.9 L1684.6,1428.5 L1684.8,1425.6 L1685.0,1427.0 L1685.3,1424.9 L1685.5,1426.9 L1685.7,1426.1 L1685.9,1426.8 L1686.2,1424.2 L1686.4,1424.6 L1686.6,1426.2 L1686.9,1424.5 L1687.1,1427.5 L1687.3,1425.3 L1687.6,1426.7 L1687.8,1426.2 L1688.0,1426.5 L1688.2,1425.3 L1688.5,1427.9 L1688.7,1426.4 L1688.9,1424.4 L1689.2,1428.5 L1689.4,1426.2 L1689.6,1427.6 L1689.9,1429.2 L1690.1,1426.0 L1690.3,1427.1 L1690.5,1425.3 L1690.8,1429.0 L1691.0,1426.6 L1691.2,1425.2 L1691.5,1429.1 L1691.7,1426.2 L1691.9,1426.0 L1692.2,1426.3 L1692.4,1424.8 L1692.6,1425.4 L1692.8,1426.7 L1693.1,1426.6 L1693.3,1425.7 L1693.5,1423.6 L1693.8,1425.6 L1694.0,1424.4 L1694.2,1425.6 L1694.5,1424.9 L1694.7,1425.1 L1694.9,1424.5 L1695.1,1424.0 L1695.4,1426.8 L1695.6,1427.6 L1695.8,1426.5 L1696.1,1426.5 L1696.3,1426.1 L1696.5,1425.2 L1696.8,1426.7 L1697.0,1426.1 L1697.2,1425.9 L1697.4,1424.5 L1697.7,1426.0 L1697.9,1423.9 L1698.1,1422.9 L1698.4,1425.1 L1698.6,1423.1 L1698.8,1424.0 L1699.1,1424.6 L1699.3,1422.3 L1699.5,1423.2 L1699.7,1425.0 L1700.0,1424.2 L1700.2,1425.8 L1700.4,1426.8 L1700.7,1424.2 L1700.9,1425.6 L1701.1,1423.9 L1701.4,1425.8 L1701.6,1425.8 L1701.8,1426.3 L1702.0,1426.1 L1702.3,1427.3 L1702.5,1426.7 L1702.7,1428.5 L1703.0,1428.7 L1703.2,1428.3 L1703.4,1427.5 L1703.7,1427.0 L1703.9,1427.2 L1704.1,1425.8 L1704.3,1424.4 L1704.6,1429.9 L1704.8,1425.6 L1705.0,1426.1 L1705.3,1427.8 L1705.5,1427.0 L1705.7,1429.3 L1705.9,1427.4 L1706.2,1425.4 L1706.4,1428.5 L1706.6,1427.8 L1706.9,1427.1 L1707.1,1426.5 L1707.3,1427.2 L1707.6,1427.8 L1707.8,1426.5 L1708.0,1427.8 L1708.2,1424.4 L1708.5,1425.6 L1708.7,1426.8 L1708.9,1427.7 L1709.2,1427.3 L1709.4,1427.4 L1709.6,1426.7 L1709.9,1425.7 L1710.1,1427.5 L1710.3,1425.7 L1710.5,1425.7 L1710.8,1426.6 L1711.0,1424.0 L1711.2,1424.7 L1711.5,1424.8 L1711.7,1425.8 L1711.9,1426.1 L1712.2,1425.3 L1712.4,1427.1 L1712.6,1425.1 L1712.8,1426.9 L1713.1,1425.8 L1713.3,1425.1 L1713.5,1426.2 L1713.8,1426.7 L1714.0,1426.9 L1714.2,1425.9 L1714.5,1427.4 L1714.7,1426.3 L1714.9,1425.2 L1715.1,1428.6 L1715.4,1427.5 L1715.6,1426.4 L1715.8,1428.1 L1716.1,1428.2 L1716.3,1428.5 L1716.5,1426.3 L1716.8,1429.8 L1717.0,1427.5 L1717.2,1427.6 L1717.4,1427.3 L1717.7,1428.1 L1717.9,1426.9 L1718.1,1427.4 L1718.4,1427.5 L1718.6,1423.5 L1718.8,1425.0 L1719.1,1427.2 L1719.3,1426.6 L1719.5,1425.1 L1719.7,1423.7 L1720.0,1425.2 L1720.2,1423.9 L1720.4,1424.1 L1720.7,1422.5 L1720.9,1424.0 L1721.1,1423.7 L1721.4,1421.8 L1721.6,1421.2 L1721.8,1420.7 L1722.0,1418.5 L1722.3,1418.6 L1722.5,1419.0 L1722.7,1420.6 L1723.0,1418.4 L1723.2,1418.7 L1723.4,1421.4 L1723.7,1421.5 L1723.9,1423.7 L1724.1,1422.9 L1724.3,1423.9 L1724.6,1426.3 L1724.8,1424.5 L1725.0,1425.1 L1725.3,1425.3 L1725.5,1423.5 L1725.7,1424.0 L1725.9,1423.2 L1726.2,1424.3 L1726.4,1421.7 L1726.6,1423.9 L1726.9,1421.7 L1727.1,1424.3 L1727.3,1422.2 L1727.6,1423.9 L1727.8,1424.7 L1728.0,1422.5 L1728.2,1423.4 L1728.5,1423.4 L1728.7,1424.3 L1728.9,1424.2 L1729.2,1424.7 L1729.4,1424.9 L1729.6,1424.6 L1729.9,1422.0 L1730.1,1425.9 L1730.3,1426.5 L1730.5,1425.8 L1730.8,1425.5 L1731.0,1424.0 L1731.2,1423.4 L1731.5,1423.4 L1731.7,1425.2 L1731.9,1424.1 L1732.2,1422.8 L1732.4,1424.3 L1732.6,1423.4 L1732.8,1426.1 L1733.1,1423.7 L1733.3,1423.6 L1733.5,1426.0 L1733.8,1424.2 L1734.0,1423.2 L1734.2,1424.9 L1734.5,1422.3 L1734.7,1422.0 L1734.9,1422.5 L1735.1,1422.8 L1735.4,1422.6 L1735.6,1421.5 L1735.8,1420.2 L1736.1,1423.0 L1736.3,1420.6 L1736.5,1420.1 L1736.8,1421.1 L1737.0,1421.4 L1737.2,1419.8 L1737.4,1421.6 L1737.7,1419.2 L1737.9,1420.0 L1738.1,1421.3 L1738.4,1420.2 L1738.6,1421.7 L1738.8,1421.9 L1739.1,1419.8 L1739.3,1422.7 L1739.5,1425.2 L1739.7,1421.7 L1740.0,1423.5 L1740.2,1423.4 L1740.4,1420.2 L1740.7,1422.2 L1740.9,1421.0 L1741.1,1423.6 L1741.4,1423.1 L1741.6,1422.7 L1741.8,1420.8 L1742.0,1422.6 L1742.3,1424.2 L1742.5,1421.0 L1742.7,1422.8 L1743.0,1422.2 L1743.2,1421.6 L1743.4,1420.1 L1743.7,1423.0 L1743.9,1421.2 L1744.1,1425.0 L1744.3,1423.4 L1744.6,1423.4 L1744.8,1426.5 L1745.0,1425.1 L1745.3,1424.8 L1745.5,1423.4 L1745.7,1424.6 L1746.0,1424.5 L1746.2,1424.8 L1746.4,1423.5 L1746.6,1424.2 L1746.9,1424.3 L1747.1,1424.7 L1747.3,1423.8 L1747.6,1425.7 L1747.8,1425.2 L1748.0,1425.4 L1748.2,1425.2 L1748.5,1424.7 L1748.7,1425.6 L1748.9,1427.7 L1749.2,1425.1 L1749.4,1424.9 L1749.6,1424.9 L1749.9,1425.3 L1750.1,1428.1 L1750.3,1426.5 L1750.5,1425.5 L1750.8,1425.5 L1751.0,1426.6 L1751.2,1426.4 L1751.5,1427.9 L1751.7,1426.3 L1751.9,1429.1 L1752.2,1426.9 L1752.4,1425.4 L1752.6,1427.7 L1752.8,1424.7 L1753.1,1423.7 L1753.3,1425.2 L1753.5,1426.2 L1753.8,1426.1 L1754.0,1426.8 L1754.2,1424.6 L1754.5,1426.7 L1754.7,1425.3 L1754.9,1426.9 L1755.1,1425.3 L1755.4,1427.6 L1755.6,1426.4 L1755.8,1427.2 L1756.1,1425.3 L1756.3,1427.0 L1756.5,1426.7 L1756.8,1425.2 L1757.0,1427.7 L1757.2,1427.7 L1757.4,1426.2 L1757.7,1427.2 L1757.9,1423.9 L1758.1,1425.6 L1758.4,1425.3 L1758.6,1425.9 L1758.8,1429.0 L1759.1,1423.7 L1759.3,1425.1 L1759.5,1427.1 L1759.7,1425.8 L1760.0,1424.4 L1760.2,1422.7 L1760.4,1423.5 L1760.7,1423.3 L1760.9,1423.1 L1761.1,1424.4 L1761.4,1423.9 L1761.6,1422.9 L1761.8,1424.3 L1762.0,1422.4 L1762.3,1421.3 L1762.5,1424.8 L1762.7,1421.7 L1763.0,1421.3 L1763.2,1420.4 L1763.4,1417.5 L1763.7,1421.0 L1763.9,1415.7 L1764.1,1416.5 L1764.3,1412.9 L1764.6,1415.9 L1764.8,1413.6 L1765.0,1413.0 L1765.3,1410.7 L1765.5,1411.6 L1765.7,1410.3 L1766.0,1408.4 L1766.2,1406.3 L1766.4,1409.1 L1766.6,1407.4 L1766.9,1408.2 L1767.1,1407.2 L1767.3,1407.1 L1767.6,1411.5 L1767.8,1411.7 L1768.0,1411.5 L1768.3,1413.4 L1768.5,1410.6 L1768.7,1410.9 L1768.9,1412.8 L1769.2,1413.6 L1769.4,1416.3 L1769.6,1416.3 L1769.9,1414.4 L1770.1,1412.9 L1770.3,1415.7 L1770.5,1414.9 L1770.8,1413.1 L1771.0,1413.2 L1771.2,1417.6 L1771.5,1416.2 L1771.7,1416.1 L1771.9,1420.0 L1772.2,1418.9 L1772.4,1418.5 L1772.6,1420.0 L1772.8,1419.1 L1773.1,1420.8 L1773.3,1422.9 L1773.5,1422.6 L1773.8,1424.0 L1774.0,1423.2 L1774.2,1421.1 L1774.5,1421.7 L1774.7,1421.7 L1774.9,1421.0 L1775.1,1424.3 L1775.4,1423.7 L1775.6,1423.2 L1775.8,1421.6 L1776.1,1423.4 L1776.3,1424.1 L1776.5,1423.8 L1776.8,1425.3 L1777.0,1426.7 L1777.2,1423.9 L1777.4,1425.0 L1777.7,1424.0 L1777.9,1425.9 L1778.1,1425.6 L1778.4,1423.7 L1778.6,1424.3 L1778.8,1423.5 L1779.1,1425.4 L1779.3,1424.6 L1779.5,1424.0 L1779.7,1423.8 L1780.0,1425.0 L1780.2,1424.7 L1780.4,1425.2 L1780.7,1425.3 L1780.9,1425.4 L1781.1,1424.9 L1781.4,1427.1 L1781.6,1425.8 L1781.8,1427.1 L1782.0,1426.1 L1782.3,1426.5 L1782.5,1426.1 L1782.7,1426.7 L1783.0,1426.6 L1783.2,1428.0 L1783.4,1424.8 L1783.7,1427.9 L1783.9,1428.4 L1784.1,1425.8 L1784.3,1425.5 L1784.6,1426.3 L1784.8,1426.5 L1785.0,1427.5 L1785.3,1424.2 L1785.5,1428.3 L1785.7,1423.9 L1786.0,1428.4 L1786.2,1428.0 L1786.4,1427.2 L1786.6,1427.5 L1786.9,1426.5 L1787.1,1428.1 L1787.3,1427.5 L1787.6,1428.8 L1787.8,1425.5 L1788.0,1427.1 L1788.3,1427.4 L1788.5,1426.3 L1788.7,1425.1 L1788.9,1425.6 L1789.2,1426.6 L1789.4,1425.6 L1789.6,1425.3 L1789.9,1425.1 L1790.1,1425.9 L1790.3,1424.8 L1790.5,1426.8 L1790.8,1425.4 L1791.0,1426.5 L1791.2,1425.5 L1791.5,1426.2 L1791.7,1424.8 L1791.9,1426.0 L1792.2,1424.2 L1792.4,1426.6 L1792.6,1424.3 L1792.8,1426.4 L1793.1,1428.3 L1793.3,1426.7 L1793.5,1424.7 L1793.8,1425.6 L1794.0,1425.5 L1794.2,1426.7 L1794.5,1426.1 L1794.7,1427.7 L1794.9,1424.8 L1795.1,1425.0 L1795.4,1426.3 L1795.6,1427.5 L1795.8,1427.5 L1796.1,1425.9 L1796.3,1426.0 L1796.5,1427.2 L1796.8,1425.1 L1797.0,1424.7 L1797.2,1424.9 L1797.4,1424.9 L1797.7,1425.0 L1797.9,1425.2 L1798.1,1425.6 L1798.4,1426.0 L1798.6,1424.1 L1798.8,1427.3 L1799.1,1425.6 L1799.3,1425.0 L1799.5,1423.5 L1799.7,1426.7 L1800.0,1424.9 L1800.2,1425.2 L1800.4,1425.6 L1800.7,1424.7 L1800.9,1428.7 L1801.1,1425.7 L1801.4,1426.9 L1801.6,1426.2 L1801.8,1426.7 L1802.0,1427.3 L1802.3,1428.3 L1802.5,1425.4 L1802.7,1425.9 L1803.0,1426.9 L1803.2,1425.2 L1803.4,1426.1 L1803.7,1425.6 L1803.9,1424.2 L1804.1,1423.3 L1804.3,1426.4 L1804.6,1424.3 L1804.8,1423.5 L1805.0,1425.7 L1805.3,1424.7 L1805.5,1424.0 L1805.7,1423.4 L1806.0,1425.9 L1806.2,1426.5 L1806.4,1425.4 L1806.6,1425.2 L1806.9,1424.6 L1807.1,1424.4 L1807.3,1426.6 L1807.6,1423.3 L1807.8,1426.0 L1808.0,1423.4 L1808.3,1423.0 L1808.5,1422.9 L1808.7,1422.9 L1808.9,1422.7 L1809.2,1424.0 L1809.4,1423.9 L1809.6,1420.1 L1809.9,1420.6 L1810.1,1420.6 L1810.3,1421.0 L1810.6,1423.7 L1810.8,1419.1 L1811.0,1421.3 L1811.2,1420.8 L1811.5,1419.4 L1811.7,1420.9 L1811.9,1418.0 L1812.2,1422.4 L1812.4,1417.5 L1812.6,1418.2 L1812.8,1419.7 L1813.1,1417.3 L1813.3,1416.7 L1813.5,1417.1 L1813.8,1416.7 L1814.0,1418.0 L1814.2,1415.9 L1814.5,1415.6 L1814.7,1414.9 L1814.9,1415.3 L1815.1,1418.2 L1815.4,1414.5 L1815.6,1416.6 L1815.8,1415.2 L1816.1,1413.4 L1816.3,1412.0 L1816.5,1411.7 L1816.8,1409.5 L1817.0,1407.8 L1817.2,1406.8 L1817.4,1405.2 L1817.7,1402.8 L1817.9,1399.9 L1818.1,1400.2 L1818.4,1398.5 L1818.6,1390.6 L1818.8,1389.1 L1819.1,1390.5 L1819.3,1379.9 L1819.5,1376.2 L1819.7,1378.9 L1820.0,1374.4 L1820.2,1370.3 L1820.4,1369.6 L1820.7,1367.1 L1820.9,1365.5 L1821.1,1363.7 L1821.4,1372.1 L1821.6,1368.5 L1821.8,1368.6 L1822.0,1378.2 L1822.3,1374.8 L1822.5,1377.8 L1822.7,1380.8 L1823.0,1379.9 L1823.2,1380.2 L1823.4,1381.9 L1823.7,1380.8 L1823.9,1386.9 L1824.1,1389.8 L1824.3,1386.9 L1824.6,1385.5 L1824.8,1383.5 L1825.0,1384.9 L1825.3,1387.6 L1825.5,1384.4 L1825.7,1387.3 L1826.0,1389.1 L1826.2,1391.6 L1826.4,1392.3 L1826.6,1393.9 L1826.9,1396.9 L1827.1,1403.1 L1827.3,1402.3 L1827.6,1401.8 L1827.8,1401.6 L1828.0,1403.8 L1828.3,1405.4 L1828.5,1405.8 L1828.7,1408.7 L1828.9,1408.9 L1829.2,1410.6 L1829.4,1412.9 L1829.6,1415.6 L1829.9,1417.6 L1830.1,1415.5 L1830.3,1418.7 L1830.6,1417.8 L1830.8,1417.3 L1831.0,1419.8 L1831.2,1418.0 L1831.5,1419.5 L1831.7,1421.1 L1831.9,1419.3 L1832.2,1419.3 L1832.4,1421.0 L1832.6,1419.8 L1832.9,1422.0 L1833.1,1420.5 L1833.3,1420.4 L1833.5,1422.2 L1833.8,1420.9 L1834.0,1419.4 L1834.2,1422.2 L1834.5,1423.0 L1834.7,1423.6 L1834.9,1423.0 L1835.1,1423.8 L1835.4,1424.7 L1835.6,1422.9 L1835.8,1422.9 L1836.1,1424.7 L1836.3,1423.6 L1836.5,1422.7 L1836.8,1423.5 L1837.0,1423.8 L1837.2,1423.2 L1837.4,1424.9 L1837.7,1423.1 L1837.9,1422.0 L1838.1,1425.2 L1838.4,1426.9 L1838.6,1425.7 L1838.8,1426.3 L1839.1,1425.1 L1839.3,1424.2 L1839.5,1425.2 L1839.7,1424.0 L1840.0,1425.6 L1840.2,1426.1 L1840.4,1428.4 L1840.7,1425.5 L1840.9,1426.5 L1841.1,1426.2 L1841.4,1425.6 L1841.6,1423.2 L1841.8,1423.9 L1842.0,1424.8 L1842.3,1426.4 L1842.5,1425.1 L1842.7,1424.9 L1843.0,1423.6 L1843.2,1424.1 L1843.4,1424.2 L1843.7,1425.9 L1843.9,1423.8 L1844.1,1421.9 L1844.3,1426.7 L1844.6,1426.4 L1844.8,1425.2 L1845.0,1424.2 L1845.3,1425.1 L1845.5,1425.3 L1845.7,1423.7 L1846.0,1426.6 L1846.2,1427.6 L1846.4,1427.0 L1846.6,1424.2 L1846.9,1424.0 L1847.1,1425.4 L1847.3,1426.6 L1847.6,1425.9 L1847.8,1424.4 L1848.0,1423.7 L1848.3,1425.6 L1848.5,1426.0 L1848.7,1426.2 L1848.9,1426.0 L1849.2,1424.7 L1849.4,1425.4 L1849.6,1425.4 L1849.9,1425.8 L1850.1,1425.7 L1850.3,1427.5 L1850.6,1427.3 L1850.8,1425.7 L1851.0,1425.6 L1851.2,1424.7 L1851.5,1426.0 L1851.7,1426.9 L1851.9,1426.0 L1852.2,1426.1 L1852.4,1425.1 L1852.6,1425.8 L1852.9,1425.0 L1853.1,1424.8 L1853.3,1424.7 L1853.5,1424.6 L1853.8,1426.3 L1854.0,1423.7 L1854.2,1423.0 L1854.5,1423.8 L1854.7,1422.8 L1854.9,1424.1 L1855.1,1425.2 L1855.4,1424.0 L1855.6,1424.7 L1855.8,1424.9 L1856.1,1423.1 L1856.3,1426.2 L1856.5,1424.1 L1856.8,1426.2 L1857.0,1427.8 L1857.2,1425.0 L1857.4,1425.8 L1857.7,1425.6 L1857.9,1425.5 L1858.1,1424.4 L1858.4,1425.1 L1858.6,1425.7 L1858.8,1425.4 L1859.1,1424.6 L1859.3,1425.7 L1859.5,1424.5 L1859.7,1427.3 L1860.0,1425.1 L1860.2,1425.0 L1860.4,1424.1 L1860.7,1426.3 L1860.9,1425.3 L1861.1,1424.5 L1861.4,1421.7 L1861.6,1424.8 L1861.8,1424.2 L1862.0,1425.5 L1862.3,1422.3 L1862.5,1425.0 L1862.7,1425.0 L1863.0,1424.5 L1863.2,1426.2 L1863.4,1425.8 L1863.7,1425.1 L1863.9,1425.7 L1864.1,1423.5 L1864.3,1425.3 L1864.6,1422.1 L1864.8,1424.4 L1865.0,1425.5 L1865.3,1424.3 L1865.5,1423.5 L1865.7,1424.1 L1866.0,1423.3 L1866.2,1423.8 L1866.4,1424.2 L1866.6,1423.1 L1866.9,1420.6 L1867.1,1423.0 L1867.3,1422.4 L1867.6,1424.0 L1867.8,1422.8 L1868.0,1421.5 L1868.3,1422.3 L1868.5,1420.4 L1868.7,1420.6 L1868.9,1422.4 L1869.2,1422.1 L1869.4,1421.2 L1869.6,1421.7 L1869.9,1422.6 L1870.1,1424.5 L1870.3,1420.6 L1870.6,1422.2 L1870.8,1422.1 L1871.0,1423.1 L1871.2,1420.3 L1871.5,1422.2 L1871.7,1421.8 L1871.9,1424.4 L1872.2,1422.4 L1872.4,1421.7 L1872.6,1421.1 L1872.9,1420.6 L1873.1,1421.7 L1873.3,1420.2 L1873.5,1421.7 L1873.8,1421.8 L1874.0,1421.8 L1874.2,1424.0 L1874.5,1424.8 L1874.7,1419.9 L1874.9,1424.4 L1875.2,1423.1 L1875.4,1421.7 L1875.6,1423.3 L1875.8,1421.1 L1876.1,1424.8 L1876.3,1422.2 L1876.5,1421.6 L1876.8,1419.6 L1877.0,1420.5 L1877.2,1423.1 L1877.4,1421.2 L1877.7,1421.9 L1877.9,1423.7 L1878.1,1422.9 L1878.4,1421.1 L1878.6,1422.8 L1878.8,1423.6 L1879.1,1423.3 L1879.3,1424.2 L1879.5,1424.7 L1879.7,1422.6 L1880.0,1422.7 L1880.2,1422.2 L1880.4,1425.6 L1880.7,1425.3 L1880.9,1423.6 L1881.1,1424.1 L1881.4,1424.6 L1881.6,1425.9 L1881.8,1425.0 L1882.0,1426.3 L1882.3,1422.9 L1882.5,1423.9 L1882.7,1425.9 L1883.0,1423.3 L1883.2,1425.9 L1883.4,1424.0 L1883.7,1424.5 L1883.9,1425.1 L1884.1,1423.0 L1884.3,1426.5 L1884.6,1425.0 L1884.8,1425.0 L1885.0,1426.6 L1885.3,1426.3 L1885.5,1424.3 L1885.7,1424.1 L1886.0,1425.5 L1886.2,1423.6 L1886.4,1423.7 L1886.6,1423.3 L1886.9,1424.5 L1887.1,1424.4 L1887.3,1423.6 L1887.6,1425.0 L1887.8,1425.3 L1888.0,1425.8 L1888.3,1423.8 L1888.5,1423.0 L1888.7,1426.6 L1888.9,1424.7 L1889.2,1423.6 L1889.4,1422.6 L1889.6,1424.0 L1889.9,1425.1 L1890.1,1423.2 L1890.3,1421.3 L1890.6,1423.4 L1890.8,1422.9 L1891.0,1421.6 L1891.2,1425.3 L1891.5,1422.5 L1891.7,1421.6 L1891.9,1422.0 L1892.2,1422.8 L1892.4,1423.4 L1892.6,1423.5 L1892.9,1424.2 L1893.1,1423.2 L1893.3,1423.9 L1893.5,1422.5 L1893.8,1422.6 L1894.0,1423.0 L1894.2,1422.7 L1894.5,1422.1 L1894.7,1423.6 L1894.9,1421.2 L1895.2,1421.7 L1895.4,1421.0 L1895.6,1422.0 L1895.8,1421.7 L1896.1,1421.0 L1896.3,1420.7 L1896.5,1421.0 L1896.8,1420.4 L1897.0,1420.1 L1897.2,1419.2 L1897.5,1418.9 L1897.7,1418.1 L1897.9,1417.3 L1898.1,1412.7 L1898.4,1414.3 L1898.6,1411.9 L1898.8,1411.4 L1899.1,1407.7 L1899.3,1403.8 L1899.5,1404.6 L1899.7,1400.8 L1900.0,1398.8 L1900.2,1395.0 L1900.4,1394.7 L1900.7,1393.0 L1900.9,1392.0 L1901.1,1394.3 L1901.4,1388.7 L1901.6,1387.8 L1901.8,1393.0 L1902.0,1391.1 L1902.3,1394.0 L1902.5,1392.9 L1902.7,1397.9 L1903.0,1397.7 L1903.2,1397.4 L1903.4,1399.9 L1903.7,1401.4 L1903.9,1402.6 L1904.1,1404.1 L1904.3,1403.3 L1904.6,1405.4 L1904.8,1401.4 L1905.0,1403.2 L1905.3,1404.3 L1905.5,1406.4 L1905.7,1402.2 L1906.0,1401.7 L1906.2,1403.1 L1906.4,1402.5 L1906.6,1402.9 L1906.9,1404.9 L1907.1,1406.0 L1907.3,1406.4 L1907.6,1405.9 L1907.8,1409.9 L1908.0,1412.6 L1908.3,1411.5 L1908.5,1412.8 L1908.7,1414.4 L1908.9,1415.1 L1909.2,1418.0 L1909.4,1418.4 L1909.6,1418.5 L1909.9,1418.7 L1910.1,1418.4 L1910.3,1418.6 L1910.6,1419.5 L1910.8,1420.2 L1911.0,1421.5 L1911.2,1421.0 L1911.5,1422.5 L1911.7,1421.7 L1911.9,1420.5 L1912.2,1420.6 L1912.4,1422.6 L1912.6,1420.3 L1912.9,1424.5 L1913.1,1421.4 L1913.3,1422.1 L1913.5,1422.5 L1913.8,1422.0 L1914.0,1423.1 L1914.2,1420.3 L1914.5,1423.5 L1914.7,1423.6 L1914.9,1423.0 L1915.2,1425.8 L1915.4,1423.9 L1915.6,1425.5 L1915.8,1422.6 L1916.1,1424.9 L1916.3,1424.6 L1916.5,1426.6 L1916.8,1422.9 L1917.0,1426.9 L1917.2,1426.8 L1917.5,1426.2 L1917.7,1427.9 L1917.9,1427.0 L1918.1,1426.1 L1918.4,1424.5 L1918.6,1424.4 L1918.8,1426.8 L1919.1,1426.0 L1919.3,1424.6 L1919.5,1423.9 L1919.7,1425.9 L1920.0,1425.2 L1920.2,1424.8 L1920.4,1424.6 L1920.7,1424.9 L1920.9,1422.8 L1921.1,1425.0 L1921.4,1423.6 L1921.6,1424.4 L1921.8,1421.4 L1922.0,1423.7 L1922.3,1427.5 L1922.5,1424.8 L1922.7,1427.8 L1923.0,1424.2 L1923.2,1426.0 L1923.4,1427.9 L1923.7,1426.6 L1923.9,1425.9 L1924.1,1423.9 L1924.3,1425.3 L1924.6,1424.9 L1924.8,1426.2 L1925.0,1426.1 L1925.3,1427.3 L1925.5,1426.3 L1925.7,1426.3 L1926.0,1426.2 L1926.2,1427.2 L1926.4,1426.7 L1926.6,1427.1 L1926.9,1426.4 L1927.1,1427.4 L1927.3,1427.4 L1927.6,1427.7 L1927.8,1427.4 L1928.0,1427.0 L1928.3,1427.8 L1928.5,1425.4 L1928.7,1425.6 L1928.9,1426.4 L1929.2,1426.0 L1929.4,1428.1 L1929.6,1427.5 L1929.9,1427.4 L1930.1,1426.6 L1930.3,1425.9 L1930.6,1425.8 L1930.8,1428.1 L1931.0,1426.5 L1931.2,1425.2 L1931.5,1426.7 L1931.7,1425.9 L1931.9,1428.1 L1932.2,1426.3 L1932.4,1426.6 L1932.6,1428.4 L1932.9,1425.3 L1933.1,1424.6 L1933.3,1425.0 L1933.5,1426.1 L1933.8,1425.7 L1934.0,1426.1 L1934.2,1424.5 L1934.5,1424.5 L1934.7,1423.4 L1934.9,1424.9 L1935.2,1423.9 L1935.4,1425.1 L1935.6,1425.7 L1935.8,1425.1 L1936.1,1426.1 L1936.3,1426.3 L1936.5,1424.6 L1936.8,1424.7 L1937.0,1426.3 L1937.2,1426.4 L1937.5,1425.6 L1937.7,1426.1 L1937.9,1424.5 L1938.1,1425.6 L1938.4,1426.6 L1938.6,1426.1 L1938.8,1424.7 L1939.1,1423.0 L1939.3,1424.7 L1939.5,1426.7 L1939.8,1426.3 L1940.0,1425.2 L1940.2,1425.6 L1940.4,1425.3 L1940.7,1423.3 L1940.9,1426.5 L1941.1,1426.4 L1941.4,1425.3 L1941.6,1425.2 L1941.8,1425.0 L1942.0,1424.4 L1942.3,1425.4 L1942.5,1424.4 L1942.7,1425.6 L1943.0,1425.6 L1943.2,1428.2 L1943.4,1427.5 L1943.7,1427.2 L1943.9,1426.3 L1944.1,1427.9 L1944.3,1428.2 L1944.6,1427.9 L1944.8,1424.9 L1945.0,1428.1 L1945.3,1425.7 L1945.5,1425.4 L1945.7,1423.2 L1946.0,1423.5 L1946.2,1424.0 L1946.4,1422.1 L1946.6,1421.1 L1946.9,1422.5 L1947.1,1423.6 L1947.3,1422.8 L1947.6,1421.1 L1947.8,1422.2 L1948.0,1420.8 L1948.3,1419.6 L1948.5,1420.8 L1948.7,1418.6 L1948.9,1421.5 L1949.2,1423.0 L1949.4,1421.4 L1949.6,1420.7 L1949.9,1423.7 L1950.1,1421.6 L1950.3,1420.4 L1950.6,1422.2 L1950.8,1420.5 L1951.0,1424.6 L1951.2,1422.3 L1951.5,1425.1 L1951.7,1425.2 L1951.9,1424.9 L1952.2,1421.7 L1952.4,1422.5 L1952.6,1421.0 L1952.9,1423.5 L1953.1,1424.3 L1953.3,1420.9 L1953.5,1422.5 L1953.8,1423.3 L1954.0,1420.2 L1954.2,1419.6 L1954.5,1421.7 L1954.7,1420.4 L1954.9,1419.8 L1955.2,1421.6 L1955.4,1421.4 L1955.6,1420.0 L1955.8,1418.2 L1956.1,1421.5 L1956.3,1419.1 L1956.5,1419.3 L1956.8,1419.7 L1957.0,1420.0 L1957.2,1420.6 L1957.5,1418.6 L1957.7,1419.4 L1957.9,1422.4 L1958.1,1418.8 L1958.4,1420.3 L1958.6,1419.6 L1958.8,1417.1 L1959.1,1419.4 L1959.3,1422.7 L1959.5,1421.0 L1959.8,1422.3 L1960.0,1420.0 L1960.2,1425.7 L1960.4,1421.2 L1960.7,1422.1 L1960.9,1422.8 L1961.1,1422.0 L1961.4,1420.5 L1961.6,1425.0 L1961.8,1423.4 L1962.1,1422.8 L1962.3,1422.7 L1962.5,1423.0 L1962.7,1422.1 L1963.0,1422.5 L1963.2,1423.2 L1963.4,1425.0 L1963.7,1422.1 L1963.9,1421.3 L1964.1,1421.9 L1964.3,1423.2 L1964.6,1422.6 L1964.8,1426.1 L1965.0,1423.8 L1965.3,1424.7 L1965.5,1425.5 L1965.7,1424.4 L1966.0,1426.1 L1966.2,1426.4 L1966.4,1427.2 L1966.6,1428.1 L1966.9,1426.3 L1967.1,1423.6 L1967.3,1423.3 L1967.6,1426.0 L1967.8,1424.9 L1968.0,1423.2 L1968.3,1426.1 L1968.5,1425.4 L1968.7,1426.5 L1968.9,1423.1 L1969.2,1425.8 L1969.4,1425.6 L1969.6,1425.4 L1969.9,1426.5 L1970.1,1422.6 L1970.3,1424.2 L1970.6,1423.1 L1970.8,1427.7 L1971.0,1424.3 L1971.2,1425.2 L1971.5,1426.0 L1971.7,1424.4 L1971.9,1422.3 L1972.2,1422.6 L1972.4,1424.3 L1972.6,1419.5 L1972.9,1422.1 L1973.1,1424.3 L1973.3,1424.3 L1973.5,1424.0 L1973.8,1423.4 L1974.0,1424.0 L1974.2,1424.2 L1974.5,1422.4 L1974.7,1424.5 L1974.9,1423.6 L1975.2,1424.6 L1975.4,1424.2 L1975.6,1422.4 L1975.8,1423.8 L1976.1,1422.9 L1976.3,1423.8 L1976.5,1422.3 L1976.8,1423.6 L1977.0,1422.1 L1977.2,1424.9 L1977.5,1421.9 L1977.7,1422.6 L1977.9,1424.2 L1978.1,1423.9 L1978.4,1425.5 L1978.6,1423.3 L1978.8,1422.8 L1979.1,1423.7 L1979.3,1421.8 L1979.5,1425.9 L1979.8,1423.6 L1980.0,1425.0 L1980.2,1424.3 L1980.4,1422.8 L1980.7,1424.0 L1980.9,1422.3 L1981.1,1424.8 L1981.4,1425.2 L1981.6,1424.8 L1981.8,1426.3 L1982.1,1425.5 L1982.3,1424.4 L1982.5,1423.0 L1982.7,1425.2 L1983.0,1424.9 L1983.2,1425.5 L1983.4,1425.1 L1983.7,1423.2 L1983.9,1422.9 L1984.1,1422.4 L1984.3,1423.0 L1984.6,1421.3 L1984.8,1424.7 L1985.0,1422.6 L1985.3,1421.8 L1985.5,1423.1 L1985.7,1422.2 L1986.0,1423.1 L1986.2,1423.4 L1986.4,1422.9 L1986.6,1424.1 L1986.9,1423.5 L1987.1,1422.9 L1987.3,1425.2 L1987.6,1423.3 L1987.8,1422.9 L1988.0,1422.6 L1988.3,1425.1 L1988.5,1423.6 L1988.7,1427.2 L1988.9,1426.8 L1989.2,1425.3 L1989.4,1426.8 L1989.6,1426.6 L1989.9,1426.7 L1990.1,1425.9 L1990.3,1426.2 L1990.6,1426.5 L1990.8,1425.4 L1991.0,1426.0 L1991.2,1425.5 L1991.5,1425.2 L1991.7,1425.1 L1991.9,1426.2 L1992.2,1426.7 L1992.4,1427.0 L1992.6,1428.1 L1992.9,1426.6 L1993.1,1427.4 L1993.3,1426.4 L1993.5,1427.4 L1993.8,1428.4 L1994.0,1426.9 L1994.2,1428.2 L1994.5,1427.9 L1994.7,1427.3 L1994.9,1427.4 L1995.2,1428.4 L1995.4,1426.7 L1995.6,1427.0 L1995.8,1427.4 L1996.1,1427.5 L1996.3,1427.1 L1996.5,1429.0 L1996.8,1426.0 L1997.0,1430.2 L1997.2,1428.8 L1997.5,1428.9 L1997.7,1427.6 L1997.9,1428.1 L1998.1,1428.0 L1998.4,1429.8 L1998.6,1427.3 L1998.8,1427.8 L1999.1,1431.0 L1999.3,1428.5 L1999.5,1430.8 L1999.8,1429.1 L2000.0,1427.8 L2000.2,1428.0 L2000.4,1429.1 L2000.7,1428.1 L2000.9,1425.9 L2001.1,1426.5 L2001.4,1425.6 L2001.6,1427.9 L2001.8,1425.3 L2002.1,1425.5 L2002.3,1426.6 L2002.5,1424.0 L2002.7,1425.5 L2003.0,1424.6 L2003.2,1426.1 L2003.4,1425.3 L2003.7,1425.3 L2003.9,1426.2 L2004.1,1426.1 L2004.4,1426.0 L2004.6,1426.6 L2004.8,1428.0 L2005.0,1426.4 L2005.3,1427.0 L2005.5,1426.7" fill="none" stroke="#4a5dab" stroke-width="4.5" stroke-linejoin="round" stroke-linecap="round"/>
<g stroke="#000" stroke-width="5.0" fill="none" stroke-linecap="butt">
<rect x="281.3" y="43.0" width="1724.2" height="1390.1"/>
<line x1="253.6" y1="1433.1" x2="281.3" y2="1433.1"/>
<line x1="267.3" y1="1346.2" x2="281.3" y2="1346.2"/>
<line x1="253.6" y1="1259.3" x2="281.3" y2="1259.3"/>
<line x1="267.3" y1="1172.5" x2="281.3" y2="1172.5"/>
<line x1="253.6" y1="1085.6" x2="281.3" y2="1085.6"/>
<line x1="267.3" y1="998.7" x2="281.3" y2="998.7"/>
<line x1="253.6" y1="911.8" x2="281.3" y2="911.8"/>
<line x1="267.3" y1="824.9" x2="281.3" y2="824.9"/>
<line x1="253.6" y1="738.0" x2="281.3" y2="738.0"/>
<line x1="267.3" y1="651.2" x2="281.3" y2="651.2"/>
<line x1="253.6" y1="564.3" x2="281.3" y2="564.3"/>
<line x1="267.3" y1="477.4" x2="281.3" y2="477.4"/>
<line x1="253.6" y1="390.5" x2="281.3" y2="390.5"/>
<line x1="267.3" y1="303.6" x2="281.3" y2="303.6"/>
<line x1="253.6" y1="216.8" x2="281.3" y2="216.8"/>
<line x1="267.3" y1="129.9" x2="281.3" y2="129.9"/>
<line x1="253.6" y1="43.0" x2="281.3" y2="43.0"/>
<line x1="281.3" y1="1433.1" x2="281.3" y2="1446.6"/>
<line x1="396.2" y1="1433.1" x2="396.2" y2="1460.1"/>
<line x1="511.2" y1="1433.1" x2="511.2" y2="1446.6"/>
<line x1="626.1" y1="1433.1" x2="626.1" y2="1460.1"/>
<line x1="741.1" y1="1433.1" x2="741.1" y2="1446.6"/>
<line x1="856.0" y1="1433.1" x2="856.0" y2="1460.1"/>
<line x1="971.0" y1="1433.1" x2="971.0" y2="1446.6"/>
<line x1="1085.9" y1="1433.1" x2="1085.9" y2="1460.1"/>
<line x1="1200.9" y1="1433.1" x2="1200.9" y2="1446.6"/>
<line x1="1315.8" y1="1433.1" x2="1315.8" y2="1460.1"/>
<line x1="1430.8" y1="1433.1" x2="1430.8" y2="1446.6"/>
<line x1="1545.7" y1="1433.1" x2="1545.7" y2="1460.1"/>
<line x1="1660.7" y1="1433.1" x2="1660.7" y2="1446.6"/>
<line x1="1775.6" y1="1433.1" x2="1775.6" y2="1460.1"/>
<line x1="1890.6" y1="1433.1" x2="1890.6" y2="1446.6"/>
<line x1="2005.5" y1="1433.1" x2="2005.5" y2="1460.1"/>
</g>
<text transform="translate(234.70 1451.10) scale(0.9860 1.0600)" font-size="60" text-anchor="end" fill="#000" stroke="#fff" stroke-width="0.6">0</text>
<text transform="translate(234.70 1277.34) scale(0.9860 1.0600)" font-size="60" text-anchor="end" fill="#000" stroke="#fff" stroke-width="0.6">500</text>
<text transform="translate(234.70 1103.57) scale(0.9860 1.0600)" font-size="60" text-anchor="end" fill="#000" stroke="#fff" stroke-width="0.6">1000</text>
<text transform="translate(234.70 929.81) scale(0.9860 1.0600)" font-size="60" text-anchor="end" fill="#000" stroke="#fff" stroke-width="0.6">1500</text>
<text transform="translate(234.70 756.05) scale(0.9860 1.0600)" font-size="60" text-anchor="end" fill="#000" stroke="#fff" stroke-width="0.6">2000</text>
<text transform="translate(234.70 582.29) scale(0.9860 1.0600)" font-size="60" text-anchor="end" fill="#000" stroke="#fff" stroke-width="0.6">2500</text>
<text transform="translate(234.70 408.53) scale(0.9860 1.0600)" font-size="60" text-anchor="end" fill="#000" stroke="#fff" stroke-width="0.6">3000</text>
<text transform="translate(234.70 234.76) scale(0.9860 1.0600)" font-size="60" text-anchor="end" fill="#000" stroke="#fff" stroke-width="0.6">3500</text>
<text transform="translate(234.70 61.00) scale(0.9860 1.0600)" font-size="60" text-anchor="end" fill="#000" stroke="#fff" stroke-width="0.6">4000</text>
<text transform="translate(395.35 1525.70) scale(0.9860 1.0600)" font-size="60" text-anchor="middle" fill="#000" stroke="#fff" stroke-width="0.6">10</text>
<text transform="translate(625.24 1525.70) scale(0.9860 1.0600)" font-size="60" text-anchor="middle" fill="#000" stroke="#fff" stroke-width="0.6">20</text>
<text transform="translate(855.13 1525.70) scale(0.9860 1.0600)" font-size="60" text-anchor="middle" fill="#000" stroke="#fff" stroke-width="0.6">30</text>
<text transform="translate(1085.03 1525.70) scale(0.9860 1.0600)" font-size="60" text-anchor="middle" fill="#000" stroke="#fff" stroke-width="0.6">40</text>
<text transform="translate(1314.92 1525.70) scale(0.9860 1.0600)" font-size="60" text-anchor="middle" fill="#000" stroke="#fff" stroke-width="0.6">50</text>
<text transform="translate(1544.81 1525.70) scale(0.9860 1.0600)" font-size="60" text-anchor="middle" fill="#000" stroke="#fff" stroke-width="0.6">60</text>
<text transform="translate(1774.71 1525.70) scale(0.9860 1.0600)" font-size="60" text-anchor="middle" fill="#000" stroke="#fff" stroke-width="0.6">70</text>
<text transform="translate(2004.60 1525.70) scale(0.9860 1.0600)" font-size="60" text-anchor="middle" fill="#000" stroke="#fff" stroke-width="0.6">80</text>
<text transform="translate(1143.70 1601.30) scale(1.0240 1.0450)" font-size="71" text-anchor="middle" fill="#000" stroke="#fff" stroke-width="0.6">2<tspan font-family="&quot;Liberation Serif&quot;, serif" dx="2">θ</tspan><tspan dx="1.5"> (°)</tspan></text>
<text transform="translate(82.00 737.70) rotate(-90) scale(1.0240 1.0450)" font-size="71" text-anchor="middle" fill="#000" stroke="#fff" stroke-width="0.6">Intensity (CPS)</text>
<text transform="translate(1373.80 151.80) scale(1.0020 1.0500)" font-size="59" text-anchor="start" fill="#000" stroke="#fff" stroke-width="0.6">H — Hematite (Fe<tspan font-size="41" dy="16.5">2</tspan><tspan dy="-16.5">O</tspan><tspan font-size="41" dy="16.5">3</tspan><tspan dy="-16.5" dx="2">)</tspan></text>
<text transform="translate(1373.80 237.90) scale(1.0020 1.0500)" font-size="59" text-anchor="start" fill="#000" stroke="#fff" stroke-width="0.6">Q — Quartz (SiO<tspan font-size="41" dy="16.5">2</tspan><tspan dy="-16.5" dx="2">)</tspan></text>
<text transform="translate(1373.80 325.50) scale(1.0020 1.0500)" font-size="59" text-anchor="start" fill="#000" stroke="#fff" stroke-width="0.6">M — Magnetite (Fe<tspan font-size="41" dy="16.5">3</tspan><tspan dy="-16.5">O</tspan><tspan font-size="41" dy="16.5">4</tspan><tspan dy="-16.5" dx="2">)</tspan></text>
<text transform="translate(722.00 1002.80) scale(1.0000 1.0550)" font-size="60" text-anchor="middle" fill="#f6625c" stroke="#fff" stroke-width="0.6">H</text>
<text transform="translate(927.90 166.00) scale(1.0000 1.0550)" font-size="60" text-anchor="middle" fill="#f6625c" stroke="#fff" stroke-width="0.6">H</text>
<text transform="translate(984.30 605.10) scale(1.0000 1.0550)" font-size="60" text-anchor="middle" fill="#f6625c" stroke="#fff" stroke-width="0.6">H</text>
<text transform="translate(1070.30 1398.70) scale(1.0000 1.0550)" font-size="60" text-anchor="middle" fill="#f6625c" stroke="#fff" stroke-width="0.6">H</text>
<text transform="translate(1104.50 1181.20) scale(1.0000 1.0550)" font-size="60" text-anchor="middle" fill="#f6625c" stroke="#fff" stroke-width="0.6">H</text>
<text transform="translate(1162.70 1398.70) scale(1.0000 1.0550)" font-size="60" text-anchor="middle" fill="#f6625c" stroke="#fff" stroke-width="0.6">H</text>
<text transform="translate(1303.40 1123.40) scale(1.0000 1.0550)" font-size="60" text-anchor="middle" fill="#f6625c" stroke="#fff" stroke-width="0.6">H</text>
<text transform="translate(1410.30 1065.10) scale(1.0000 1.0550)" font-size="60" text-anchor="middle" fill="#f6625c" stroke="#fff" stroke-width="0.6">H</text>
<text transform="translate(1491.40 1347.90) scale(1.0000 1.0550)" font-size="60" text-anchor="middle" fill="#f6625c" stroke="#fff" stroke-width="0.6">H</text>
<text transform="translate(1602.50 1191.50) scale(1.0000 1.0550)" font-size="60" text-anchor="middle" fill="#f6625c" stroke="#fff" stroke-width="0.6">H</text>
<text transform="translate(1639.30 1227.50) scale(1.0000 1.0550)" font-size="60" text-anchor="middle" fill="#f6625c" stroke="#fff" stroke-width="0.6">H</text>
<text transform="translate(1821.70 1361.00) scale(1.0000 1.0550)" font-size="60" text-anchor="middle" fill="#f6625c" stroke="#fff" stroke-width="0.6">H</text>
<text transform="translate(1900.60 1388.10) scale(1.0000 1.0550)" font-size="60" text-anchor="middle" fill="#f6625c" stroke="#fff" stroke-width="0.6">H</text>
<text transform="translate(1955.00 1411.20) scale(1.0000 1.0550)" font-size="60" text-anchor="middle" fill="#f6625c" stroke="#fff" stroke-width="0.6">H</text>
<text transform="translate(645.20 1360.70) scale(1.0000 1.0550)" font-size="60" text-anchor="middle" fill="#0aabe8" stroke="#fff" stroke-width="0.6">Q</text>
<text transform="translate(677.80 1392.40) scale(1.0000 1.0550)" font-size="60" text-anchor="middle" fill="#0aabe8" stroke="#fff" stroke-width="0.6">Q</text>
<text transform="translate(780.00 1162.20) scale(1.0000 1.0550)" font-size="60" text-anchor="middle" fill="#0aabe8" stroke="#fff" stroke-width="0.6">Q</text>
<text transform="translate(1545.30 1409.70) scale(1.0000 1.0550)" font-size="60" text-anchor="middle" fill="#0aabe8" stroke="#fff" stroke-width="0.6">Q</text>
<text transform="translate(586.70 1394.00) scale(1.0000 1.0550)" font-size="60" text-anchor="middle" fill="#24b56c" stroke="#fff" stroke-width="0.6">M</text>
<text transform="translate(859.30 1371.70) scale(1.0000 1.0550)" font-size="60" text-anchor="middle" fill="#24b56c" stroke="#fff" stroke-width="0.6">M</text>
<text transform="translate(1766.50 1402.20) scale(1.0000 1.0550)" font-size="60" text-anchor="middle" fill="#24b56c" stroke="#fff" stroke-width="0.6">M</text>
</svg></body></html>
